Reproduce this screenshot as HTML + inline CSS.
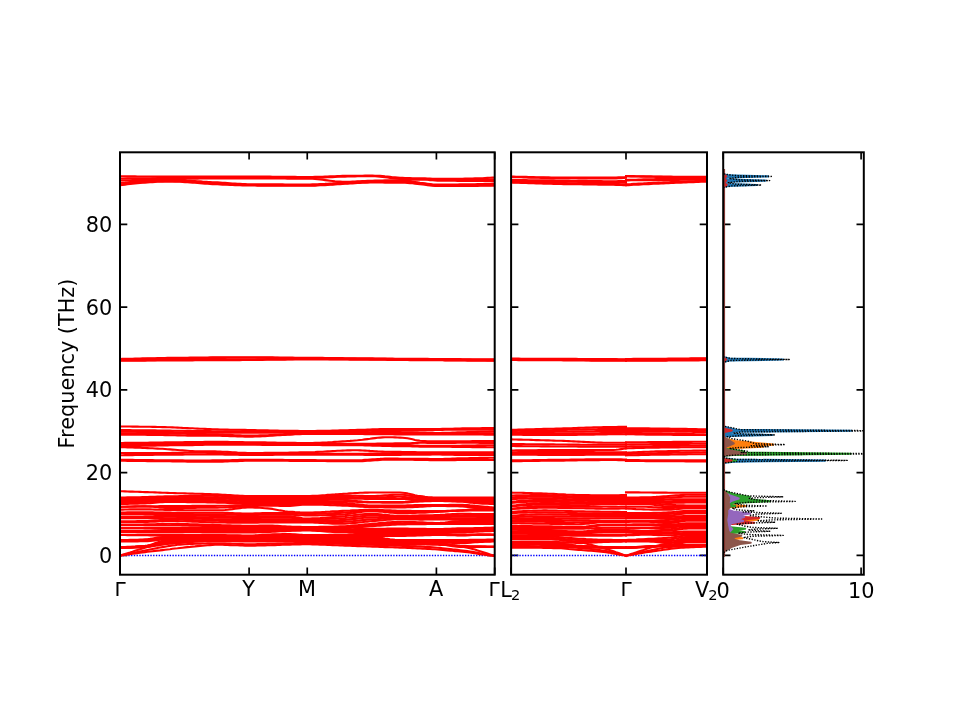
<!DOCTYPE html>
<html lang="en"><head><meta charset="utf-8"><title>Phonon band structure and DOS</title>
<style>html,body{margin:0;padding:0;background:#fff}svg{display:block}</style></head>
<body>
<svg width="960" height="720" viewBox="0 0 960 720">
<rect width="960" height="720" fill="#ffffff"/>
<defs>
<clipPath id="c1"><rect x="120.00" y="152.30" width="374.70" height="422.40"/></clipPath>
<clipPath id="c2"><rect x="511.10" y="152.30" width="195.90" height="422.40"/></clipPath>
<clipPath id="c3"><rect x="723.20" y="152.30" width="140.60" height="422.40"/></clipPath>
</defs>
<path d="M120.00 555.30L127.30 555.30M494.70 555.30L487.40 555.30M120.00 472.55L127.30 472.55M494.70 472.55L487.40 472.55M120.00 389.80L127.30 389.80M494.70 389.80L487.40 389.80M120.00 307.05L127.30 307.05M494.70 307.05L487.40 307.05M120.00 224.30L127.30 224.30M494.70 224.30L487.40 224.30M511.10 555.30L518.40 555.30M707.00 555.30L699.70 555.30M511.10 472.55L518.40 472.55M707.00 472.55L699.70 472.55M511.10 389.80L518.40 389.80M707.00 389.80L699.70 389.80M511.10 307.05L518.40 307.05M707.00 307.05L699.70 307.05M511.10 224.30L518.40 224.30M707.00 224.30L699.70 224.30M723.20 555.30L730.50 555.30M863.80 555.30L856.50 555.30M723.20 472.55L730.50 472.55M863.80 472.55L856.50 472.55M723.20 389.80L730.50 389.80M863.80 389.80L856.50 389.80M723.20 307.05L730.50 307.05M863.80 307.05L856.50 307.05M723.20 224.30L730.50 224.30M863.80 224.30L856.50 224.30M120.00 574.70L120.00 567.40M120.00 152.30L120.00 159.60M249.10 574.70L249.10 567.40M249.10 152.30L249.10 159.60M307.25 574.70L307.25 567.40M307.25 152.30L307.25 159.60M436.40 574.70L436.40 567.40M436.40 152.30L436.40 159.60M494.70 574.70L494.70 567.40M494.70 152.30L494.70 159.60M511.10 574.70L511.10 567.40M511.10 152.30L511.10 159.60M626.00 574.70L626.00 567.40M626.00 152.30L626.00 159.60M707.00 574.70L707.00 567.40M707.00 152.30L707.00 159.60M723.20 574.70L723.20 567.40M723.20 152.30L723.20 159.60M861.10 574.70L861.10 567.40M861.10 152.30L861.10 159.60" stroke="#000" stroke-width="1.67" fill="none"/>
<g clip-path="url(#c1)">
<line x1="120.0" y1="555.4" x2="494.7" y2="555.4" stroke="#0000ff" stroke-width="1.5" stroke-dasharray="1.38 1.38"/>
<polyline points="120.0,176.3 122.5,176.3 125.0,176.4 127.5,176.4 130.0,176.4 132.5,176.4 135.0,176.4 137.5,176.5 140.0,176.5 142.5,176.5 145.0,176.5 147.5,176.5 150.0,176.5 152.5,176.6 155.0,176.6 157.5,176.6 160.0,176.6 162.5,176.6 165.0,176.6 167.5,176.6 170.0,176.6 172.5,176.6 175.0,176.6 177.5,176.6 180.0,176.6 182.5,176.6 185.0,176.6 187.5,176.6 190.0,176.6 192.5,176.6 195.0,176.5 197.5,176.5 200.0,176.5 202.5,176.5 205.0,176.5 207.5,176.5 210.0,176.5 212.5,176.5 215.0,176.5 217.5,176.5 220.0,176.5 222.5,176.5 225.0,176.5 227.5,176.5 230.0,176.5 232.5,176.5 235.0,176.5 237.5,176.5 240.0,176.5 242.5,176.5 245.0,176.5 247.5,176.5 250.0,176.5 252.5,176.5 255.0,176.5 257.5,176.5 260.0,176.5 262.5,176.6 265.0,176.6 267.5,176.6 270.0,176.6 272.5,176.7 275.0,176.7 277.5,176.7 280.0,176.8 282.5,176.8 285.0,176.8 287.5,176.9 290.0,176.9 292.5,176.9 295.0,176.9 297.5,177.0 300.0,177.0 302.5,177.0 305.0,177.0 307.5,177.0 310.0,177.0 312.5,177.0 315.0,176.9 317.5,176.8 320.0,176.8 322.5,176.7 325.0,176.6 327.5,176.5 330.0,176.4 332.5,176.3 335.0,176.2 337.5,176.1 340.0,176.0 342.5,175.9 345.0,175.9 347.5,175.9 350.0,175.8 352.5,175.8 355.0,175.7 357.5,175.7 360.0,175.7 362.5,175.7 365.0,175.6 367.5,175.6 370.0,175.6 372.5,175.6 375.0,175.7 377.5,175.8 380.0,175.9 382.5,176.1 385.0,176.4 387.5,176.6 390.0,176.9 392.5,177.2 395.0,177.4 397.5,177.6 400.0,177.8 402.5,177.9 405.0,178.0 407.5,178.1 410.0,178.1 412.5,178.2 415.0,178.2 417.5,178.3 420.0,178.3 422.5,178.4 425.0,178.4 427.5,178.5 430.0,178.6 432.5,178.7 435.0,178.8 437.5,178.8 440.0,178.8 442.5,178.8 445.0,178.8 447.5,178.8 450.0,178.8 452.5,178.8 455.0,178.8 457.5,178.7 460.0,178.7 462.5,178.7 465.0,178.6 467.5,178.6 470.0,178.6 472.5,178.5 475.0,178.4 477.5,178.3 480.0,178.3 482.5,178.2 485.0,178.0 487.5,177.9 490.0,177.8 492.5,177.6 494.7,177.5" fill="none" stroke="#ff0000" stroke-width="2.08" stroke-linejoin="round" stroke-linecap="square"/>
<polyline points="120.0,178.5 122.5,178.5 125.0,178.5 127.5,178.4 130.0,178.4 132.5,178.4 135.0,178.4 137.5,178.3 140.0,178.3 142.5,178.3 145.0,178.3 147.5,178.2 150.0,178.2 152.5,178.2 155.0,178.2 157.5,178.1 160.0,178.1 162.5,178.1 165.0,178.1 167.5,178.0 170.0,178.0 172.5,178.0 175.0,177.9 177.5,177.9 180.0,177.9 182.5,177.8 185.0,177.8 187.5,177.8 190.0,177.7 192.5,177.7 195.0,177.7 197.5,177.6 200.0,177.6 202.5,177.6 205.0,177.5 207.5,177.5 210.0,177.5 212.5,177.5 215.0,177.5 217.5,177.5 220.0,177.5 222.5,177.5 225.0,177.5 227.5,177.5 230.0,177.5 232.5,177.5 235.0,177.5 237.5,177.6 240.0,177.6 242.5,177.6 245.0,177.6 247.5,177.6 250.0,177.6 252.5,177.6 255.0,177.6 257.5,177.6 260.0,177.7 262.5,177.7 265.0,177.7 267.5,177.7 270.0,177.8 272.5,177.8 275.0,177.8 277.5,177.8 280.0,177.8 282.5,177.9 285.0,177.9 287.5,177.9 290.0,177.9 292.5,177.9 295.0,178.0 297.5,178.0 300.0,178.0 302.5,178.0 305.0,178.0 307.5,178.0 310.0,178.0 312.5,177.9 315.0,177.9 317.5,177.8 320.0,177.7 322.5,177.6 325.0,177.5 327.5,177.3 330.0,177.2 332.5,177.1 335.0,177.0 337.5,176.8 340.0,176.7 342.5,176.7 345.0,176.6 347.5,176.5 350.0,176.5 352.5,176.4 355.0,176.4 357.5,176.3 360.0,176.3 362.5,176.3 365.0,176.2 367.5,176.2 370.0,176.2 372.5,176.2 375.0,176.3 377.5,176.4 380.0,176.6 382.5,176.9 385.0,177.2 387.5,177.5 390.0,177.9 392.5,178.2 395.0,178.5 397.5,178.7 400.0,178.9 402.5,179.0 405.0,179.0 407.5,179.0 410.0,179.0 412.5,179.0 415.0,179.0 417.5,179.0 420.0,179.0 422.5,179.0 425.0,179.0 427.5,179.1 430.0,179.3 432.5,179.5 435.0,179.7 437.5,179.7 440.0,179.7 442.5,179.7 445.0,179.7 447.5,179.7 450.0,179.7 452.5,179.7 455.0,179.7 457.5,179.7 460.0,179.7 462.5,179.7 465.0,179.7 467.5,179.7 470.0,179.7 472.5,179.7 475.0,179.6 477.5,179.6 480.0,179.6 482.5,179.6 485.0,179.6 487.5,179.6 490.0,179.5 492.5,179.5 494.7,179.5" fill="none" stroke="#ff0000" stroke-width="2.08" stroke-linejoin="round" stroke-linecap="square"/>
<polyline points="120.0,180.5 122.5,180.4 125.0,180.4 127.5,180.3 130.0,180.2 132.5,180.1 135.0,180.1 137.5,180.0 140.0,179.9 142.5,179.9 145.0,179.8 147.5,179.7 150.0,179.7 152.5,179.6 155.0,179.5 157.5,179.5 160.0,179.4 162.5,179.4 165.0,179.3 167.5,179.3 170.0,179.2 172.5,179.1 175.0,179.1 177.5,179.0 180.0,179.0 182.5,178.9 185.0,178.9 187.5,178.8 190.0,178.7 192.5,178.7 195.0,178.6 197.5,178.6 200.0,178.5 202.5,178.5 205.0,178.5 207.5,178.4 210.0,178.4 212.5,178.4 215.0,178.4 217.5,178.4 220.0,178.4 222.5,178.4 225.0,178.4 227.5,178.4 230.0,178.4 232.5,178.4 235.0,178.5 237.5,178.5 240.0,178.5 242.5,178.5 245.0,178.5 247.5,178.5 250.0,178.5 252.5,178.5 255.0,178.5 257.5,178.5 260.0,178.5 262.5,178.5 265.0,178.5 267.5,178.5 270.0,178.5 272.5,178.5 275.0,178.5 277.5,178.5 280.0,178.5 282.5,178.5 285.0,178.5 287.5,178.6 290.0,178.6 292.5,178.6 295.0,178.6 297.5,178.6 300.0,178.6 302.5,178.6 305.0,178.6 307.5,178.6 310.0,178.7 312.5,178.8 315.0,179.0 317.5,179.2 320.0,179.5 322.5,179.8 325.0,180.1 327.5,180.4 330.0,180.7 332.5,181.0 335.0,181.3 337.5,181.5 340.0,181.6 342.5,181.8 345.0,181.8 347.5,181.8 350.0,181.7 352.5,181.6 355.0,181.5 357.5,181.4 360.0,181.3 362.5,181.1 365.0,181.0 367.5,180.9 370.0,180.8 372.5,180.7 375.0,180.6 377.5,180.6 380.0,180.5 382.5,180.5 385.0,180.4 387.5,180.4 390.0,180.4 392.5,180.3 395.0,180.3 397.5,180.2 400.0,180.2 402.5,180.1 405.0,180.1 407.5,180.0 410.0,179.9 412.5,179.8 415.0,179.8 417.5,179.7 420.0,179.6 422.5,179.6 425.0,179.6 427.5,179.8 430.0,180.1 432.5,180.3 435.0,180.5 437.5,180.6 440.0,180.7 442.5,180.7 445.0,180.7 447.5,180.8 450.0,180.8 452.5,180.8 455.0,180.8 457.5,180.9 460.0,180.9 462.5,180.9 465.0,180.9 467.5,180.9 470.0,180.9 472.5,181.0 475.0,181.0 477.5,181.0 480.0,181.0 482.5,181.0 485.0,181.0 487.5,181.0 490.0,181.0 492.5,181.0 494.7,181.0" fill="none" stroke="#ff0000" stroke-width="2.08" stroke-linejoin="round" stroke-linecap="square"/>
<polyline points="120.0,183.0 122.5,182.7 125.0,182.5 127.5,182.2 130.0,182.0 132.5,181.8 135.0,181.6 137.5,181.4 140.0,181.2 142.5,181.1 145.0,180.9 147.5,180.8 150.0,180.7 152.5,180.6 155.0,180.5 157.5,180.4 160.0,180.3 162.5,180.3 165.0,180.2 167.5,180.2 170.0,180.2 172.5,180.2 175.0,180.2 177.5,180.3 180.0,180.4 182.5,180.5 185.0,180.6 187.5,180.7 190.0,180.8 192.5,181.0 195.0,181.1 197.5,181.3 200.0,181.4 202.5,181.6 205.0,181.7 207.5,181.9 210.0,182.0 212.5,182.2 215.0,182.3 217.5,182.4 220.0,182.6 222.5,182.8 225.0,182.9 227.5,183.1 230.0,183.3 232.5,183.5 235.0,183.6 237.5,183.8 240.0,183.9 242.5,184.0 245.0,184.1 247.5,184.2 250.0,184.2 252.5,184.2 255.0,184.3 257.5,184.3 260.0,184.3 262.5,184.3 265.0,184.3 267.5,184.4 270.0,184.4 272.5,184.4 275.0,184.4 277.5,184.4 280.0,184.4 282.5,184.4 285.0,184.5 287.5,184.5 290.0,184.5 292.5,184.5 295.0,184.5 297.5,184.5 300.0,184.5 302.5,184.5 305.0,184.5 307.5,184.5 310.0,184.5 312.5,184.4 315.0,184.4 317.5,184.3 320.0,184.1 322.5,184.0 325.0,183.9 327.5,183.7 330.0,183.5 332.5,183.4 335.0,183.2 337.5,183.0 340.0,182.9 342.5,182.7 345.0,182.6 347.5,182.5 350.0,182.3 352.5,182.2 355.0,182.0 357.5,181.9 360.0,181.8 362.5,181.6 365.0,181.5 367.5,181.4 370.0,181.3 372.5,181.3 375.0,181.3 377.5,181.2 380.0,181.2 382.5,181.1 385.0,181.1 387.5,181.1 390.0,181.1 392.5,181.0 395.0,181.0 397.5,181.0 400.0,181.0 402.5,181.0 405.0,181.0 407.5,181.1 410.0,181.4 412.5,181.7 415.0,182.0 417.5,182.4 420.0,182.8 422.5,183.1 425.0,183.4 427.5,183.7 430.0,184.0 432.5,184.3 435.0,184.5 437.5,184.5 440.0,184.5 442.5,184.5 445.0,184.5 447.5,184.5 450.0,184.5 452.5,184.5 455.0,184.5 457.5,184.5 460.0,184.4 462.5,184.4 465.0,184.4 467.5,184.3 470.0,184.3 472.5,184.3 475.0,184.2 477.5,184.1 480.0,184.1 482.5,184.0 485.0,183.9 487.5,183.8 490.0,183.7 492.5,183.6 494.7,183.5" fill="none" stroke="#ff0000" stroke-width="2.08" stroke-linejoin="round" stroke-linecap="square"/>
<polyline points="120.0,184.5 122.5,184.2 125.0,183.9 127.5,183.6 130.0,183.3 132.5,183.0 135.0,182.8 137.5,182.5 140.0,182.3 142.5,182.1 145.0,181.9 147.5,181.7 150.0,181.6 152.5,181.5 155.0,181.3 157.5,181.2 160.0,181.2 162.5,181.1 165.0,181.0 167.5,181.0 170.0,181.0 172.5,181.0 175.0,181.1 177.5,181.1 180.0,181.2 182.5,181.3 185.0,181.4 187.5,181.6 190.0,181.7 192.5,181.9 195.0,182.0 197.5,182.2 200.0,182.4 202.5,182.5 205.0,182.7 207.5,182.9 210.0,183.0 212.5,183.2 215.0,183.3 217.5,183.4 220.0,183.6 222.5,183.7 225.0,183.9 227.5,184.1 230.0,184.2 232.5,184.4 235.0,184.5 237.5,184.6 240.0,184.8 242.5,184.9 245.0,184.9 247.5,185.0 250.0,185.0 252.5,185.0 255.0,185.0 257.5,185.1 260.0,185.1 262.5,185.1 265.0,185.1 267.5,185.1 270.0,185.1 272.5,185.1 275.0,185.1 277.5,185.1 280.0,185.2 282.5,185.2 285.0,185.2 287.5,185.2 290.0,185.2 292.5,185.2 295.0,185.2 297.5,185.2 300.0,185.2 302.5,185.2 305.0,185.2 307.5,185.2 310.0,185.2 312.5,185.1 315.0,185.1 317.5,185.0 320.0,184.8 322.5,184.7 325.0,184.6 327.5,184.4 330.0,184.2 332.5,184.1 335.0,183.9 337.5,183.7 340.0,183.6 342.5,183.4 345.0,183.3 347.5,183.2 350.0,183.0 352.5,182.8 355.0,182.7 357.5,182.5 360.0,182.3 362.5,182.2 365.0,182.1 367.5,182.0 370.0,181.9 372.5,181.9 375.0,181.9 377.5,181.9 380.0,181.9 382.5,181.9 385.0,181.9 387.5,181.9 390.0,181.9 392.5,181.9 395.0,181.9 397.5,181.9 400.0,181.9 402.5,181.9 405.0,181.9 407.5,182.0 410.0,182.2 412.5,182.5 415.0,182.8 417.5,183.2 420.0,183.5 422.5,183.8 425.0,184.1 427.5,184.4 430.0,184.8 432.5,185.1 435.0,185.3 437.5,185.3 440.0,185.3 442.5,185.3 445.0,185.3 447.5,185.3 450.0,185.3 452.5,185.3 455.0,185.3 457.5,185.3 460.0,185.3 462.5,185.3 465.0,185.3 467.5,185.3 470.0,185.2 472.5,185.2 475.0,185.2 477.5,185.2 480.0,185.2 482.5,185.2 485.0,185.1 487.5,185.1 490.0,185.1 492.5,185.0 494.7,185.0" fill="none" stroke="#ff0000" stroke-width="2.08" stroke-linejoin="round" stroke-linecap="square"/>
<polyline points="120.0,185.3 122.5,184.9 125.0,184.6 127.5,184.3 130.0,184.0 132.5,183.7 135.0,183.4 137.5,183.2 140.0,183.0 142.5,182.8 145.0,182.6 147.5,182.4 150.0,182.2 152.5,182.1 155.0,181.9 157.5,181.8 160.0,181.8 162.5,181.7 165.0,181.6 167.5,181.6 170.0,181.6 172.5,181.6 175.0,181.7 177.5,181.7 180.0,181.8 182.5,182.0 185.0,182.1 187.5,182.3 190.0,182.5 192.5,182.6 195.0,182.8 197.5,183.0 200.0,183.2 202.5,183.4 205.0,183.6 207.5,183.8 210.0,183.9 212.5,184.1 215.0,184.2 217.5,184.3 220.0,184.4 222.5,184.6 225.0,184.7 227.5,184.8 230.0,184.9 232.5,185.0 235.0,185.1 237.5,185.2 240.0,185.3 242.5,185.4 245.0,185.4 247.5,185.5 250.0,185.5 252.5,185.5 255.0,185.5 257.5,185.6 260.0,185.6 262.5,185.6 265.0,185.6 267.5,185.6 270.0,185.6 272.5,185.6 275.0,185.6 277.5,185.6 280.0,185.7 282.5,185.7 285.0,185.7 287.5,185.7 290.0,185.7 292.5,185.7 295.0,185.7 297.5,185.7 300.0,185.7 302.5,185.7 305.0,185.7 307.5,185.7 310.0,185.7 312.5,185.6 315.0,185.6 317.5,185.5 320.0,185.3 322.5,185.2 325.0,185.1 327.5,184.9 330.0,184.7 332.5,184.6 335.0,184.4 337.5,184.2 340.0,184.1 342.5,183.9 345.0,183.8 347.5,183.7 350.0,183.5 352.5,183.4 355.0,183.2 357.5,183.0 360.0,182.9 362.5,182.8 365.0,182.7 367.5,182.6 370.0,182.5 372.5,182.5 375.0,182.5 377.5,182.5 380.0,182.5 382.5,182.5 385.0,182.6 387.5,182.6 390.0,182.6 392.5,182.6 395.0,182.7 397.5,182.7 400.0,182.7 402.5,182.8 405.0,182.8 407.5,182.9 410.0,183.1 412.5,183.3 415.0,183.6 417.5,183.9 420.0,184.2 422.5,184.4 425.0,184.7 427.5,185.1 430.0,185.4 432.5,185.8 435.0,186.0 437.5,186.0 440.0,186.0 442.5,186.0 445.0,186.0 447.5,186.0 450.0,186.0 452.5,186.0 455.0,186.0 457.5,186.0 460.0,186.0 462.5,186.0 465.0,186.0 467.5,185.9 470.0,185.9 472.5,185.9 475.0,185.9 477.5,185.9 480.0,185.8 482.5,185.8 485.0,185.8 487.5,185.7 490.0,185.7 492.5,185.6 494.7,185.6" fill="none" stroke="#ff0000" stroke-width="2.08" stroke-linejoin="round" stroke-linecap="square"/>
<polyline points="120.0,359.0 122.5,358.9 125.0,358.9 127.5,358.8 130.0,358.7 132.5,358.7 135.0,358.6 137.5,358.5 140.0,358.5 142.5,358.4 145.0,358.4 147.5,358.3 150.0,358.3 152.5,358.2 155.0,358.2 157.5,358.1 160.0,358.1 162.5,358.0 165.0,358.0 167.5,357.9 170.0,357.9 172.5,357.9 175.0,357.8 177.5,357.8 180.0,357.8 182.5,357.7 185.0,357.7 187.5,357.7 190.0,357.6 192.5,357.6 195.0,357.6 197.5,357.5 200.0,357.5 202.5,357.5 205.0,357.5 207.5,357.5 210.0,357.4 212.5,357.4 215.0,357.4 217.5,357.4 220.0,357.4 222.5,357.4 225.0,357.4 227.5,357.3 230.0,357.3 232.5,357.3 235.0,357.3 237.5,357.3 240.0,357.3 242.5,357.3 245.0,357.3 247.5,357.3 250.0,357.3 252.5,357.3 255.0,357.3 257.5,357.3 260.0,357.3 262.5,357.3 265.0,357.4 267.5,357.4 270.0,357.4 272.5,357.4 275.0,357.5 277.5,357.5 280.0,357.5 282.5,357.5 285.0,357.6 287.5,357.6 290.0,357.6 292.5,357.6 295.0,357.7 297.5,357.7 300.0,357.7 302.5,357.8 305.0,357.8 307.5,357.8 310.0,357.8 312.5,357.8 315.0,357.9 317.5,357.9 320.0,357.9 322.5,357.9 325.0,358.0 327.5,358.0 330.0,358.0 332.5,358.0 335.0,358.1 337.5,358.1 340.0,358.1 342.5,358.1 345.0,358.2 347.5,358.2 350.0,358.2 352.5,358.2 355.0,358.3 357.5,358.3 360.0,358.3 362.5,358.3 365.0,358.4 367.5,358.4 370.0,358.4 372.5,358.4 375.0,358.5 377.5,358.5 380.0,358.5 382.5,358.5 385.0,358.6 387.5,358.6 390.0,358.6 392.5,358.6 395.0,358.7 397.5,358.7 400.0,358.7 402.5,358.7 405.0,358.8 407.5,358.8 410.0,358.8 412.5,358.8 415.0,358.8 417.5,358.9 420.0,358.9 422.5,358.9 425.0,358.9 427.5,358.9 430.0,359.0 432.5,359.0 435.0,359.0 437.5,359.0 440.0,359.0 442.5,359.0 445.0,359.1 447.5,359.1 450.0,359.1 452.5,359.1 455.0,359.1 457.5,359.1 460.0,359.1 462.5,359.2 465.0,359.2 467.5,359.2 470.0,359.2 472.5,359.2 475.0,359.2 477.5,359.2 480.0,359.2 482.5,359.2 485.0,359.3 487.5,359.3 490.0,359.3 492.5,359.3 494.7,359.3" fill="none" stroke="#ff0000" stroke-width="2.08" stroke-linejoin="round" stroke-linecap="square"/>
<polyline points="120.0,359.6 122.5,359.5 125.0,359.5 127.5,359.4 130.0,359.3 132.5,359.3 135.0,359.2 137.5,359.1 140.0,359.1 142.5,359.0 145.0,359.0 147.5,358.9 150.0,358.9 152.5,358.8 155.0,358.7 157.5,358.7 160.0,358.6 162.5,358.6 165.0,358.6 167.5,358.5 170.0,358.5 172.5,358.4 175.0,358.4 177.5,358.3 180.0,358.3 182.5,358.3 185.0,358.2 187.5,358.2 190.0,358.2 192.5,358.1 195.0,358.1 197.5,358.1 200.0,358.1 202.5,358.0 205.0,358.0 207.5,358.0 210.0,358.0 212.5,357.9 215.0,357.9 217.5,357.9 220.0,357.9 222.5,357.9 225.0,357.9 227.5,357.8 230.0,357.8 232.5,357.8 235.0,357.8 237.5,357.8 240.0,357.8 242.5,357.8 245.0,357.8 247.5,357.8 250.0,357.8 252.5,357.8 255.0,357.8 257.5,357.8 260.0,357.8 262.5,357.8 265.0,357.8 267.5,357.9 270.0,357.9 272.5,357.9 275.0,357.9 277.5,357.9 280.0,358.0 282.5,358.0 285.0,358.0 287.5,358.0 290.0,358.0 292.5,358.1 295.0,358.1 297.5,358.1 300.0,358.1 302.5,358.2 305.0,358.2 307.5,358.2 310.0,358.2 312.5,358.2 315.0,358.3 317.5,358.3 320.0,358.3 322.5,358.3 325.0,358.3 327.5,358.4 330.0,358.4 332.5,358.4 335.0,358.4 337.5,358.5 340.0,358.5 342.5,358.5 345.0,358.5 347.5,358.6 350.0,358.6 352.5,358.6 355.0,358.6 357.5,358.7 360.0,358.7 362.5,358.7 365.0,358.7 367.5,358.8 370.0,358.8 372.5,358.8 375.0,358.8 377.5,358.9 380.0,358.9 382.5,358.9 385.0,358.9 387.5,359.0 390.0,359.0 392.5,359.0 395.0,359.0 397.5,359.1 400.0,359.1 402.5,359.1 405.0,359.1 407.5,359.2 410.0,359.2 412.5,359.2 415.0,359.2 417.5,359.2 420.0,359.3 422.5,359.3 425.0,359.3 427.5,359.3 430.0,359.3 432.5,359.4 435.0,359.4 437.5,359.4 440.0,359.4 442.5,359.4 445.0,359.5 447.5,359.5 450.0,359.5 452.5,359.5 455.0,359.5 457.5,359.6 460.0,359.6 462.5,359.6 465.0,359.6 467.5,359.6 470.0,359.6 472.5,359.7 475.0,359.7 477.5,359.7 480.0,359.7 482.5,359.7 485.0,359.7 487.5,359.8 490.0,359.8 492.5,359.8 494.7,359.8" fill="none" stroke="#ff0000" stroke-width="2.08" stroke-linejoin="round" stroke-linecap="square"/>
<polyline points="120.0,360.2 122.5,360.2 125.0,360.2 127.5,360.2 130.0,360.2 132.5,360.2 135.0,360.1 137.5,360.1 140.0,360.1 142.5,360.1 145.0,360.1 147.5,360.1 150.0,360.1 152.5,360.1 155.0,360.1 157.5,360.0 160.0,360.0 162.5,360.0 165.0,360.0 167.5,360.0 170.0,360.0 172.5,360.0 175.0,360.0 177.5,359.9 180.0,359.9 182.5,359.9 185.0,359.9 187.5,359.9 190.0,359.9 192.5,359.9 195.0,359.8 197.5,359.8 200.0,359.8 202.5,359.8 205.0,359.8 207.5,359.8 210.0,359.8 212.5,359.7 215.0,359.7 217.5,359.7 220.0,359.7 222.5,359.7 225.0,359.7 227.5,359.6 230.0,359.6 232.5,359.6 235.0,359.6 237.5,359.6 240.0,359.6 242.5,359.5 245.0,359.5 247.5,359.5 250.0,359.5 252.5,359.5 255.0,359.5 257.5,359.4 260.0,359.4 262.5,359.4 265.0,359.4 267.5,359.3 270.0,359.3 272.5,359.3 275.0,359.2 277.5,359.2 280.0,359.2 282.5,359.2 285.0,359.1 287.5,359.1 290.0,359.1 292.5,359.1 295.0,359.0 297.5,359.0 300.0,359.0 302.5,359.0 305.0,359.0 307.5,359.0 310.0,359.0 312.5,359.0 315.0,359.0 317.5,359.0 320.0,359.0 322.5,359.0 325.0,359.0 327.5,359.0 330.0,359.1 332.5,359.1 335.0,359.1 337.5,359.1 340.0,359.1 342.5,359.1 345.0,359.1 347.5,359.2 350.0,359.2 352.5,359.2 355.0,359.2 357.5,359.3 360.0,359.3 362.5,359.3 365.0,359.3 367.5,359.3 370.0,359.4 372.5,359.4 375.0,359.4 377.5,359.4 380.0,359.5 382.5,359.5 385.0,359.5 387.5,359.5 390.0,359.6 392.5,359.6 395.0,359.6 397.5,359.6 400.0,359.7 402.5,359.7 405.0,359.7 407.5,359.7 410.0,359.8 412.5,359.8 415.0,359.8 417.5,359.8 420.0,359.9 422.5,359.9 425.0,359.9 427.5,359.9 430.0,360.0 432.5,360.0 435.0,360.0 437.5,360.0 440.0,360.0 442.5,360.0 445.0,360.1 447.5,360.1 450.0,360.1 452.5,360.1 455.0,360.1 457.5,360.1 460.0,360.2 462.5,360.2 465.0,360.2 467.5,360.2 470.0,360.2 472.5,360.3 475.0,360.3 477.5,360.3 480.0,360.3 482.5,360.3 485.0,360.3 487.5,360.4 490.0,360.4 492.5,360.4 494.7,360.4" fill="none" stroke="#ff0000" stroke-width="2.08" stroke-linejoin="round" stroke-linecap="square"/>
<polyline points="120.0,360.6 122.5,360.6 125.0,360.6 127.5,360.6 130.0,360.6 132.5,360.6 135.0,360.6 137.5,360.6 140.0,360.6 142.5,360.6 145.0,360.6 147.5,360.5 150.0,360.5 152.5,360.5 155.0,360.5 157.5,360.5 160.0,360.5 162.5,360.5 165.0,360.5 167.5,360.5 170.0,360.5 172.5,360.5 175.0,360.4 177.5,360.4 180.0,360.4 182.5,360.4 185.0,360.4 187.5,360.4 190.0,360.4 192.5,360.4 195.0,360.3 197.5,360.3 200.0,360.3 202.5,360.3 205.0,360.3 207.5,360.3 210.0,360.3 212.5,360.2 215.0,360.2 217.5,360.2 220.0,360.2 222.5,360.2 225.0,360.2 227.5,360.1 230.0,360.1 232.5,360.1 235.0,360.1 237.5,360.1 240.0,360.1 242.5,360.0 245.0,360.0 247.5,360.0 250.0,360.0 252.5,360.0 255.0,360.0 257.5,359.9 260.0,359.9 262.5,359.9 265.0,359.8 267.5,359.8 270.0,359.8 272.5,359.7 275.0,359.7 277.5,359.7 280.0,359.6 282.5,359.6 285.0,359.6 287.5,359.5 290.0,359.5 292.5,359.5 295.0,359.5 297.5,359.4 300.0,359.4 302.5,359.4 305.0,359.4 307.5,359.4 310.0,359.4 312.5,359.4 315.0,359.4 317.5,359.4 320.0,359.4 322.5,359.4 325.0,359.4 327.5,359.4 330.0,359.4 332.5,359.5 335.0,359.5 337.5,359.5 340.0,359.5 342.5,359.5 345.0,359.5 347.5,359.5 350.0,359.6 352.5,359.6 355.0,359.6 357.5,359.6 360.0,359.6 362.5,359.6 365.0,359.7 367.5,359.7 370.0,359.7 372.5,359.7 375.0,359.8 377.5,359.8 380.0,359.8 382.5,359.8 385.0,359.8 387.5,359.9 390.0,359.9 392.5,359.9 395.0,359.9 397.5,360.0 400.0,360.0 402.5,360.0 405.0,360.0 407.5,360.0 410.0,360.1 412.5,360.1 415.0,360.1 417.5,360.1 420.0,360.2 422.5,360.2 425.0,360.2 427.5,360.2 430.0,360.2 432.5,360.3 435.0,360.3 437.5,360.3 440.0,360.3 442.5,360.3 445.0,360.4 447.5,360.4 450.0,360.4 452.5,360.4 455.0,360.5 457.5,360.5 460.0,360.5 462.5,360.5 465.0,360.5 467.5,360.6 470.0,360.6 472.5,360.6 475.0,360.6 477.5,360.6 480.0,360.7 482.5,360.7 485.0,360.7 487.5,360.7 490.0,360.8 492.5,360.8 494.7,360.8" fill="none" stroke="#ff0000" stroke-width="2.08" stroke-linejoin="round" stroke-linecap="square"/>
<polyline points="120.0,426.5 122.5,426.5 125.0,426.5 127.5,426.5 130.0,426.5 132.5,426.6 135.0,426.6 137.5,426.6 140.0,426.7 142.5,426.7 145.0,426.7 147.5,426.8 150.0,426.8 152.5,426.9 155.0,426.9 157.5,427.0 160.0,427.0 162.5,427.1 165.0,427.1 167.5,427.2 170.0,427.3 172.5,427.4 175.0,427.5 177.5,427.6 180.0,427.7 182.5,427.9 185.0,428.0 187.5,428.1 190.0,428.2 192.5,428.3 195.0,428.5 197.5,428.6 200.0,428.7 202.5,428.8 205.0,428.9 207.5,429.0 210.0,429.1 212.5,429.2 215.0,429.3 217.5,429.4 220.0,429.5 222.5,429.5 225.0,429.6 227.5,429.6 230.0,429.7 232.5,429.7 235.0,429.8 237.5,429.8 240.0,429.8 242.5,429.9 245.0,429.9 247.5,430.0 250.0,430.0 252.5,430.1 255.0,430.1 257.5,430.2 260.0,430.2 262.5,430.3 265.0,430.3 267.5,430.4 270.0,430.5 272.5,430.5 275.0,430.6 277.5,430.6 280.0,430.7 282.5,430.7 285.0,430.8 287.5,430.8 290.0,430.9 292.5,430.9 295.0,430.9 297.5,430.9 300.0,431.0 302.5,431.0 305.0,431.0 307.5,431.0 310.0,431.0 312.5,431.0 315.0,431.0 317.5,430.9 320.0,430.9 322.5,430.8 325.0,430.8 327.5,430.7 330.0,430.7 332.5,430.6 335.0,430.5 337.5,430.5 340.0,430.4 342.5,430.3 345.0,430.3 347.5,430.2 350.0,430.1 352.5,430.1 355.0,430.0 357.5,429.9 360.0,429.8 362.5,429.8 365.0,429.7 367.5,429.6 370.0,429.5 372.5,429.4 375.0,429.3 377.5,429.2 380.0,429.1 382.5,429.1 385.0,429.0 387.5,429.0 390.0,429.0 392.5,429.0 395.0,429.0 397.5,429.0 400.0,429.0 402.5,429.0 405.0,429.0 407.5,429.0 410.0,429.0 412.5,429.0 415.0,429.0 417.5,429.0 420.0,429.0 422.5,429.0 425.0,429.0 427.5,429.0 430.0,429.0 432.5,429.0 435.0,429.0 437.5,429.0 440.0,429.0 442.5,428.9 445.0,428.9 447.5,428.8 450.0,428.8 452.5,428.7 455.0,428.6 457.5,428.6 460.0,428.5 462.5,428.4 465.0,428.4 467.5,428.4 470.0,428.3 472.5,428.3 475.0,428.2 477.5,428.2 480.0,428.2 482.5,428.1 485.0,428.1 487.5,428.1 490.0,428.0 492.5,428.0 494.7,428.0" fill="none" stroke="#ff0000" stroke-width="2.08" stroke-linejoin="round" stroke-linecap="square"/>
<polyline points="120.0,430.0 122.5,430.0 125.0,430.1 127.5,430.1 130.0,430.1 132.5,430.2 135.0,430.2 137.5,430.2 140.0,430.2 142.5,430.3 145.0,430.3 147.5,430.3 150.0,430.4 152.5,430.4 155.0,430.4 157.5,430.5 160.0,430.5 162.5,430.5 165.0,430.6 167.5,430.6 170.0,430.6 172.5,430.7 175.0,430.7 177.5,430.8 180.0,430.8 182.5,430.8 185.0,430.9 187.5,430.9 190.0,430.9 192.5,431.0 195.0,431.0 197.5,431.0 200.0,431.0 202.5,431.1 205.0,431.1 207.5,431.1 210.0,431.1 212.5,431.2 215.0,431.2 217.5,431.2 220.0,431.2 222.5,431.2 225.0,431.3 227.5,431.3 230.0,431.3 232.5,431.3 235.0,431.4 237.5,431.4 240.0,431.4 242.5,431.4 245.0,431.5 247.5,431.5 250.0,431.5 252.5,431.5 255.0,431.6 257.5,431.6 260.0,431.6 262.5,431.6 265.0,431.7 267.5,431.7 270.0,431.7 272.5,431.8 275.0,431.8 277.5,431.8 280.0,431.8 282.5,431.9 285.0,431.9 287.5,431.9 290.0,431.9 292.5,431.9 295.0,432.0 297.5,432.0 300.0,432.0 302.5,432.0 305.0,432.0 307.5,432.0 310.0,432.0 312.5,432.0 315.0,432.0 317.5,431.9 320.0,431.9 322.5,431.9 325.0,431.8 327.5,431.8 330.0,431.7 332.5,431.7 335.0,431.6 337.5,431.6 340.0,431.5 342.5,431.5 345.0,431.4 347.5,431.4 350.0,431.3 352.5,431.2 355.0,431.2 357.5,431.1 360.0,431.1 362.5,431.0 365.0,431.0 367.5,430.9 370.0,430.8 372.5,430.8 375.0,430.7 377.5,430.7 380.0,430.6 382.5,430.6 385.0,430.5 387.5,430.5 390.0,430.5 392.5,430.5 395.0,430.5 397.5,430.4 400.0,430.4 402.5,430.4 405.0,430.4 407.5,430.4 410.0,430.4 412.5,430.4 415.0,430.3 417.5,430.3 420.0,430.3 422.5,430.3 425.0,430.3 427.5,430.2 430.0,430.1 432.5,430.1 435.0,430.0 437.5,430.0 440.0,429.9 442.5,429.9 445.0,429.8 447.5,429.8 450.0,429.8 452.5,429.7 455.0,429.7 457.5,429.6 460.0,429.6 462.5,429.6 465.0,429.6 467.5,429.6 470.0,429.6 472.5,429.6 475.0,429.6 477.5,429.6 480.0,429.6 482.5,429.6 485.0,429.6 487.5,429.6 490.0,429.7 492.5,429.7 494.7,429.7" fill="none" stroke="#ff0000" stroke-width="2.08" stroke-linejoin="round" stroke-linecap="square"/>
<polyline points="120.0,431.8 122.5,431.8 125.0,431.8 127.5,431.8 130.0,431.8 132.5,431.8 135.0,431.8 137.5,431.9 140.0,431.9 142.5,431.9 145.0,431.9 147.5,431.9 150.0,431.9 152.5,431.9 155.0,432.0 157.5,432.0 160.0,432.0 162.5,432.0 165.0,432.0 167.5,432.1 170.0,432.1 172.5,432.1 175.0,432.2 177.5,432.2 180.0,432.3 182.5,432.3 185.0,432.3 187.5,432.4 190.0,432.4 192.5,432.4 195.0,432.5 197.5,432.5 200.0,432.6 202.5,432.6 205.0,432.7 207.5,432.7 210.0,432.7 212.5,432.8 215.0,432.8 217.5,432.8 220.0,432.8 222.5,432.8 225.0,432.8 227.5,432.8 230.0,432.7 232.5,432.7 235.0,432.7 237.5,432.7 240.0,432.6 242.5,432.6 245.0,432.6 247.5,432.6 250.0,432.6 252.5,432.6 255.0,432.6 257.5,432.6 260.0,432.6 262.5,432.7 265.0,432.7 267.5,432.7 270.0,432.7 272.5,432.7 275.0,432.8 277.5,432.8 280.0,432.8 282.5,432.8 285.0,432.9 287.5,432.9 290.0,432.9 292.5,432.9 295.0,433.0 297.5,433.0 300.0,433.0 302.5,433.0 305.0,433.0 307.5,433.0 310.0,433.0 312.5,433.0 315.0,433.0 317.5,433.0 320.0,432.9 322.5,432.9 325.0,432.9 327.5,432.8 330.0,432.8 332.5,432.8 335.0,432.7 337.5,432.7 340.0,432.6 342.5,432.6 345.0,432.5 347.5,432.5 350.0,432.5 352.5,432.4 355.0,432.4 357.5,432.4 360.0,432.3 362.5,432.3 365.0,432.3 367.5,432.2 370.0,432.2 372.5,432.1 375.0,432.1 377.5,432.1 380.0,432.0 382.5,432.0 385.0,432.0 387.5,432.0 390.0,432.0 392.5,432.0 395.0,432.0 397.5,432.1 400.0,432.1 402.5,432.2 405.0,432.2 407.5,432.2 410.0,432.3 412.5,432.3 415.0,432.4 417.5,432.4 420.0,432.5 422.5,432.5 425.0,432.6 427.5,432.7 430.0,432.8 432.5,432.9 435.0,433.0 437.5,433.0 440.0,433.0 442.5,432.9 445.0,432.9 447.5,432.8 450.0,432.7 452.5,432.6 455.0,432.5 457.5,432.4 460.0,432.4 462.5,432.3 465.0,432.2 467.5,432.1 470.0,432.1 472.5,432.0 475.0,432.0 477.5,431.9 480.0,431.8 482.5,431.8 485.0,431.7 487.5,431.7 490.0,431.6 492.5,431.5 494.7,431.5" fill="none" stroke="#ff0000" stroke-width="2.08" stroke-linejoin="round" stroke-linecap="square"/>
<polyline points="120.0,433.3 122.5,433.3 125.0,433.3 127.5,433.3 130.0,433.3 132.5,433.3 135.0,433.3 137.5,433.4 140.0,433.4 142.5,433.4 145.0,433.4 147.5,433.4 150.0,433.4 152.5,433.4 155.0,433.5 157.5,433.5 160.0,433.5 162.5,433.5 165.0,433.5 167.5,433.6 170.0,433.6 172.5,433.6 175.0,433.7 177.5,433.7 180.0,433.7 182.5,433.8 185.0,433.8 187.5,433.9 190.0,433.9 192.5,433.9 195.0,434.0 197.5,434.0 200.0,434.1 202.5,434.1 205.0,434.1 207.5,434.2 210.0,434.2 212.5,434.3 215.0,434.3 217.5,434.4 220.0,434.5 222.5,434.5 225.0,434.7 227.5,434.8 230.0,434.9 232.5,435.0 235.0,435.2 237.5,435.3 240.0,435.4 242.5,435.5 245.0,435.6 247.5,435.6 250.0,435.6 252.5,435.6 255.0,435.6 257.5,435.5 260.0,435.4 262.5,435.4 265.0,435.3 267.5,435.2 270.0,435.1 272.5,435.0 275.0,434.9 277.5,434.8 280.0,434.6 282.5,434.5 285.0,434.4 287.5,434.3 290.0,434.2 292.5,434.1 295.0,434.0 297.5,433.9 300.0,433.8 302.5,433.8 305.0,433.7 307.5,433.7 310.0,433.7 312.5,433.6 315.0,433.6 317.5,433.6 320.0,433.6 322.5,433.6 325.0,433.6 327.5,433.5 330.0,433.5 332.5,433.5 335.0,433.5 337.5,433.5 340.0,433.5 342.5,433.5 345.0,433.4 347.5,433.4 350.0,433.4 352.5,433.4 355.0,433.4 357.5,433.4 360.0,433.4 362.5,433.4 365.0,433.4 367.5,433.3 370.0,433.3 372.5,433.3 375.0,433.3 377.5,433.3 380.0,433.3 382.5,433.3 385.0,433.3 387.5,433.3 390.0,433.3 392.5,433.3 395.0,433.3 397.5,433.3 400.0,433.4 402.5,433.4 405.0,433.4 407.5,433.4 410.0,433.4 412.5,433.5 415.0,433.5 417.5,433.5 420.0,433.6 422.5,433.6 425.0,433.6 427.5,433.7 430.0,433.7 432.5,433.8 435.0,433.8 437.5,433.8 440.0,433.8 442.5,433.8 445.0,433.7 447.5,433.7 450.0,433.6 452.5,433.6 455.0,433.6 457.5,433.5 460.0,433.5 462.5,433.4 465.0,433.4 467.5,433.4 470.0,433.4 472.5,433.3 475.0,433.3 477.5,433.3 480.0,433.3 482.5,433.3 485.0,433.2 487.5,433.2 490.0,433.2 492.5,433.2 494.7,433.2" fill="none" stroke="#ff0000" stroke-width="2.08" stroke-linejoin="round" stroke-linecap="square"/>
<polyline points="120.0,434.7 122.5,434.7 125.0,434.7 127.5,434.7 130.0,434.7 132.5,434.7 135.0,434.8 137.5,434.8 140.0,434.8 142.5,434.8 145.0,434.8 147.5,434.9 150.0,434.9 152.5,434.9 155.0,434.9 157.5,435.0 160.0,435.0 162.5,435.0 165.0,435.1 167.5,435.1 170.0,435.2 172.5,435.2 175.0,435.3 177.5,435.4 180.0,435.4 182.5,435.5 185.0,435.5 187.5,435.6 190.0,435.6 192.5,435.7 195.0,435.7 197.5,435.7 200.0,435.7 202.5,435.7 205.0,435.7 207.5,435.8 210.0,435.8 212.5,435.8 215.0,435.8 217.5,435.8 220.0,435.8 222.5,435.9 225.0,435.9 227.5,436.0 230.0,436.1 232.5,436.2 235.0,436.3 237.5,436.4 240.0,436.4 242.5,436.5 245.0,436.6 247.5,436.6 250.0,436.6 252.5,436.6 255.0,436.5 257.5,436.5 260.0,436.4 262.5,436.2 265.0,436.1 267.5,436.0 270.0,435.8 272.5,435.7 275.0,435.5 277.5,435.3 280.0,435.2 282.5,435.0 285.0,434.9 287.5,434.7 290.0,434.6 292.5,434.4 295.0,434.3 297.5,434.2 300.0,434.1 302.5,434.0 305.0,434.0 307.5,434.0 310.0,434.0 312.5,434.0 315.0,434.0 317.5,434.0 320.0,434.0 322.5,434.0 325.0,434.0 327.5,434.0 330.0,434.0 332.5,434.0 335.0,434.0 337.5,434.0 340.0,434.0 342.5,434.0 345.0,434.0 347.5,434.0 350.0,434.0 352.5,434.0 355.0,434.0 357.5,434.0 360.0,434.0 362.5,434.0 365.0,434.1 367.5,434.1 370.0,434.1 372.5,434.1 375.0,434.2 377.5,434.2 380.0,434.2 382.5,434.3 385.0,434.3 387.5,434.3 390.0,434.3 392.5,434.3 395.0,434.4 397.5,434.4 400.0,434.4 402.5,434.4 405.0,434.4 407.5,434.4 410.0,434.4 412.5,434.4 415.0,434.4 417.5,434.4 420.0,434.4 422.5,434.4 425.0,434.4 427.5,434.4 430.0,434.4 432.5,434.4 435.0,434.4 437.5,434.4 440.0,434.4 442.5,434.4 445.0,434.4 447.5,434.4 450.0,434.4 452.5,434.4 455.0,434.4 457.5,434.4 460.0,434.4 462.5,434.4 465.0,434.4 467.5,434.4 470.0,434.4 472.5,434.4 475.0,434.4 477.5,434.5 480.0,434.5 482.5,434.5 485.0,434.6 487.5,434.6 490.0,434.6 492.5,434.7 494.7,434.7" fill="none" stroke="#ff0000" stroke-width="2.08" stroke-linejoin="round" stroke-linecap="square"/>
<polyline points="120.0,443.0 122.5,443.0 125.0,442.9 127.5,442.9 130.0,442.9 132.5,442.8 135.0,442.8 137.5,442.8 140.0,442.8 142.5,442.7 145.0,442.7 147.5,442.7 150.0,442.6 152.5,442.6 155.0,442.6 157.5,442.5 160.0,442.5 162.5,442.5 165.0,442.4 167.5,442.4 170.0,442.4 172.5,442.3 175.0,442.3 177.5,442.2 180.0,442.2 182.5,442.2 185.0,442.1 187.5,442.1 190.0,442.1 192.5,442.0 195.0,442.0 197.5,442.0 200.0,442.0 202.5,442.0 205.0,441.9 207.5,441.9 210.0,441.9 212.5,441.9 215.0,441.9 217.5,441.9 220.0,441.9 222.5,441.9 225.0,441.9 227.5,441.9 230.0,442.0 232.5,442.0 235.0,442.0 237.5,442.1 240.0,442.1 242.5,442.1 245.0,442.2 247.5,442.2 250.0,442.2 252.5,442.2 255.0,442.3 257.5,442.3 260.0,442.4 262.5,442.4 265.0,442.4 267.5,442.5 270.0,442.5 272.5,442.6 275.0,442.6 277.5,442.7 280.0,442.7 282.5,442.8 285.0,442.8 287.5,442.8 290.0,442.9 292.5,442.9 295.0,442.9 297.5,443.0 300.0,443.0 302.5,443.0 305.0,443.0 307.5,443.0 310.0,443.0 312.5,443.0 315.0,442.9 317.5,442.8 320.0,442.7 322.5,442.6 325.0,442.5 327.5,442.4 330.0,442.2 332.5,442.1 335.0,441.9 337.5,441.8 340.0,441.6 342.5,441.4 345.0,441.2 347.5,441.0 350.0,440.9 352.5,440.7 355.0,440.5 357.5,440.3 360.0,440.0 362.5,439.8 365.0,439.4 367.5,439.1 370.0,438.8 372.5,438.4 375.0,438.1 377.5,437.8 380.0,437.6 382.5,437.4 385.0,437.3 387.5,437.2 390.0,437.2 392.5,437.3 395.0,437.4 397.5,437.5 400.0,437.6 402.5,437.8 405.0,438.0 407.5,438.3 410.0,438.8 412.5,439.3 415.0,439.9 417.5,440.4 420.0,440.8 422.5,441.0 425.0,441.1 427.5,441.2 430.0,441.3 432.5,441.4 435.0,441.4 437.5,441.4 440.0,441.4 442.5,441.4 445.0,441.4 447.5,441.4 450.0,441.3 452.5,441.3 455.0,441.3 457.5,441.3 460.0,441.2 462.5,441.2 465.0,441.2 467.5,441.2 470.0,441.2 472.5,441.1 475.0,441.1 477.5,441.1 480.0,441.1 482.5,441.1 485.0,441.1 487.5,441.0 490.0,441.0 492.5,441.0 494.7,441.0" fill="none" stroke="#ff0000" stroke-width="2.08" stroke-linejoin="round" stroke-linecap="square"/>
<polyline points="120.0,444.2 122.5,444.2 125.0,444.1 127.5,444.1 130.0,444.0 132.5,444.0 135.0,443.9 137.5,443.9 140.0,443.8 142.5,443.8 145.0,443.7 147.5,443.7 150.0,443.7 152.5,443.6 155.0,443.6 157.5,443.5 160.0,443.5 162.5,443.5 165.0,443.4 167.5,443.4 170.0,443.3 172.5,443.3 175.0,443.3 177.5,443.2 180.0,443.2 182.5,443.2 185.0,443.1 187.5,443.1 190.0,443.1 192.5,443.0 195.0,443.0 197.5,443.0 200.0,443.0 202.5,442.9 205.0,442.9 207.5,442.9 210.0,442.8 212.5,442.8 215.0,442.8 217.5,442.8 220.0,442.8 222.5,442.8 225.0,442.8 227.5,442.8 230.0,442.9 232.5,442.9 235.0,442.9 237.5,443.0 240.0,443.0 242.5,443.0 245.0,443.1 247.5,443.1 250.0,443.1 252.5,443.1 255.0,443.2 257.5,443.2 260.0,443.2 262.5,443.3 265.0,443.3 267.5,443.3 270.0,443.3 272.5,443.4 275.0,443.4 277.5,443.4 280.0,443.5 282.5,443.5 285.0,443.5 287.5,443.6 290.0,443.6 292.5,443.6 295.0,443.6 297.5,443.6 300.0,443.7 302.5,443.7 305.0,443.7 307.5,443.7 310.0,443.7 312.5,443.7 315.0,443.7 317.5,443.7 320.0,443.7 322.5,443.7 325.0,443.8 327.5,443.8 330.0,443.8 332.5,443.8 335.0,443.8 337.5,443.8 340.0,443.8 342.5,443.8 345.0,443.8 347.5,443.8 350.0,443.8 352.5,443.8 355.0,443.8 357.5,443.8 360.0,443.8 362.5,443.8 365.0,443.8 367.5,443.7 370.0,443.7 372.5,443.7 375.0,443.7 377.5,443.6 380.0,443.6 382.5,443.6 385.0,443.5 387.5,443.5 390.0,443.5 392.5,443.5 395.0,443.4 397.5,443.4 400.0,443.4 402.5,443.3 405.0,443.3 407.5,443.2 410.0,443.2 412.5,443.1 415.0,443.0 417.5,442.9 420.0,442.8 422.5,442.8 425.0,442.8 427.5,442.9 430.0,442.9 432.5,443.0 435.0,443.0 437.5,443.0 440.0,443.0 442.5,443.0 445.0,443.0 447.5,442.9 450.0,442.9 452.5,442.9 455.0,442.9 457.5,442.8 460.0,442.8 462.5,442.8 465.0,442.8 467.5,442.8 470.0,442.8 472.5,442.8 475.0,442.8 477.5,442.8 480.0,442.9 482.5,442.9 485.0,442.9 487.5,442.9 490.0,442.9 492.5,443.0 494.7,443.0" fill="none" stroke="#ff0000" stroke-width="2.08" stroke-linejoin="round" stroke-linecap="square"/>
<polyline points="120.0,445.4 122.5,445.3 125.0,445.3 127.5,445.2 130.0,445.1 132.5,445.1 135.0,445.0 137.5,445.0 140.0,444.9 142.5,444.8 145.0,444.8 147.5,444.7 150.0,444.7 152.5,444.6 155.0,444.6 157.5,444.5 160.0,444.5 162.5,444.5 165.0,444.4 167.5,444.4 170.0,444.3 172.5,444.3 175.0,444.3 177.5,444.2 180.0,444.2 182.5,444.2 185.0,444.1 187.5,444.1 190.0,444.1 192.5,444.0 195.0,444.0 197.5,444.0 200.0,443.9 202.5,443.9 205.0,443.8 207.5,443.8 210.0,443.8 212.5,443.7 215.0,443.7 217.5,443.7 220.0,443.7 222.5,443.7 225.0,443.7 227.5,443.8 230.0,443.8 232.5,443.8 235.0,443.8 237.5,443.9 240.0,443.9 242.5,443.9 245.0,444.0 247.5,444.0 250.0,444.0 252.5,444.0 255.0,444.0 257.5,444.1 260.0,444.1 262.5,444.1 265.0,444.1 267.5,444.2 270.0,444.2 272.5,444.2 275.0,444.2 277.5,444.2 280.0,444.2 282.5,444.3 285.0,444.3 287.5,444.3 290.0,444.3 292.5,444.3 295.0,444.3 297.5,444.4 300.0,444.4 302.5,444.4 305.0,444.4 307.5,444.4 310.0,444.4 312.5,444.4 315.0,444.4 317.5,444.4 320.0,444.4 322.5,444.4 325.0,444.4 327.5,444.4 330.0,444.4 332.5,444.4 335.0,444.5 337.5,444.5 340.0,444.5 342.5,444.5 345.0,444.5 347.5,444.5 350.0,444.5 352.5,444.5 355.0,444.5 357.5,444.5 360.0,444.5 362.5,444.5 365.0,444.6 367.5,444.6 370.0,444.6 372.5,444.6 375.0,444.7 377.5,444.7 380.0,444.7 382.5,444.8 385.0,444.8 387.5,444.8 390.0,444.8 392.5,444.8 395.0,444.8 397.5,444.8 400.0,444.9 402.5,444.9 405.0,444.9 407.5,445.0 410.0,445.1 412.5,445.3 415.0,445.5 417.5,445.6 420.0,445.7 422.5,445.8 425.0,445.8 427.5,445.9 430.0,445.9 432.5,445.9 435.0,445.9 437.5,445.9 440.0,445.9 442.5,445.9 445.0,445.9 447.5,445.8 450.0,445.8 452.5,445.8 455.0,445.7 457.5,445.7 460.0,445.7 462.5,445.6 465.0,445.6 467.5,445.6 470.0,445.5 472.5,445.5 475.0,445.5 477.5,445.4 480.0,445.4 482.5,445.4 485.0,445.3 487.5,445.3 490.0,445.3 492.5,445.2 494.7,445.2" fill="none" stroke="#ff0000" stroke-width="2.08" stroke-linejoin="round" stroke-linecap="square"/>
<polyline points="120.0,446.4 122.5,446.3 125.0,446.3 127.5,446.2 130.0,446.1 132.5,446.1 135.0,446.0 137.5,446.0 140.0,445.9 142.5,445.8 145.0,445.8 147.5,445.7 150.0,445.7 152.5,445.6 155.0,445.6 157.5,445.5 160.0,445.5 162.5,445.5 165.0,445.4 167.5,445.4 170.0,445.3 172.5,445.3 175.0,445.3 177.5,445.3 180.0,445.2 182.5,445.2 185.0,445.2 187.5,445.1 190.0,445.1 192.5,445.1 195.0,445.0 197.5,445.0 200.0,444.9 202.5,444.9 205.0,444.8 207.5,444.7 210.0,444.7 212.5,444.6 215.0,444.6 217.5,444.6 220.0,444.6 222.5,444.6 225.0,444.6 227.5,444.6 230.0,444.7 232.5,444.7 235.0,444.7 237.5,444.7 240.0,444.7 242.5,444.8 245.0,444.8 247.5,444.8 250.0,444.8 252.5,444.8 255.0,444.8 257.5,444.8 260.0,444.8 262.5,444.9 265.0,444.9 267.5,444.9 270.0,444.9 272.5,444.9 275.0,444.9 277.5,444.9 280.0,444.9 282.5,444.9 285.0,444.9 287.5,444.9 290.0,444.9 292.5,444.9 295.0,445.0 297.5,445.0 300.0,445.0 302.5,445.0 305.0,445.0 307.5,445.0 310.0,445.0 312.5,445.0 315.0,445.0 317.5,445.0 320.0,445.0 322.5,445.1 325.0,445.1 327.5,445.1 330.0,445.1 332.5,445.1 335.0,445.1 337.5,445.1 340.0,445.1 342.5,445.1 345.0,445.1 347.5,445.2 350.0,445.2 352.5,445.2 355.0,445.2 357.5,445.2 360.0,445.3 362.5,445.3 365.0,445.4 367.5,445.4 370.0,445.5 372.5,445.6 375.0,445.7 377.5,445.8 380.0,445.8 382.5,445.9 385.0,445.9 387.5,446.0 390.0,446.0 392.5,446.1 395.0,446.1 397.5,446.1 400.0,446.1 402.5,446.2 405.0,446.2 407.5,446.2 410.0,446.3 412.5,446.4 415.0,446.5 417.5,446.5 420.0,446.6 422.5,446.6 425.0,446.6 427.5,446.6 430.0,446.7 432.5,446.7 435.0,446.7 437.5,446.7 440.0,446.7 442.5,446.8 445.0,446.8 447.5,446.8 450.0,446.8 452.5,446.9 455.0,446.9 457.5,446.9 460.0,447.0 462.5,447.0 465.0,447.0 467.5,447.0 470.0,447.0 472.5,447.1 475.0,447.1 477.5,447.1 480.0,447.1 482.5,447.1 485.0,447.1 487.5,447.2 490.0,447.2 492.5,447.2 494.7,447.2" fill="none" stroke="#ff0000" stroke-width="2.08" stroke-linejoin="round" stroke-linecap="square"/>
<polyline points="120.0,447.2 122.5,447.3 125.0,447.3 127.5,447.4 130.0,447.5 132.5,447.5 135.0,447.6 137.5,447.7 140.0,447.8 142.5,447.9 145.0,448.0 147.5,448.1 150.0,448.2 152.5,448.3 155.0,448.5 157.5,448.6 160.0,448.7 162.5,448.8 165.0,449.0 167.5,449.2 170.0,449.4 172.5,449.6 175.0,449.8 177.5,450.0 180.0,450.2 182.5,450.4 185.0,450.6 187.5,450.8 190.0,451.0 192.5,451.1 195.0,451.2 197.5,451.2 200.0,451.3 202.5,451.3 205.0,451.3 207.5,451.4 210.0,451.4 212.5,451.4 215.0,451.4 217.5,451.5 220.0,451.6 222.5,451.7 225.0,451.8 227.5,451.9 230.0,452.1 232.5,452.3 235.0,452.4 237.5,452.6 240.0,452.7 242.5,452.8 245.0,452.9 247.5,453.0 250.0,453.0 252.5,453.0 255.0,453.0 257.5,453.0 260.0,453.0 262.5,453.0 265.0,452.9 267.5,452.9 270.0,452.9 272.5,452.9 275.0,452.8 277.5,452.8 280.0,452.8 282.5,452.7 285.0,452.7 287.5,452.7 290.0,452.6 292.5,452.6 295.0,452.5 297.5,452.5 300.0,452.4 302.5,452.4 305.0,452.3 307.5,452.3 310.0,452.2 312.5,452.2 315.0,452.1 317.5,451.9 320.0,451.8 322.5,451.7 325.0,451.5 327.5,451.4 330.0,451.3 332.5,451.1 335.0,451.0 337.5,450.8 340.0,450.7 342.5,450.6 345.0,450.5 347.5,450.4 350.0,450.4 352.5,450.3 355.0,450.3 357.5,450.3 360.0,450.4 362.5,450.5 365.0,450.6 367.5,450.7 370.0,450.9 372.5,451.0 375.0,451.2 377.5,451.4 380.0,451.5 382.5,451.6 385.0,451.7 387.5,451.8 390.0,451.8 392.5,451.9 395.0,451.9 397.5,451.9 400.0,451.9 402.5,452.0 405.0,452.0 407.5,452.0 410.0,452.1 412.5,452.1 415.0,452.1 417.5,452.2 420.0,452.2 422.5,452.2 425.0,452.2 427.5,452.3 430.0,452.3 432.5,452.3 435.0,452.3 437.5,452.3 440.0,452.3 442.5,452.3 445.0,452.3 447.5,452.3 450.0,452.3 452.5,452.3 455.0,452.3 457.5,452.3 460.0,452.3 462.5,452.3 465.0,452.3 467.5,452.3 470.0,452.3 472.5,452.3 475.0,452.3 477.5,452.3 480.0,452.3 482.5,452.3 485.0,452.4 487.5,452.4 490.0,452.4 492.5,452.4 494.7,452.4" fill="none" stroke="#ff0000" stroke-width="2.08" stroke-linejoin="round" stroke-linecap="square"/>
<polyline points="120.0,453.0 122.5,453.0 125.0,453.0 127.5,453.0 130.0,453.0 132.5,453.0 135.0,453.0 137.5,453.0 140.0,453.0 142.5,453.0 145.0,453.0 147.5,453.0 150.0,453.0 152.5,453.0 155.0,453.0 157.5,453.0 160.0,453.0 162.5,453.0 165.0,453.0 167.5,453.0 170.0,453.0 172.5,452.9 175.0,452.9 177.5,452.9 180.0,452.9 182.5,452.9 185.0,452.8 187.5,452.8 190.0,452.8 192.5,452.8 195.0,452.8 197.5,452.8 200.0,452.8 202.5,452.8 205.0,452.8 207.5,452.9 210.0,452.9 212.5,452.9 215.0,453.0 217.5,453.0 220.0,453.0 222.5,453.1 225.0,453.2 227.5,453.3 230.0,453.4 232.5,453.5 235.0,453.6 237.5,453.7 240.0,453.8 242.5,453.9 245.0,454.0 247.5,454.0 250.0,454.0 252.5,454.0 255.0,454.0 257.5,454.0 260.0,454.0 262.5,453.9 265.0,453.9 267.5,453.9 270.0,453.9 272.5,453.8 275.0,453.8 277.5,453.8 280.0,453.7 282.5,453.7 285.0,453.7 287.5,453.6 290.0,453.6 292.5,453.6 295.0,453.6 297.5,453.5 300.0,453.5 302.5,453.5 305.0,453.5 307.5,453.5 310.0,453.5 312.5,453.5 315.0,453.5 317.5,453.5 320.0,453.6 322.5,453.6 325.0,453.6 327.5,453.6 330.0,453.6 332.5,453.7 335.0,453.7 337.5,453.7 340.0,453.7 342.5,453.7 345.0,453.8 347.5,453.8 350.0,453.8 352.5,453.8 355.0,453.8 357.5,453.8 360.0,453.8 362.5,453.7 365.0,453.7 367.5,453.7 370.0,453.6 372.5,453.6 375.0,453.5 377.5,453.5 380.0,453.5 382.5,453.4 385.0,453.4 387.5,453.4 390.0,453.4 392.5,453.4 395.0,453.4 397.5,453.4 400.0,453.4 402.5,453.4 405.0,453.4 407.5,453.4 410.0,453.4 412.5,453.4 415.0,453.4 417.5,453.4 420.0,453.4 422.5,453.4 425.0,453.4 427.5,453.4 430.0,453.4 432.5,453.4 435.0,453.4 437.5,453.4 440.0,453.4 442.5,453.4 445.0,453.4 447.5,453.5 450.0,453.5 452.5,453.5 455.0,453.5 457.5,453.6 460.0,453.6 462.5,453.6 465.0,453.6 467.5,453.6 470.0,453.6 472.5,453.6 475.0,453.6 477.5,453.6 480.0,453.6 482.5,453.6 485.0,453.6 487.5,453.6 490.0,453.6 492.5,453.6 494.7,453.6" fill="none" stroke="#ff0000" stroke-width="2.08" stroke-linejoin="round" stroke-linecap="square"/>
<polyline points="120.0,455.2 122.5,455.2 125.0,455.1 127.5,455.1 130.0,455.1 132.5,455.1 135.0,455.0 137.5,455.0 140.0,455.0 142.5,455.0 145.0,454.9 147.5,454.9 150.0,454.9 152.5,454.9 155.0,454.8 157.5,454.8 160.0,454.8 162.5,454.8 165.0,454.8 167.5,454.7 170.0,454.7 172.5,454.7 175.0,454.6 177.5,454.6 180.0,454.6 182.5,454.6 185.0,454.5 187.5,454.5 190.0,454.5 192.5,454.5 195.0,454.5 197.5,454.5 200.0,454.5 202.5,454.5 205.0,454.5 207.5,454.5 210.0,454.5 212.5,454.5 215.0,454.5 217.5,454.5 220.0,454.5 222.5,454.5 225.0,454.6 227.5,454.6 230.0,454.7 232.5,454.7 235.0,454.8 237.5,454.8 240.0,454.9 242.5,454.9 245.0,455.0 247.5,455.0 250.0,455.0 252.5,455.0 255.0,455.0 257.5,455.0 260.0,455.0 262.5,454.9 265.0,454.9 267.5,454.9 270.0,454.9 272.5,454.9 275.0,454.8 277.5,454.8 280.0,454.8 282.5,454.8 285.0,454.7 287.5,454.7 290.0,454.7 292.5,454.7 295.0,454.6 297.5,454.6 300.0,454.6 302.5,454.6 305.0,454.6 307.5,454.6 310.0,454.6 312.5,454.6 315.0,454.6 317.5,454.6 320.0,454.6 322.5,454.6 325.0,454.6 327.5,454.7 330.0,454.7 332.5,454.7 335.0,454.7 337.5,454.7 340.0,454.7 342.5,454.7 345.0,454.7 347.5,454.8 350.0,454.8 352.5,454.8 355.0,454.8 357.5,454.8 360.0,454.8 362.5,454.8 365.0,454.9 367.5,454.9 370.0,454.9 372.5,454.9 375.0,454.9 377.5,455.0 380.0,455.0 382.5,455.0 385.0,455.0 387.5,455.0 390.0,455.0 392.5,455.0 395.0,454.9 397.5,454.9 400.0,454.9 402.5,454.8 405.0,454.8 407.5,454.8 410.0,454.8 412.5,454.8 415.0,454.7 417.5,454.7 420.0,454.7 422.5,454.7 425.0,454.7 427.5,454.6 430.0,454.6 432.5,454.5 435.0,454.5 437.5,454.5 440.0,454.5 442.5,454.6 445.0,454.6 447.5,454.7 450.0,454.7 452.5,454.8 455.0,454.9 457.5,454.9 460.0,455.0 462.5,455.0 465.0,455.0 467.5,455.0 470.0,455.0 472.5,455.0 475.0,455.0 477.5,455.0 480.0,455.0 482.5,455.0 485.0,455.0 487.5,455.0 490.0,454.9 492.5,454.9 494.7,454.9" fill="none" stroke="#ff0000" stroke-width="2.08" stroke-linejoin="round" stroke-linecap="square"/>
<polyline points="120.0,459.8 122.5,459.8 125.0,459.9 127.5,459.9 130.0,459.9 132.5,459.9 135.0,460.0 137.5,460.0 140.0,460.0 142.5,460.0 145.0,460.1 147.5,460.1 150.0,460.1 152.5,460.1 155.0,460.2 157.5,460.2 160.0,460.2 162.5,460.2 165.0,460.2 167.5,460.3 170.0,460.3 172.5,460.3 175.0,460.4 177.5,460.4 180.0,460.4 182.5,460.4 185.0,460.5 187.5,460.5 190.0,460.5 192.5,460.5 195.0,460.5 197.5,460.5 200.0,460.5 202.5,460.5 205.0,460.5 207.5,460.5 210.0,460.5 212.5,460.4 215.0,460.4 217.5,460.4 220.0,460.4 222.5,460.3 225.0,460.3 227.5,460.2 230.0,460.2 232.5,460.1 235.0,460.0 237.5,460.0 240.0,459.9 242.5,459.9 245.0,459.8 247.5,459.8 250.0,459.8 252.5,459.8 255.0,459.8 257.5,459.8 260.0,459.8 262.5,459.8 265.0,459.8 267.5,459.9 270.0,459.9 272.5,459.9 275.0,459.9 277.5,459.9 280.0,459.9 282.5,459.9 285.0,460.0 287.5,460.0 290.0,460.0 292.5,460.0 295.0,460.0 297.5,460.0 300.0,460.1 302.5,460.1 305.0,460.1 307.5,460.1 310.0,460.1 312.5,460.1 315.0,460.1 317.5,460.2 320.0,460.2 322.5,460.2 325.0,460.2 327.5,460.2 330.0,460.2 332.5,460.2 335.0,460.2 337.5,460.3 340.0,460.3 342.5,460.3 345.0,460.3 347.5,460.3 350.0,460.3 352.5,460.3 355.0,460.3 357.5,460.3 360.0,460.2 362.5,460.1 365.0,459.9 367.5,459.8 370.0,459.6 372.5,459.4 375.0,459.2 377.5,459.0 380.0,458.9 382.5,458.7 385.0,458.6 387.5,458.6 390.0,458.6 392.5,458.6 395.0,458.6 397.5,458.6 400.0,458.7 402.5,458.7 405.0,458.7 407.5,458.7 410.0,458.7 412.5,458.7 415.0,458.8 417.5,458.8 420.0,458.8 422.5,458.8 425.0,458.9 427.5,458.9 430.0,459.0 432.5,459.1 435.0,459.1 437.5,459.1 440.0,459.1 442.5,459.0 445.0,458.9 447.5,458.8 450.0,458.7 452.5,458.6 455.0,458.5 457.5,458.4 460.0,458.3 462.5,458.3 465.0,458.2 467.5,458.2 470.0,458.1 472.5,458.1 475.0,458.0 477.5,458.0 480.0,457.9 482.5,457.9 485.0,457.9 487.5,457.9 490.0,457.8 492.5,457.8 494.7,457.8" fill="none" stroke="#ff0000" stroke-width="2.08" stroke-linejoin="round" stroke-linecap="square"/>
<polyline points="120.0,460.8 122.5,460.8 125.0,460.8 127.5,460.9 130.0,460.9 132.5,460.9 135.0,460.9 137.5,461.0 140.0,461.0 142.5,461.0 145.0,461.0 147.5,461.1 150.0,461.1 152.5,461.1 155.0,461.1 157.5,461.2 160.0,461.2 162.5,461.2 165.0,461.3 167.5,461.3 170.0,461.3 172.5,461.4 175.0,461.4 177.5,461.4 180.0,461.5 182.5,461.5 185.0,461.5 187.5,461.6 190.0,461.6 192.5,461.6 195.0,461.6 197.5,461.6 200.0,461.6 202.5,461.6 205.0,461.6 207.5,461.6 210.0,461.6 212.5,461.6 215.0,461.6 217.5,461.6 220.0,461.6 222.5,461.6 225.0,461.5 227.5,461.4 230.0,461.3 232.5,461.2 235.0,461.1 237.5,461.1 240.0,461.0 242.5,460.9 245.0,460.8 247.5,460.8 250.0,460.8 252.5,460.8 255.0,460.8 257.5,460.8 260.0,460.8 262.5,460.8 265.0,460.8 267.5,460.8 270.0,460.8 272.5,460.8 275.0,460.8 277.5,460.8 280.0,460.8 282.5,460.8 285.0,460.8 287.5,460.8 290.0,460.9 292.5,460.9 295.0,460.9 297.5,460.9 300.0,460.9 302.5,460.9 305.0,460.9 307.5,460.9 310.0,460.9 312.5,460.9 315.0,460.9 317.5,461.0 320.0,461.0 322.5,461.0 325.0,461.0 327.5,461.1 330.0,461.1 332.5,461.1 335.0,461.2 337.5,461.2 340.0,461.2 342.5,461.2 345.0,461.3 347.5,461.3 350.0,461.3 352.5,461.3 355.0,461.3 357.5,461.3 360.0,461.2 362.5,461.1 365.0,460.9 367.5,460.8 370.0,460.6 372.5,460.4 375.0,460.2 377.5,460.1 380.0,459.9 382.5,459.8 385.0,459.7 387.5,459.7 390.0,459.7 392.5,459.7 395.0,459.7 397.5,459.7 400.0,459.8 402.5,459.8 405.0,459.8 407.5,459.8 410.0,459.8 412.5,459.8 415.0,459.9 417.5,459.9 420.0,459.9 422.5,459.9 425.0,460.0 427.5,460.0 430.0,460.1 432.5,460.2 435.0,460.2 437.5,460.2 440.0,460.2 442.5,460.2 445.0,460.2 447.5,460.1 450.0,460.1 452.5,460.1 455.0,460.1 457.5,460.0 460.0,460.0 462.5,460.0 465.0,460.0 467.5,460.0 470.0,460.0 472.5,460.0 475.0,460.0 477.5,460.0 480.0,460.0 482.5,460.0 485.0,460.0 487.5,460.0 490.0,460.0 492.5,460.0 494.7,460.0" fill="none" stroke="#ff0000" stroke-width="2.08" stroke-linejoin="round" stroke-linecap="square"/>
<polyline points="120.0,491.2 122.5,491.3 125.0,491.4 127.5,491.5 130.0,491.6 132.5,491.6 135.0,491.7 137.5,491.8 140.0,491.9 142.5,492.0 145.0,492.1 147.5,492.1 150.0,492.2 152.5,492.3 155.0,492.4 157.5,492.5 160.0,492.6 162.5,492.7 165.0,492.8 167.5,492.9 170.0,493.0 172.5,493.0 175.0,493.1 177.5,493.2 180.0,493.3 182.5,493.3 185.0,493.4 187.5,493.5 190.0,493.6 192.5,493.6 195.0,493.7 197.5,493.8 200.0,493.8 202.5,493.9 205.0,494.0 207.5,494.1 210.0,494.1 212.5,494.2 215.0,494.3 217.5,494.4 220.0,494.5 222.5,494.7 225.0,494.8 227.5,495.0 230.0,495.1 232.5,495.3 235.0,495.5 237.5,495.6 240.0,495.8 242.5,495.9 245.0,496.0 247.5,496.0 250.0,496.0 252.5,496.0 255.0,496.0 257.5,496.0 260.0,496.0 262.5,496.0 265.0,496.0 267.5,496.0 270.0,496.0 272.5,496.0 275.0,496.0 277.5,496.0 280.0,496.0 282.5,496.0 285.0,496.0 287.5,496.0 290.0,496.0 292.5,496.0 295.0,496.0 297.5,496.0 300.0,496.0 302.5,496.0 305.0,496.0 307.5,496.0 310.0,496.0 312.5,495.9 315.0,495.8 317.5,495.7 320.0,495.5 322.5,495.3 325.0,495.2 327.5,494.9 330.0,494.7 332.5,494.5 335.0,494.4 337.5,494.2 340.0,494.0 342.5,493.9 345.0,493.7 347.5,493.6 350.0,493.4 352.5,493.3 355.0,493.1 357.5,493.0 360.0,492.8 362.5,492.7 365.0,492.6 367.5,492.6 370.0,492.5 372.5,492.5 375.0,492.5 377.5,492.5 380.0,492.5 382.5,492.5 385.0,492.5 387.5,492.5 390.0,492.5 392.5,492.5 395.0,492.5 397.5,492.5 400.0,492.5 402.5,492.7 405.0,493.0 407.5,493.4 410.0,494.0 412.5,494.6 415.0,495.2 417.5,495.7 420.0,496.0 422.5,496.3 425.0,496.7 427.5,497.0 430.0,497.2 432.5,497.4 435.0,497.5 437.5,497.5 440.0,497.5 442.5,497.5 445.0,497.5 447.5,497.5 450.0,497.5 452.5,497.5 455.0,497.5 457.5,497.5 460.0,497.5 462.5,497.5 465.0,497.5 467.5,497.5 470.0,497.5 472.5,497.5 475.0,497.5 477.5,497.5 480.0,497.5 482.5,497.5 485.0,497.5 487.5,497.5 490.0,497.5 492.5,497.5 494.7,497.5" fill="none" stroke="#ff0000" stroke-width="2.08" stroke-linejoin="round" stroke-linecap="square"/>
<polyline points="120.0,497.5 122.5,497.5 125.0,497.5 127.5,497.4 130.0,497.4 132.5,497.3 135.0,497.3 137.5,497.2 140.0,497.2 142.5,497.1 145.0,497.0 147.5,497.0 150.0,496.9 152.5,496.8 155.0,496.7 157.5,496.6 160.0,496.5 162.5,496.5 165.0,496.4 167.5,496.3 170.0,496.3 172.5,496.3 175.0,496.2 177.5,496.2 180.0,496.1 182.5,496.1 185.0,496.1 187.5,496.0 190.0,496.0 192.5,496.0 195.0,495.9 197.5,495.9 200.0,495.9 202.5,495.9 205.0,495.8 207.5,495.8 210.0,495.8 212.5,495.8 215.0,495.8 217.5,495.8 220.0,495.8 222.5,495.9 225.0,496.0 227.5,496.1 230.0,496.3 232.5,496.5 235.0,496.7 237.5,496.8 240.0,497.0 242.5,497.1 245.0,497.2 247.5,497.3 250.0,497.3 252.5,497.3 255.0,497.3 257.5,497.3 260.0,497.3 262.5,497.3 265.0,497.2 267.5,497.2 270.0,497.2 272.5,497.2 275.0,497.3 277.5,497.3 280.0,497.3 282.5,497.3 285.0,497.3 287.5,497.3 290.0,497.3 292.5,497.3 295.0,497.3 297.5,497.2 300.0,497.2 302.5,497.2 305.0,497.1 307.5,497.1 310.0,497.0 312.5,496.9 315.0,496.8 317.5,496.7 320.0,496.5 322.5,496.3 325.0,496.1 327.5,496.0 330.0,495.8 332.5,495.7 335.0,495.6 337.5,495.5 340.0,495.5 342.5,495.5 345.0,495.5 347.5,495.5 350.0,495.6 352.5,495.7 355.0,495.7 357.5,495.8 360.0,495.9 362.5,495.9 365.0,496.0 367.5,496.0 370.0,496.0 372.5,496.0 375.0,496.0 377.5,495.9 380.0,495.8 382.5,495.6 385.0,495.4 387.5,495.3 390.0,495.1 392.5,494.9 395.0,494.8 397.5,494.7 400.0,494.7 402.5,494.8 405.0,495.0 407.5,495.3 410.0,495.7 412.5,496.1 415.0,496.5 417.5,496.9 420.0,497.1 422.5,497.3 425.0,497.6 427.5,497.8 430.0,498.0 432.5,498.1 435.0,498.2 437.5,498.2 440.0,498.3 442.5,498.3 445.0,498.3 447.5,498.3 450.0,498.3 452.5,498.3 455.0,498.3 457.5,498.4 460.0,498.4 462.5,498.4 465.0,498.4 467.5,498.5 470.0,498.5 472.5,498.6 475.0,498.6 477.5,498.7 480.0,498.7 482.5,498.7 485.0,498.8 487.5,498.8 490.0,498.8 492.5,498.8 494.7,498.8" fill="none" stroke="#ff0000" stroke-width="2.08" stroke-linejoin="round" stroke-linecap="square"/>
<polyline points="120.0,498.8 122.5,498.8 125.0,498.8 127.5,498.7 130.0,498.7 132.5,498.6 135.0,498.6 137.5,498.5 140.0,498.4 142.5,498.4 145.0,498.3 147.5,498.2 150.0,498.1 152.5,498.0 155.0,497.9 157.5,497.8 160.0,497.7 162.5,497.6 165.0,497.5 167.5,497.5 170.0,497.4 172.5,497.4 175.0,497.4 177.5,497.4 180.0,497.3 182.5,497.3 185.0,497.3 187.5,497.3 190.0,497.3 192.5,497.2 195.0,497.2 197.5,497.2 200.0,497.2 202.5,497.2 205.0,497.2 207.5,497.2 210.0,497.2 212.5,497.2 215.0,497.1 217.5,497.1 220.0,497.2 222.5,497.2 225.0,497.3 227.5,497.5 230.0,497.6 232.5,497.8 235.0,498.0 237.5,498.1 240.0,498.3 242.5,498.4 245.0,498.5 247.5,498.6 250.0,498.6 252.5,498.6 255.0,498.5 257.5,498.5 260.0,498.5 262.5,498.5 265.0,498.5 267.5,498.4 270.0,498.4 272.5,498.5 275.0,498.5 277.5,498.5 280.0,498.5 282.5,498.5 285.0,498.5 287.5,498.5 290.0,498.5 292.5,498.5 295.0,498.5 297.5,498.4 300.0,498.3 302.5,498.3 305.0,498.2 307.5,498.2 310.0,498.1 312.5,498.0 315.0,497.9 317.5,497.8 320.0,497.6 322.5,497.5 325.0,497.4 327.5,497.2 330.0,497.1 332.5,497.0 335.0,497.0 337.5,496.9 340.0,496.9 342.5,496.9 345.0,496.9 347.5,497.0 350.0,497.0 352.5,497.1 355.0,497.2 357.5,497.2 360.0,497.3 362.5,497.4 365.0,497.4 367.5,497.5 370.0,497.5 372.5,497.5 375.0,497.5 377.5,497.4 380.0,497.4 382.5,497.3 385.0,497.2 387.5,497.1 390.0,497.0 392.5,496.9 395.0,496.9 397.5,496.8 400.0,496.8 402.5,496.9 405.0,497.0 407.5,497.2 410.0,497.4 412.5,497.6 415.0,497.8 417.5,498.0 420.0,498.2 422.5,498.3 425.0,498.5 427.5,498.6 430.0,498.7 432.5,498.8 435.0,498.9 437.5,498.9 440.0,499.0 442.5,499.0 445.0,499.0 447.5,499.1 450.0,499.1 452.5,499.1 455.0,499.1 457.5,499.2 460.0,499.2 462.5,499.3 465.0,499.3 467.5,499.4 470.0,499.5 472.5,499.7 475.0,499.8 477.5,499.8 480.0,499.9 482.5,500.0 485.0,500.0 487.5,500.0 490.0,500.1 492.5,500.1 494.7,500.1" fill="none" stroke="#ff0000" stroke-width="2.08" stroke-linejoin="round" stroke-linecap="square"/>
<polyline points="120.0,500.1 122.5,500.1 125.0,500.0 127.5,500.0 130.0,499.9 132.5,499.9 135.0,499.8 137.5,499.8 140.0,499.7 142.5,499.6 145.0,499.6 147.5,499.5 150.0,499.4 152.5,499.2 155.0,499.1 157.5,499.0 160.0,498.8 162.5,498.7 165.0,498.6 167.5,498.6 170.0,498.6 172.5,498.6 175.0,498.6 177.5,498.6 180.0,498.5 182.5,498.5 185.0,498.5 187.5,498.5 190.0,498.5 192.5,498.5 195.0,498.5 197.5,498.5 200.0,498.5 202.5,498.5 205.0,498.5 207.5,498.5 210.0,498.5 212.5,498.5 215.0,498.5 217.5,498.5 220.0,498.5 222.5,498.6 225.0,498.7 227.5,498.8 230.0,498.9 232.5,499.1 235.0,499.3 237.5,499.4 240.0,499.6 242.5,499.7 245.0,499.8 247.5,499.8 250.0,499.8 252.5,499.8 255.0,499.8 257.5,499.8 260.0,499.7 262.5,499.7 265.0,499.7 267.5,499.6 270.0,499.7 272.5,499.7 275.0,499.7 277.5,499.7 280.0,499.7 282.5,499.7 285.0,499.8 287.5,499.8 290.0,499.7 292.5,499.7 295.0,499.6 297.5,499.6 300.0,499.5 302.5,499.4 305.0,499.3 307.5,499.2 310.0,499.2 312.5,499.1 315.0,499.0 317.5,498.9 320.0,498.8 322.5,498.7 325.0,498.6 327.5,498.5 330.0,498.5 332.5,498.4 335.0,498.4 337.5,498.3 340.0,498.3 342.5,498.3 345.0,498.4 347.5,498.4 350.0,498.5 352.5,498.5 355.0,498.6 357.5,498.7 360.0,498.8 362.5,498.8 365.0,498.9 367.5,498.9 370.0,499.0 372.5,499.0 375.0,499.0 377.5,499.0 380.0,499.0 382.5,499.0 385.0,499.0 387.5,499.0 390.0,499.0 392.5,499.0 395.0,499.0 397.5,499.0 400.0,499.0 402.5,499.0 405.0,499.0 407.5,499.0 410.0,499.1 412.5,499.1 415.0,499.2 417.5,499.2 420.0,499.3 422.5,499.3 425.0,499.4 427.5,499.4 430.0,499.5 432.5,499.5 435.0,499.6 437.5,499.6 440.0,499.7 442.5,499.7 445.0,499.7 447.5,499.8 450.0,499.8 452.5,499.9 455.0,499.9 457.5,500.0 460.0,500.0 462.5,500.1 465.0,500.2 467.5,500.4 470.0,500.5 472.5,500.7 475.0,500.9 477.5,501.0 480.0,501.1 482.5,501.2 485.0,501.2 487.5,501.3 490.0,501.3 492.5,501.4 494.7,501.4" fill="none" stroke="#ff0000" stroke-width="2.08" stroke-linejoin="round" stroke-linecap="square"/>
<polyline points="120.0,501.4 122.5,501.4 125.0,501.3 127.5,501.3 130.0,501.2 132.5,501.2 135.0,501.1 137.5,501.1 140.0,501.0 142.5,500.9 145.0,500.8 147.5,500.7 150.0,500.6 152.5,500.4 155.0,500.3 157.5,500.1 160.0,500.0 162.5,499.8 165.0,499.8 167.5,499.7 170.0,499.7 172.5,499.7 175.0,499.7 177.5,499.7 180.0,499.7 182.5,499.7 185.0,499.7 187.5,499.7 190.0,499.7 192.5,499.7 195.0,499.8 197.5,499.8 200.0,499.8 202.5,499.8 205.0,499.8 207.5,499.8 210.0,499.8 212.5,499.8 215.0,499.8 217.5,499.9 220.0,499.9 222.5,499.9 225.0,500.0 227.5,500.2 230.0,500.3 232.5,500.4 235.0,500.6 237.5,500.7 240.0,500.9 242.5,501.0 245.0,501.1 247.5,501.1 250.0,501.1 252.5,501.1 255.0,501.1 257.5,501.0 260.0,501.0 262.5,500.9 265.0,500.9 267.5,500.9 270.0,500.9 272.5,500.9 275.0,500.9 277.5,500.9 280.0,500.9 282.5,501.0 285.0,501.0 287.5,501.0 290.0,501.0 292.5,500.9 295.0,500.8 297.5,500.7 300.0,500.6 302.5,500.5 305.0,500.4 307.5,500.3 310.0,500.2 312.5,500.2 315.0,500.1 317.5,500.1 320.0,500.0 322.5,499.9 325.0,499.9 327.5,499.9 330.0,499.8 332.5,499.8 335.0,499.8 337.5,499.8 340.0,499.8 342.5,499.8 345.0,499.9 347.5,500.1 350.0,500.3 352.5,500.5 355.0,500.8 357.5,501.1 360.0,501.3 362.5,501.6 365.0,501.8 367.5,501.9 370.0,502.0 372.5,502.0 375.0,502.0 377.5,502.0 380.0,502.0 382.5,502.0 385.0,502.0 387.5,502.0 390.0,502.0 392.5,502.0 395.0,502.0 397.5,502.0 400.0,502.0 402.5,502.0 405.0,501.8 407.5,501.5 410.0,501.2 412.5,500.9 415.0,500.7 417.5,500.5 420.0,500.4 422.5,500.3 425.0,500.3 427.5,500.3 430.0,500.3 432.5,500.3 435.0,500.3 437.5,500.3 440.0,500.3 442.5,500.3 445.0,500.4 447.5,500.4 450.0,500.5 452.5,500.6 455.0,500.7 457.5,500.8 460.0,500.9 462.5,501.0 465.0,501.1 467.5,501.3 470.0,501.6 472.5,501.8 475.0,502.0 477.5,502.1 480.0,502.3 482.5,502.4 485.0,502.5 487.5,502.5 490.0,502.6 492.5,502.7 494.7,502.7" fill="none" stroke="#ff0000" stroke-width="2.08" stroke-linejoin="round" stroke-linecap="square"/>
<polyline points="120.0,502.7 122.5,502.7 125.0,502.6 127.5,502.6 130.0,502.5 132.5,502.5 135.0,502.4 137.5,502.3 140.0,502.3 142.5,502.2 145.0,502.1 147.5,502.0 150.0,501.8 152.5,501.7 155.0,501.5 157.5,501.3 160.0,501.1 162.5,501.0 165.0,500.9 167.5,500.8 170.0,500.8 172.5,500.8 175.0,500.8 177.5,500.9 180.0,500.9 182.5,500.9 185.0,500.9 187.5,500.9 190.0,500.9 192.5,500.9 195.0,501.0 197.5,501.0 200.0,501.0 202.5,501.0 205.0,501.1 207.5,501.1 210.0,501.1 212.5,501.1 215.0,501.2 217.5,501.2 220.0,501.2 222.5,501.3 225.0,501.4 227.5,501.5 230.0,501.7 232.5,501.8 235.0,501.9 237.5,502.1 240.0,502.2 242.5,502.3 245.0,502.3 247.5,502.4 250.0,502.4 252.5,502.4 255.0,502.3 257.5,502.2 260.0,502.2 262.5,502.1 265.0,502.1 267.5,502.1 270.0,502.1 272.5,502.1 275.0,502.1 277.5,502.1 280.0,502.2 282.5,502.2 285.0,502.2 287.5,502.2 290.0,502.2 292.5,502.1 295.0,502.0 297.5,501.8 300.0,501.7 302.5,501.5 305.0,501.4 307.5,501.4 310.0,501.3 312.5,501.3 315.0,501.3 317.5,501.3 320.0,501.3 322.5,501.2 325.0,501.2 327.5,501.2 330.0,501.2 332.5,501.2 335.0,501.2 337.5,501.2 340.0,501.2 342.5,501.2 345.0,501.3 347.5,501.3 350.0,501.4 352.5,501.6 355.0,501.7 357.5,501.9 360.0,502.0 362.5,502.1 365.0,502.3 367.5,502.4 370.0,502.4 372.5,502.5 375.0,502.5 377.5,502.5 380.0,502.5 382.5,502.6 385.0,502.6 387.5,502.6 390.0,502.6 392.5,502.6 395.0,502.7 397.5,502.7 400.0,502.7 402.5,502.6 405.0,502.5 407.5,502.4 410.0,502.2 412.5,502.0 415.0,501.8 417.5,501.6 420.0,501.5 422.5,501.4 425.0,501.3 427.5,501.2 430.0,501.1 432.5,501.0 435.0,501.0 437.5,501.0 440.0,501.0 442.5,501.0 445.0,501.1 447.5,501.2 450.0,501.3 452.5,501.4 455.0,501.5 457.5,501.6 460.0,501.7 462.5,501.8 465.0,502.0 467.5,502.3 470.0,502.6 472.5,502.8 475.0,503.1 477.5,503.3 480.0,503.5 482.5,503.6 485.0,503.7 487.5,503.8 490.0,503.9 492.5,503.9 494.7,504.0" fill="none" stroke="#ff0000" stroke-width="2.08" stroke-linejoin="round" stroke-linecap="square"/>
<polyline points="120.0,504.0 122.5,503.9 125.0,503.9 127.5,503.9 130.0,503.8 132.5,503.8 135.0,503.7 137.5,503.6 140.0,503.5 142.5,503.4 145.0,503.4 147.5,503.2 150.0,503.1 152.5,502.9 155.0,502.7 157.5,502.5 160.0,502.3 162.5,502.1 165.0,502.0 167.5,502.0 170.0,502.0 172.5,502.0 175.0,502.0 177.5,502.0 180.0,502.0 182.5,502.0 185.0,502.0 187.5,502.1 190.0,502.1 192.5,502.1 195.0,502.2 197.5,502.2 200.0,502.2 202.5,502.3 205.0,502.3 207.5,502.4 210.0,502.4 212.5,502.5 215.0,502.5 217.5,502.6 220.0,502.6 222.5,502.7 225.0,502.8 227.5,502.9 230.0,503.0 232.5,503.1 235.0,503.2 237.5,503.4 240.0,503.5 242.5,503.5 245.0,503.6 247.5,503.6 250.0,503.7 252.5,503.6 255.0,503.6 257.5,503.5 260.0,503.4 262.5,503.3 265.0,503.3 267.5,503.3 270.0,503.3 272.5,503.3 275.0,503.3 277.5,503.4 280.0,503.4 282.5,503.4 285.0,503.5 287.5,503.5 290.0,503.4 292.5,503.3 295.0,503.2 297.5,503.0 300.0,502.8 302.5,502.6 305.0,502.5 307.5,502.4 310.0,502.4 312.5,502.4 315.0,502.4 317.5,502.4 320.0,502.5 322.5,502.5 325.0,502.5 327.5,502.5 330.0,502.5 332.5,502.5 335.0,502.6 337.5,502.6 340.0,502.6 342.5,502.7 345.0,502.8 347.5,503.1 350.0,503.3 352.5,503.6 355.0,504.0 357.5,504.3 360.0,504.6 362.5,504.9 365.0,505.2 367.5,505.4 370.0,505.5 372.5,505.5 375.0,505.5 377.5,505.5 380.0,505.5 382.5,505.5 385.0,505.5 387.5,505.5 390.0,505.5 392.5,505.5 395.0,505.5 397.5,505.5 400.0,505.5 402.5,505.5 405.0,505.5 407.5,505.4 410.0,505.3 412.5,505.2 415.0,505.1 417.5,505.1 420.0,505.0 422.5,505.0 425.0,505.0 427.5,505.0 430.0,505.0 432.5,505.0 435.0,505.0 437.5,505.0 440.0,505.0 442.5,505.0 445.0,505.0 447.5,505.0 450.0,504.9 452.5,504.9 455.0,504.9 457.5,504.9 460.0,504.8 462.5,504.9 465.0,505.0 467.5,505.1 470.0,505.4 472.5,505.6 475.0,505.9 477.5,506.1 480.0,506.3 482.5,506.5 485.0,506.7 487.5,506.9 490.0,507.2 492.5,507.4 494.7,507.5" fill="none" stroke="#ff0000" stroke-width="2.08" stroke-linejoin="round" stroke-linecap="square"/>
<polyline points="120.0,506.9 122.5,506.8 125.0,506.8 127.5,506.7 130.0,506.7 132.5,506.6 135.0,506.6 137.5,506.5 140.0,506.5 142.5,506.4 145.0,506.4 147.5,506.4 150.0,506.3 152.5,506.3 155.0,506.2 157.5,506.2 160.0,506.1 162.5,506.1 165.0,506.1 167.5,506.0 170.0,506.0 172.5,506.0 175.0,506.0 177.5,506.0 180.0,506.0 182.5,506.0 185.0,506.0 187.5,506.0 190.0,506.0 192.5,505.9 195.0,505.9 197.5,505.9 200.0,505.9 202.5,505.9 205.0,505.9 207.5,505.9 210.0,505.9 212.5,505.9 215.0,505.9 217.5,505.8 220.0,505.8 222.5,505.8 225.0,505.7 227.5,505.7 230.0,505.6 232.5,505.5 235.0,505.4 237.5,505.3 240.0,505.2 242.5,505.1 245.0,505.0 247.5,505.0 250.0,504.9 252.5,504.8 255.0,504.7 257.5,504.7 260.0,504.6 262.5,504.5 265.0,504.5 267.5,504.5 270.0,504.5 272.5,504.5 275.0,504.5 277.5,504.6 280.0,504.6 282.5,504.7 285.0,504.7 287.5,504.7 290.0,504.7 292.5,504.6 295.0,504.4 297.5,504.1 300.0,503.9 302.5,503.7 305.0,503.5 307.5,503.5 310.0,503.5 312.5,503.5 315.0,503.5 317.5,503.6 320.0,503.6 322.5,503.6 325.0,503.7 327.5,503.7 330.0,503.8 332.5,503.8 335.0,503.9 337.5,504.0 340.0,504.0 342.5,504.1 345.0,504.3 347.5,504.5 350.0,504.7 352.5,504.9 355.0,505.2 357.5,505.4 360.0,505.6 362.5,505.9 365.0,506.1 367.5,506.2 370.0,506.3 372.5,506.4 375.0,506.4 377.5,506.4 380.0,506.4 382.5,506.4 385.0,506.5 387.5,506.5 390.0,506.5 392.5,506.5 395.0,506.5 397.5,506.5 400.0,506.5 402.5,506.5 405.0,506.4 407.5,506.4 410.0,506.3 412.5,506.2 415.0,506.1 417.5,506.0 420.0,505.9 422.5,505.8 425.0,505.7 427.5,505.7 430.0,505.6 432.5,505.5 435.0,505.5 437.5,505.5 440.0,505.5 442.5,505.5 445.0,505.5 447.5,505.5 450.0,505.5 452.5,505.6 455.0,505.6 457.5,505.6 460.0,505.6 462.5,505.7 465.0,505.8 467.5,506.0 470.0,506.2 472.5,506.5 475.0,506.7 477.5,507.0 480.0,507.2 482.5,507.3 485.0,507.5 487.5,507.7 490.0,507.8 492.5,508.0 494.7,508.1" fill="none" stroke="#ff0000" stroke-width="2.08" stroke-linejoin="round" stroke-linecap="square"/>
<polyline points="120.0,506.9 122.5,506.8 125.0,506.7 127.5,506.6 130.0,506.5 132.5,506.5 135.0,506.4 137.5,506.4 140.0,506.4 142.5,506.4 145.0,506.4 147.5,506.5 150.0,506.6 152.5,506.8 155.0,507.0 157.5,507.3 160.0,507.6 162.5,507.8 165.0,507.9 167.5,508.0 170.0,508.0 172.5,508.0 175.0,508.0 177.5,508.0 180.0,508.0 182.5,508.0 185.0,507.9 187.5,507.9 190.0,507.9 192.5,507.9 195.0,507.9 197.5,507.8 200.0,507.8 202.5,507.8 205.0,507.7 207.5,507.7 210.0,507.7 212.5,507.6 215.0,507.6 217.5,507.6 220.0,507.5 222.5,507.5 225.0,507.4 227.5,507.3 230.0,507.1 232.5,507.0 235.0,506.9 237.5,506.7 240.0,506.6 242.5,506.5 245.0,506.4 247.5,506.2 250.0,506.2 252.5,506.1 255.0,506.0 257.5,505.9 260.0,505.8 262.5,505.7 265.0,505.7 267.5,505.7 270.0,505.7 272.5,505.7 275.0,505.7 277.5,505.8 280.0,505.9 282.5,505.9 285.0,505.9 287.5,506.0 290.0,505.9 292.5,505.8 295.0,505.5 297.5,505.3 300.0,505.0 302.5,504.8 305.0,504.6 307.5,504.6 310.0,504.6 312.5,504.6 315.0,504.6 317.5,504.7 320.0,504.8 322.5,504.8 325.0,504.9 327.5,505.0 330.0,505.1 332.5,505.2 335.0,505.3 337.5,505.4 340.0,505.5 342.5,505.6 345.0,505.7 347.5,505.8 350.0,506.0 352.5,506.2 355.0,506.3 357.5,506.5 360.0,506.6 362.5,506.8 365.0,506.9 367.5,507.0 370.0,507.1 372.5,507.2 375.0,507.2 377.5,507.3 380.0,507.3 382.5,507.3 385.0,507.4 387.5,507.4 390.0,507.4 392.5,507.4 395.0,507.4 397.5,507.5 400.0,507.5 402.5,507.4 405.0,507.4 407.5,507.3 410.0,507.2 412.5,507.1 415.0,507.0 417.5,506.9 420.0,506.8 422.5,506.6 425.0,506.5 427.5,506.3 430.0,506.2 432.5,506.0 435.0,506.0 437.5,506.0 440.0,506.0 442.5,506.0 445.0,506.0 447.5,506.1 450.0,506.1 452.5,506.2 455.0,506.3 457.5,506.3 460.0,506.4 462.5,506.5 465.0,506.7 467.5,506.9 470.0,507.1 472.5,507.4 475.0,507.6 477.5,507.8 480.0,508.0 482.5,508.1 485.0,508.3 487.5,508.4 490.0,508.5 492.5,508.6 494.7,508.7" fill="none" stroke="#ff0000" stroke-width="2.08" stroke-linejoin="round" stroke-linecap="square"/>
<polyline points="120.0,509.6 122.5,509.6 125.0,509.5 127.5,509.5 130.0,509.4 132.5,509.4 135.0,509.4 137.5,509.4 140.0,509.4 142.5,509.4 145.0,509.4 147.5,509.4 150.0,509.4 152.5,509.5 155.0,509.6 157.5,509.7 160.0,509.7 162.5,509.8 165.0,509.9 167.5,510.0 170.0,510.0 172.5,510.0 175.0,510.0 177.5,510.1 180.0,510.1 182.5,510.1 185.0,510.2 187.5,510.2 190.0,510.2 192.5,510.2 195.0,510.3 197.5,510.3 200.0,510.3 202.5,510.3 205.0,510.3 207.5,510.3 210.0,510.3 212.5,510.3 215.0,510.3 217.5,510.3 220.0,510.3 222.5,510.2 225.0,510.0 227.5,509.7 230.0,509.4 232.5,509.1 235.0,508.7 237.5,508.4 240.0,508.1 242.5,507.8 245.0,507.6 247.5,507.5 250.0,507.5 252.5,507.5 255.0,507.6 257.5,507.7 260.0,507.8 262.5,508.0 265.0,508.2 267.5,508.4 270.0,508.6 272.5,508.9 275.0,509.4 277.5,509.9 280.0,510.4 282.5,510.8 285.0,511.2 287.5,511.5 290.0,511.7 292.5,511.9 295.0,512.1 297.5,512.2 300.0,512.4 302.5,512.5 305.0,512.5 307.5,512.5 310.0,512.5 312.5,512.5 315.0,512.4 317.5,512.3 320.0,512.2 322.5,512.0 325.0,511.9 327.5,511.7 330.0,511.6 332.5,511.4 335.0,511.3 337.5,511.2 340.0,511.0 342.5,510.9 345.0,510.8 347.5,510.7 350.0,510.6 352.5,510.4 355.0,510.3 357.5,510.2 360.0,510.1 362.5,510.0 365.0,509.9 367.5,509.9 370.0,509.8 372.5,509.8 375.0,509.9 377.5,509.9 380.0,510.0 382.5,510.1 385.0,510.2 387.5,510.3 390.0,510.4 392.5,510.5 395.0,510.6 397.5,510.7 400.0,510.7 402.5,510.8 405.0,510.8 407.5,510.9 410.0,510.9 412.5,511.0 415.0,511.0 417.5,511.0 420.0,511.0 422.5,511.0 425.0,511.0 427.5,511.0 430.0,511.0 432.5,511.0 435.0,511.0 437.5,511.0 440.0,511.0 442.5,511.0 445.0,511.0 447.5,510.9 450.0,510.8 452.5,510.8 455.0,510.7 457.5,510.6 460.0,510.5 462.5,510.4 465.0,510.2 467.5,509.9 470.0,509.6 472.5,509.3 475.0,509.1 477.5,508.9 480.0,508.8 482.5,508.8 485.0,508.8 487.5,508.9 490.0,509.0 492.5,509.1 494.7,509.3" fill="none" stroke="#ff0000" stroke-width="2.08" stroke-linejoin="round" stroke-linecap="square"/>
<polyline points="120.0,512.5 122.5,512.5 125.0,512.5 127.5,512.4 130.0,512.4 132.5,512.4 135.0,512.4 137.5,512.4 140.0,512.3 142.5,512.3 145.0,512.3 147.5,512.3 150.0,512.4 152.5,512.4 155.0,512.5 157.5,512.5 160.0,512.5 162.5,512.6 165.0,512.6 167.5,512.6 170.0,512.6 172.5,512.7 175.0,512.7 177.5,512.7 180.0,512.7 182.5,512.7 185.0,512.7 187.5,512.7 190.0,512.7 192.5,512.7 195.0,512.7 197.5,512.7 200.0,512.7 202.5,512.7 205.0,512.7 207.5,512.7 210.0,512.7 212.5,512.7 215.0,512.7 217.5,512.7 220.0,512.8 222.5,512.8 225.0,512.9 227.5,512.9 230.0,513.0 232.5,513.1 235.0,513.2 237.5,513.3 240.0,513.4 242.5,513.5 245.0,513.5 247.5,513.5 250.0,513.5 252.5,513.5 255.0,513.4 257.5,513.3 260.0,513.2 262.5,513.1 265.0,513.1 267.5,513.0 270.0,513.0 272.5,513.0 275.0,513.0 277.5,513.1 280.0,513.1 282.5,513.1 285.0,513.1 287.5,513.1 290.0,513.1 292.5,513.2 295.0,513.4 297.5,513.6 300.0,513.7 302.5,513.9 305.0,514.0 307.5,514.0 310.0,514.0 312.5,514.0 315.0,513.9 317.5,513.8 320.0,513.8 322.5,513.7 325.0,513.6 327.5,513.5 330.0,513.3 332.5,513.2 335.0,513.1 337.5,513.0 340.0,512.9 342.5,512.7 345.0,512.5 347.5,512.3 350.0,512.1 352.5,511.8 355.0,511.6 357.5,511.3 360.0,511.1 362.5,510.9 365.0,510.7 367.5,510.6 370.0,510.5 372.5,510.5 375.0,510.5 377.5,510.6 380.0,510.8 382.5,511.0 385.0,511.1 387.5,511.3 390.0,511.5 392.5,511.7 395.0,511.8 397.5,511.9 400.0,512.0 402.5,511.9 405.0,511.9 407.5,511.9 410.0,511.9 412.5,511.9 415.0,511.9 417.5,511.9 420.0,511.9 422.5,511.9 425.0,511.8 427.5,511.8 430.0,511.7 432.5,511.6 435.0,511.5 437.5,511.5 440.0,511.4 442.5,511.3 445.0,511.2 447.5,511.1 450.0,511.0 452.5,510.9 455.0,510.8 457.5,510.7 460.0,510.5 462.5,510.4 465.0,510.3 467.5,510.1 470.0,510.0 472.5,509.9 475.0,509.7 477.5,509.7 480.0,509.6 482.5,509.6 485.0,509.7 487.5,509.7 490.0,509.7 492.5,509.8 494.7,509.9" fill="none" stroke="#ff0000" stroke-width="2.08" stroke-linejoin="round" stroke-linecap="square"/>
<polyline points="120.0,514.0 122.5,514.0 125.0,514.0 127.5,514.0 130.0,514.0 132.5,514.0 135.0,514.0 137.5,514.0 140.0,514.0 142.5,514.0 145.0,514.0 147.5,514.0 150.0,514.0 152.5,514.0 155.0,514.0 157.5,514.0 160.0,514.0 162.5,514.0 165.0,514.0 167.5,514.0 170.0,514.0 172.5,514.0 175.0,514.1 177.5,514.1 180.0,514.1 182.5,514.1 185.0,514.1 187.5,514.1 190.0,514.1 192.5,514.1 195.0,514.2 197.5,514.2 200.0,514.2 202.5,514.2 205.0,514.2 207.5,514.3 210.0,514.3 212.5,514.3 215.0,514.3 217.5,514.4 220.0,514.4 222.5,514.4 225.0,514.5 227.5,514.6 230.0,514.6 232.5,514.7 235.0,514.8 237.5,514.9 240.0,514.9 242.5,515.0 245.0,515.0 247.5,515.1 250.0,515.1 252.5,515.0 255.0,515.0 257.5,514.9 260.0,514.8 262.5,514.7 265.0,514.6 267.5,514.6 270.0,514.6 272.5,514.6 275.0,514.6 277.5,514.6 280.0,514.6 282.5,514.6 285.0,514.6 287.5,514.7 290.0,514.7 292.5,514.8 295.0,514.9 297.5,515.1 300.0,515.2 302.5,515.3 305.0,515.4 307.5,515.5 310.0,515.5 312.5,515.4 315.0,515.4 317.5,515.4 320.0,515.3 322.5,515.3 325.0,515.2 327.5,515.1 330.0,515.0 332.5,515.0 335.0,514.9 337.5,514.8 340.0,514.7 342.5,514.5 345.0,514.3 347.5,514.0 350.0,513.7 352.5,513.3 355.0,512.9 357.5,512.5 360.0,512.2 362.5,511.8 365.0,511.5 367.5,511.3 370.0,511.2 372.5,511.2 375.0,511.2 377.5,511.4 380.0,511.6 382.5,511.8 385.0,512.1 387.5,512.3 390.0,512.6 392.5,512.8 395.0,513.0 397.5,513.1 400.0,513.2 402.5,513.2 405.0,513.1 407.5,513.1 410.0,513.0 412.5,513.0 415.0,512.9 417.5,512.8 420.0,512.8 422.5,512.7 425.0,512.6 427.5,512.4 430.0,512.3 432.5,512.2 435.0,512.0 437.5,511.9 440.0,511.7 442.5,511.6 445.0,511.4 447.5,511.2 450.0,511.0 452.5,510.8 455.0,510.7 457.5,510.6 460.0,510.5 462.5,510.5 465.0,510.5 467.5,510.5 470.0,510.5 472.5,510.5 475.0,510.5 477.5,510.5 480.0,510.5 482.5,510.5 485.0,510.5 487.5,510.5 490.0,510.5 492.5,510.5 494.7,510.5" fill="none" stroke="#ff0000" stroke-width="2.08" stroke-linejoin="round" stroke-linecap="square"/>
<polyline points="120.0,516.5 122.5,516.5 125.0,516.5 127.5,516.5 130.0,516.5 132.5,516.5 135.0,516.5 137.5,516.5 140.0,516.5 142.5,516.5 145.0,516.4 147.5,516.4 150.0,516.3 152.5,516.2 155.0,516.0 157.5,515.8 160.0,515.7 162.5,515.6 165.0,515.5 167.5,515.4 170.0,515.4 172.5,515.4 175.0,515.4 177.5,515.4 180.0,515.5 182.5,515.5 185.0,515.5 187.5,515.5 190.0,515.6 192.5,515.6 195.0,515.6 197.5,515.7 200.0,515.7 202.5,515.7 205.0,515.8 207.5,515.8 210.0,515.9 212.5,515.9 215.0,515.9 217.5,516.0 220.0,516.0 222.5,516.1 225.0,516.1 227.5,516.2 230.0,516.2 232.5,516.3 235.0,516.4 237.5,516.4 240.0,516.5 242.5,516.5 245.0,516.6 247.5,516.6 250.0,516.6 252.5,516.5 255.0,516.5 257.5,516.4 260.0,516.3 262.5,516.3 265.0,516.2 267.5,516.2 270.0,516.2 272.5,516.2 275.0,516.2 277.5,516.2 280.0,516.2 282.5,516.2 285.0,516.2 287.5,516.2 290.0,516.3 292.5,516.6 295.0,516.9 297.5,517.4 300.0,517.8 302.5,518.2 305.0,518.5 307.5,518.5 310.0,518.5 312.5,518.4 315.0,518.3 317.5,518.2 320.0,518.1 322.5,517.9 325.0,517.7 327.5,517.5 330.0,517.3 332.5,517.1 335.0,516.9 337.5,516.7 340.0,516.5 342.5,516.3 345.0,516.1 347.5,515.8 350.0,515.5 352.5,515.3 355.0,515.0 357.5,514.7 360.0,514.5 362.5,514.3 365.0,514.1 367.5,513.9 370.0,513.9 372.5,513.8 375.0,513.9 377.5,514.0 380.0,514.2 382.5,514.5 385.0,514.7 387.5,515.0 390.0,515.3 392.5,515.5 395.0,515.7 397.5,515.8 400.0,515.8 402.5,515.8 405.0,515.8 407.5,515.8 410.0,515.7 412.5,515.6 415.0,515.6 417.5,515.5 420.0,515.4 422.5,515.4 425.0,515.3 427.5,515.3 430.0,515.2 432.5,515.2 435.0,515.1 437.5,515.0 440.0,514.9 442.5,514.7 445.0,514.6 447.5,514.4 450.0,514.3 452.5,514.1 455.0,514.0 457.5,513.9 460.0,513.8 462.5,513.8 465.0,513.9 467.5,513.9 470.0,513.9 472.5,514.0 475.0,514.0 477.5,514.0 480.0,514.0 482.5,514.0 485.0,514.0 487.5,514.0 490.0,514.0 492.5,514.0 494.7,514.0" fill="none" stroke="#ff0000" stroke-width="2.08" stroke-linejoin="round" stroke-linecap="square"/>
<polyline points="120.0,517.4 122.5,517.4 125.0,517.4 127.5,517.4 130.0,517.4 132.5,517.4 135.0,517.4 137.5,517.4 140.0,517.3 142.5,517.3 145.0,517.3 147.5,517.3 150.0,517.3 152.5,517.2 155.0,517.1 157.5,517.0 160.0,517.0 162.5,516.9 165.0,516.8 167.5,516.8 170.0,516.8 172.5,516.8 175.0,516.8 177.5,516.9 180.0,516.9 182.5,516.9 185.0,517.0 187.5,517.0 190.0,517.0 192.5,517.1 195.0,517.1 197.5,517.2 200.0,517.2 202.5,517.3 205.0,517.4 207.5,517.4 210.0,517.5 212.5,517.5 215.0,517.5 217.5,517.6 220.0,517.6 222.5,517.7 225.0,517.7 227.5,517.8 230.0,517.8 232.5,517.9 235.0,517.9 237.5,518.0 240.0,518.0 242.5,518.1 245.0,518.1 247.5,518.1 250.0,518.1 252.5,518.1 255.0,518.0 257.5,518.0 260.0,517.9 262.5,517.8 265.0,517.8 267.5,517.8 270.0,517.8 272.5,517.8 275.0,517.8 277.5,517.8 280.0,517.8 282.5,517.8 285.0,517.8 287.5,517.8 290.0,517.8 292.5,518.0 295.0,518.3 297.5,518.6 300.0,519.0 302.5,519.3 305.0,519.5 307.5,519.5 310.0,519.5 312.5,519.5 315.0,519.4 317.5,519.4 320.0,519.3 322.5,519.2 325.0,519.1 327.5,518.9 330.0,518.8 332.5,518.7 335.0,518.6 337.5,518.4 340.0,518.3 342.5,518.2 345.0,518.0 347.5,517.7 350.0,517.5 352.5,517.2 355.0,516.9 357.5,516.6 360.0,516.4 362.5,516.1 365.0,515.9 367.5,515.8 370.0,515.7 372.5,515.7 375.0,515.7 377.5,515.8 380.0,515.9 382.5,516.0 385.0,516.1 387.5,516.3 390.0,516.4 392.5,516.5 395.0,516.6 397.5,516.6 400.0,516.7 402.5,516.7 405.0,516.7 407.5,516.6 410.0,516.6 412.5,516.6 415.0,516.5 417.5,516.5 420.0,516.5 422.5,516.4 425.0,516.4 427.5,516.3 430.0,516.3 432.5,516.2 435.0,516.2 437.5,516.1 440.0,516.0 442.5,515.9 445.0,515.8 447.5,515.7 450.0,515.6 452.5,515.5 455.0,515.4 457.5,515.3 460.0,515.3 462.5,515.3 465.0,515.3 467.5,515.3 470.0,515.4 472.5,515.4 475.0,515.4 477.5,515.4 480.0,515.5 482.5,515.5 485.0,515.5 487.5,515.5 490.0,515.5 492.5,515.5 494.7,515.5" fill="none" stroke="#ff0000" stroke-width="2.08" stroke-linejoin="round" stroke-linecap="square"/>
<polyline points="120.0,518.2 122.5,518.2 125.0,518.2 127.5,518.2 130.0,518.2 132.5,518.2 135.0,518.2 137.5,518.3 140.0,518.3 142.5,518.3 145.0,518.3 147.5,518.3 150.0,518.3 152.5,518.2 155.0,518.2 157.5,518.2 160.0,518.2 162.5,518.2 165.0,518.2 167.5,518.2 170.0,518.2 172.5,518.2 175.0,518.2 177.5,518.3 180.0,518.3 182.5,518.4 185.0,518.4 187.5,518.5 190.0,518.5 192.5,518.6 195.0,518.7 197.5,518.7 200.0,518.8 202.5,518.9 205.0,518.9 207.5,519.0 210.0,519.1 212.5,519.1 215.0,519.2 217.5,519.2 220.0,519.3 222.5,519.3 225.0,519.3 227.5,519.4 230.0,519.4 232.5,519.5 235.0,519.5 237.5,519.5 240.0,519.6 242.5,519.6 245.0,519.6 247.5,519.6 250.0,519.6 252.5,519.6 255.0,519.6 257.5,519.5 260.0,519.4 262.5,519.4 265.0,519.3 267.5,519.3 270.0,519.3 272.5,519.3 275.0,519.3 277.5,519.3 280.0,519.3 282.5,519.3 285.0,519.3 287.5,519.3 290.0,519.4 292.5,519.5 295.0,519.7 297.5,519.9 300.0,520.1 302.5,520.3 305.0,520.5 307.5,520.5 310.0,520.5 312.5,520.5 315.0,520.5 317.5,520.5 320.0,520.4 322.5,520.4 325.0,520.4 327.5,520.3 330.0,520.3 332.5,520.3 335.0,520.2 337.5,520.2 340.0,520.1 342.5,520.0 345.0,519.9 347.5,519.7 350.0,519.4 352.5,519.1 355.0,518.9 357.5,518.6 360.0,518.3 362.5,518.0 365.0,517.8 367.5,517.6 370.0,517.5 372.5,517.5 375.0,517.5 377.5,517.5 380.0,517.5 382.5,517.5 385.0,517.5 387.5,517.5 390.0,517.5 392.5,517.5 395.0,517.5 397.5,517.5 400.0,517.5 402.5,517.5 405.0,517.5 407.5,517.5 410.0,517.5 412.5,517.5 415.0,517.5 417.5,517.5 420.0,517.5 422.5,517.5 425.0,517.5 427.5,517.4 430.0,517.4 432.5,517.3 435.0,517.3 437.5,517.2 440.0,517.2 442.5,517.1 445.0,517.0 447.5,517.0 450.0,516.9 452.5,516.8 455.0,516.8 457.5,516.8 460.0,516.7 462.5,516.7 465.0,516.7 467.5,516.8 470.0,516.8 472.5,516.8 475.0,516.8 477.5,516.9 480.0,516.9 482.5,516.9 485.0,516.9 487.5,516.9 490.0,516.9 492.5,516.9 494.7,516.9" fill="none" stroke="#ff0000" stroke-width="2.08" stroke-linejoin="round" stroke-linecap="square"/>
<polyline points="120.0,521.2 122.5,521.2 125.0,521.2 127.5,521.2 130.0,521.2 132.5,521.2 135.0,521.2 137.5,521.1 140.0,521.1 142.5,521.1 145.0,521.0 147.5,521.0 150.0,520.8 152.5,520.6 155.0,520.4 157.5,520.2 160.0,520.0 162.5,519.8 165.0,519.6 167.5,519.6 170.0,519.6 172.5,519.6 175.0,519.6 177.5,519.7 180.0,519.7 182.5,519.8 185.0,519.9 187.5,519.9 190.0,520.0 192.5,520.1 195.0,520.2 197.5,520.3 200.0,520.4 202.5,520.5 205.0,520.5 207.5,520.6 210.0,520.7 212.5,520.7 215.0,520.8 217.5,520.8 220.0,520.9 222.5,520.9 225.0,520.9 227.5,521.0 230.0,521.0 232.5,521.0 235.0,521.1 237.5,521.1 240.0,521.1 242.5,521.1 245.0,521.1 247.5,521.1 250.0,521.1 252.5,521.1 255.0,521.1 257.5,521.0 260.0,521.0 262.5,520.9 265.0,520.9 267.5,520.9 270.0,520.9 272.5,520.9 275.0,520.9 277.5,520.9 280.0,520.9 282.5,520.9 285.0,520.9 287.5,520.9 290.0,520.9 292.5,521.0 295.0,521.0 297.5,521.1 300.0,521.2 302.5,521.3 305.0,521.4 307.5,521.5 310.0,521.5 312.5,521.6 315.0,521.6 317.5,521.7 320.0,521.7 322.5,521.8 325.0,521.8 327.5,521.9 330.0,521.9 332.5,521.9 335.0,521.9 337.5,521.9 340.0,521.9 342.5,521.9 345.0,521.8 347.5,521.6 350.0,521.4 352.5,521.2 355.0,520.9 357.5,520.7 360.0,520.4 362.5,520.1 365.0,519.9 367.5,519.6 370.0,519.4 372.5,519.3 375.0,519.2 377.5,519.1 380.0,518.9 382.5,518.8 385.0,518.7 387.5,518.6 390.0,518.5 392.5,518.4 395.0,518.4 397.5,518.3 400.0,518.3 402.5,518.3 405.0,518.4 407.5,518.4 410.0,518.4 412.5,518.5 415.0,518.5 417.5,518.5 420.0,518.5 422.5,518.5 425.0,518.5 427.5,518.5 430.0,518.4 432.5,518.4 435.0,518.4 437.5,518.3 440.0,518.3 442.5,518.3 445.0,518.3 447.5,518.2 450.0,518.2 452.5,518.2 455.0,518.2 457.5,518.2 460.0,518.2 462.5,518.2 465.0,518.2 467.5,518.2 470.0,518.2 472.5,518.3 475.0,518.3 477.5,518.3 480.0,518.3 482.5,518.3 485.0,518.3 487.5,518.3 490.0,518.3 492.5,518.3 494.7,518.3" fill="none" stroke="#ff0000" stroke-width="2.08" stroke-linejoin="round" stroke-linecap="square"/>
<polyline points="120.0,522.0 122.5,522.0 125.0,522.0 127.5,522.0 130.0,522.0 132.5,522.0 135.0,522.0 137.5,522.0 140.0,522.0 142.5,522.0 145.0,522.0 147.5,521.9 150.0,521.8 152.5,521.7 155.0,521.6 157.5,521.4 160.0,521.2 162.5,521.1 165.0,521.0 167.5,521.0 170.0,521.0 172.5,521.0 175.0,521.0 177.5,521.1 180.0,521.2 182.5,521.2 185.0,521.3 187.5,521.4 190.0,521.5 192.5,521.6 195.0,521.7 197.5,521.8 200.0,521.9 202.5,522.0 205.0,522.1 207.5,522.2 210.0,522.3 212.5,522.4 215.0,522.4 217.5,522.5 220.0,522.5 222.5,522.5 225.0,522.5 227.5,522.6 230.0,522.6 232.5,522.6 235.0,522.6 237.5,522.6 240.0,522.6 242.5,522.6 245.0,522.7 247.5,522.7 250.0,522.7 252.5,522.6 255.0,522.6 257.5,522.6 260.0,522.5 262.5,522.5 265.0,522.5 267.5,522.5 270.0,522.5 272.5,522.5 275.0,522.5 277.5,522.5 280.0,522.5 282.5,522.5 285.0,522.5 287.5,522.5 290.0,522.5 292.5,522.5 295.0,522.5 297.5,522.5 300.0,522.5 302.5,522.5 305.0,522.5 307.5,522.5 310.0,522.5 312.5,522.5 315.0,522.6 317.5,522.8 320.0,522.9 322.5,523.0 325.0,523.2 327.5,523.3 330.0,523.5 332.5,523.6 335.0,523.7 337.5,523.7 340.0,523.8 342.5,523.7 345.0,523.6 347.5,523.5 350.0,523.3 352.5,523.1 355.0,522.9 357.5,522.6 360.0,522.3 362.5,522.1 365.0,521.8 367.5,521.6 370.0,521.3 372.5,521.1 375.0,520.9 377.5,520.7 380.0,520.5 382.5,520.2 385.0,520.0 387.5,519.8 390.0,519.6 392.5,519.4 395.0,519.3 397.5,519.2 400.0,519.2 402.5,519.2 405.0,519.2 407.5,519.3 410.0,519.4 412.5,519.4 415.0,519.5 417.5,519.5 420.0,519.6 422.5,519.6 425.0,519.5 427.5,519.5 430.0,519.5 432.5,519.5 435.0,519.5 437.5,519.5 440.0,519.5 442.5,519.5 445.0,519.5 447.5,519.5 450.0,519.5 452.5,519.6 455.0,519.6 457.5,519.6 460.0,519.6 462.5,519.6 465.0,519.6 467.5,519.7 470.0,519.7 472.5,519.7 475.0,519.7 477.5,519.7 480.0,519.7 482.5,519.7 485.0,519.7 487.5,519.7 490.0,519.7 492.5,519.7 494.7,519.7" fill="none" stroke="#ff0000" stroke-width="2.08" stroke-linejoin="round" stroke-linecap="square"/>
<polyline points="120.0,524.5 122.5,524.5 125.0,524.5 127.5,524.5 130.0,524.5 132.5,524.5 135.0,524.5 137.5,524.5 140.0,524.5 142.5,524.5 145.0,524.4 147.5,524.4 150.0,524.3 152.5,524.3 155.0,524.2 157.5,524.1 160.0,524.0 162.5,523.9 165.0,523.9 167.5,523.8 170.0,523.8 172.5,523.9 175.0,523.9 177.5,523.9 180.0,524.0 182.5,524.0 185.0,524.1 187.5,524.1 190.0,524.2 192.5,524.3 195.0,524.4 197.5,524.4 200.0,524.5 202.5,524.6 205.0,524.7 207.5,524.8 210.0,524.8 212.5,524.9 215.0,525.0 217.5,525.0 220.0,525.1 222.5,525.2 225.0,525.2 227.5,525.3 230.0,525.4 232.5,525.5 235.0,525.5 237.5,525.6 240.0,525.6 242.5,525.7 245.0,525.7 247.5,525.7 250.0,525.7 252.5,525.7 255.0,525.7 257.5,525.7 260.0,525.6 262.5,525.6 265.0,525.6 267.5,525.5 270.0,525.6 272.5,525.6 275.0,525.8 277.5,525.9 280.0,526.1 282.5,526.3 285.0,526.4 287.5,526.5 290.0,526.6 292.5,526.7 295.0,526.8 297.5,526.9 300.0,526.9 302.5,527.0 305.0,527.0 307.5,527.0 310.0,527.0 312.5,527.0 315.0,527.0 317.5,527.0 320.0,526.9 322.5,526.9 325.0,526.8 327.5,526.8 330.0,526.7 332.5,526.7 335.0,526.6 337.5,526.5 340.0,526.4 342.5,526.3 345.0,526.2 347.5,526.0 350.0,525.9 352.5,525.6 355.0,525.4 357.5,525.2 360.0,524.9 362.5,524.7 365.0,524.4 367.5,524.2 370.0,524.0 372.5,523.8 375.0,523.6 377.5,523.4 380.0,523.1 382.5,522.9 385.0,522.7 387.5,522.4 390.0,522.2 392.5,522.1 395.0,522.0 397.5,521.9 400.0,521.8 402.5,521.8 405.0,521.9 407.5,521.9 410.0,522.0 412.5,522.0 415.0,522.1 417.5,522.2 420.0,522.2 422.5,522.3 425.0,522.5 427.5,522.7 430.0,522.8 432.5,522.9 435.0,523.0 437.5,523.0 440.0,522.9 442.5,522.7 445.0,522.5 447.5,522.2 450.0,521.9 452.5,521.6 455.0,521.4 457.5,521.2 460.0,521.1 462.5,521.1 465.0,521.1 467.5,521.1 470.0,521.1 472.5,521.1 475.0,521.1 477.5,521.1 480.0,521.1 482.5,521.1 485.0,521.1 487.5,521.1 490.0,521.1 492.5,521.1 494.7,521.1" fill="none" stroke="#ff0000" stroke-width="2.08" stroke-linejoin="round" stroke-linecap="square"/>
<polyline points="120.0,525.0 122.5,525.0 125.0,525.0 127.5,525.0 130.0,525.0 132.5,525.0 135.0,525.0 137.5,525.0 140.0,525.0 142.5,525.0 145.0,525.1 147.5,525.1 150.0,525.1 152.5,525.1 155.0,525.1 157.5,525.1 160.0,525.1 162.5,525.1 165.0,525.1 167.5,525.2 170.0,525.2 172.5,525.2 175.0,525.2 177.5,525.3 180.0,525.3 182.5,525.4 185.0,525.4 187.5,525.5 190.0,525.6 192.5,525.6 195.0,525.7 197.5,525.8 200.0,525.8 202.5,525.9 205.0,526.0 207.5,526.0 210.0,526.1 212.5,526.2 215.0,526.2 217.5,526.3 220.0,526.3 222.5,526.4 225.0,526.4 227.5,526.5 230.0,526.6 232.5,526.6 235.0,526.7 237.5,526.7 240.0,526.8 242.5,526.8 245.0,526.8 247.5,526.9 250.0,526.9 252.5,526.8 255.0,526.8 257.5,526.8 260.0,526.7 262.5,526.7 265.0,526.6 267.5,526.6 270.0,526.6 272.5,526.7 275.0,526.8 277.5,526.9 280.0,527.0 282.5,527.1 285.0,527.2 287.5,527.3 290.0,527.3 292.5,527.4 295.0,527.4 297.5,527.5 300.0,527.5 302.5,527.6 305.0,527.6 307.5,527.6 310.0,527.6 312.5,527.6 315.0,527.6 317.5,527.6 320.0,527.6 322.5,527.6 325.0,527.5 327.5,527.5 330.0,527.5 332.5,527.5 335.0,527.5 337.5,527.4 340.0,527.4 342.5,527.3 345.0,527.2 347.5,527.1 350.0,526.9 352.5,526.7 355.0,526.5 357.5,526.3 360.0,526.1 362.5,525.8 365.0,525.6 367.5,525.4 370.0,525.1 372.5,525.0 375.0,524.8 377.5,524.6 380.0,524.3 382.5,524.1 385.0,523.9 387.5,523.7 390.0,523.5 392.5,523.4 395.0,523.3 397.5,523.2 400.0,523.1 402.5,523.2 405.0,523.2 407.5,523.2 410.0,523.2 412.5,523.2 415.0,523.2 417.5,523.2 420.0,523.2 422.5,523.2 425.0,523.3 427.5,523.3 430.0,523.4 432.5,523.5 435.0,523.5 437.5,523.5 440.0,523.4 442.5,523.3 445.0,523.2 447.5,523.1 450.0,522.9 452.5,522.8 455.0,522.7 457.5,522.6 460.0,522.5 462.5,522.5 465.0,522.5 467.5,522.5 470.0,522.5 472.5,522.5 475.0,522.5 477.5,522.5 480.0,522.5 482.5,522.5 485.0,522.5 487.5,522.5 490.0,522.5 492.5,522.5 494.7,522.5" fill="none" stroke="#ff0000" stroke-width="2.08" stroke-linejoin="round" stroke-linecap="square"/>
<polyline points="120.0,527.8 122.5,527.8 125.0,527.8 127.5,527.8 130.0,527.8 132.5,527.8 135.0,527.7 137.5,527.7 140.0,527.7 142.5,527.7 145.0,527.7 147.5,527.7 150.0,527.8 152.5,527.8 155.0,527.8 157.5,527.9 160.0,527.9 162.5,527.9 165.0,527.9 167.5,527.9 170.0,527.9 172.5,527.9 175.0,527.9 177.5,527.9 180.0,527.9 182.5,527.9 185.0,527.8 187.5,527.8 190.0,527.8 192.5,527.7 195.0,527.7 197.5,527.7 200.0,527.6 202.5,527.6 205.0,527.6 207.5,527.6 210.0,527.5 212.5,527.5 215.0,527.5 217.5,527.5 220.0,527.5 222.5,527.5 225.0,527.6 227.5,527.6 230.0,527.7 232.5,527.7 235.0,527.8 237.5,527.8 240.0,527.9 242.5,527.9 245.0,528.0 247.5,528.0 250.0,528.0 252.5,528.0 255.0,527.9 257.5,527.9 260.0,527.8 262.5,527.7 265.0,527.7 267.5,527.7 270.0,527.7 272.5,527.7 275.0,527.8 277.5,527.8 280.0,527.9 282.5,527.9 285.0,528.0 287.5,528.0 290.0,528.0 292.5,528.1 295.0,528.1 297.5,528.1 300.0,528.1 302.5,528.1 305.0,528.2 307.5,528.2 310.0,528.2 312.5,528.2 315.0,528.2 317.5,528.3 320.0,528.3 322.5,528.3 325.0,528.3 327.5,528.3 330.0,528.3 332.5,528.3 335.0,528.3 337.5,528.3 340.0,528.3 342.5,528.3 345.0,528.2 347.5,528.1 350.0,528.0 352.5,527.8 355.0,527.6 357.5,527.4 360.0,527.2 362.5,526.9 365.0,526.7 367.5,526.5 370.0,526.3 372.5,526.1 375.0,526.0 377.5,525.8 380.0,525.6 382.5,525.4 385.0,525.2 387.5,525.1 390.0,524.9 392.5,524.8 395.0,524.6 397.5,524.5 400.0,524.5 402.5,524.4 405.0,524.4 407.5,524.3 410.0,524.3 412.5,524.3 415.0,524.2 417.5,524.2 420.0,524.2 422.5,524.1 425.0,524.1 427.5,524.0 430.0,524.0 432.5,524.0 435.0,524.0 437.5,524.0 440.0,524.0 442.5,524.0 445.0,524.0 447.5,524.0 450.0,524.0 452.5,524.0 455.0,524.0 457.5,524.0 460.0,524.0 462.5,524.0 465.0,524.0 467.5,524.0 470.0,524.0 472.5,524.0 475.0,524.0 477.5,524.0 480.0,524.0 482.5,524.0 485.0,524.0 487.5,524.0 490.0,524.0 492.5,524.0 494.7,524.0" fill="none" stroke="#ff0000" stroke-width="2.08" stroke-linejoin="round" stroke-linecap="square"/>
<polyline points="120.0,528.3 122.5,528.3 125.0,528.3 127.5,528.3 130.0,528.3 132.5,528.3 135.0,528.3 137.5,528.3 140.0,528.3 142.5,528.3 145.0,528.4 147.5,528.4 150.0,528.5 152.5,528.5 155.0,528.6 157.5,528.7 160.0,528.8 162.5,528.9 165.0,528.9 167.5,529.0 170.0,529.0 172.5,529.0 175.0,529.0 177.5,528.9 180.0,528.9 182.5,528.9 185.0,528.9 187.5,528.9 190.0,528.9 192.5,528.9 195.0,528.8 197.5,528.8 200.0,528.8 202.5,528.8 205.0,528.8 207.5,528.8 210.0,528.8 212.5,528.8 215.0,528.8 217.5,528.8 220.0,528.8 222.5,528.8 225.0,528.8 227.5,528.8 230.0,528.9 232.5,528.9 235.0,528.9 237.5,529.0 240.0,529.0 242.5,529.1 245.0,529.1 247.5,529.1 250.0,529.1 252.5,529.1 255.0,529.0 257.5,529.0 260.0,528.9 262.5,528.8 265.0,528.8 267.5,528.8 270.0,528.8 272.5,528.8 275.0,528.8 277.5,528.8 280.0,528.8 282.5,528.8 285.0,528.8 287.5,528.8 290.0,528.8 292.5,528.8 295.0,528.8 297.5,528.8 300.0,528.8 302.5,528.8 305.0,528.8 307.5,528.8 310.0,528.8 312.5,528.8 315.0,528.8 317.5,528.9 320.0,528.9 322.5,529.0 325.0,529.1 327.5,529.1 330.0,529.2 332.5,529.2 335.0,529.3 337.5,529.3 340.0,529.3 342.5,529.3 345.0,529.3 347.5,529.3 350.0,529.2 352.5,529.2 355.0,529.1 357.5,529.1 360.0,529.0 362.5,529.0 365.0,528.9 367.5,528.9 370.0,528.9 372.5,528.8 375.0,528.8 377.5,528.8 380.0,528.7 382.5,528.7 385.0,528.7 387.5,528.6 390.0,528.6 392.5,528.6 395.0,528.6 397.5,528.5 400.0,528.5 402.5,528.5 405.0,528.6 407.5,528.6 410.0,528.7 412.5,528.7 415.0,528.8 417.5,528.8 420.0,528.8 422.5,528.9 425.0,528.9 427.5,529.0 430.0,529.0 432.5,529.0 435.0,529.0 437.5,529.0 440.0,529.0 442.5,529.0 445.0,528.9 447.5,528.8 450.0,528.7 452.5,528.6 455.0,528.5 457.5,528.4 460.0,528.4 462.5,528.3 465.0,528.3 467.5,528.2 470.0,528.2 472.5,528.2 475.0,528.1 477.5,528.1 480.0,528.0 482.5,528.0 485.0,527.9 487.5,527.8 490.0,527.7 492.5,527.6 494.7,527.5" fill="none" stroke="#ff0000" stroke-width="2.08" stroke-linejoin="round" stroke-linecap="square"/>
<polyline points="120.0,530.8 122.5,530.8 125.0,530.8 127.5,530.8 130.0,530.8 132.5,530.8 135.0,530.8 137.5,530.8 140.0,530.8 142.5,530.8 145.0,530.8 147.5,530.8 150.0,530.7 152.5,530.6 155.0,530.5 157.5,530.4 160.0,530.2 162.5,530.1 165.0,530.0 167.5,530.0 170.0,530.0 172.5,530.0 175.0,530.0 177.5,530.0 180.0,530.0 182.5,530.0 185.0,530.0 187.5,530.0 190.0,530.0 192.5,530.0 195.0,530.0 197.5,530.0 200.0,530.0 202.5,530.0 205.0,530.0 207.5,530.0 210.0,530.0 212.5,530.0 215.0,530.0 217.5,530.0 220.0,530.0 222.5,530.0 225.0,530.0 227.5,530.0 230.0,530.1 232.5,530.1 235.0,530.1 237.5,530.1 240.0,530.2 242.5,530.2 245.0,530.2 247.5,530.2 250.0,530.2 252.5,530.2 255.0,530.2 257.5,530.1 260.0,530.0 262.5,530.0 265.0,529.9 267.5,529.8 270.0,529.8 272.5,529.7 275.0,529.7 277.5,529.6 280.0,529.6 282.5,529.6 285.0,529.5 287.5,529.5 290.0,529.5 292.5,529.4 295.0,529.4 297.5,529.4 300.0,529.4 302.5,529.3 305.0,529.3 307.5,529.3 310.0,529.3 312.5,529.4 315.0,529.5 317.5,529.5 320.0,529.6 322.5,529.7 325.0,529.8 327.5,529.9 330.0,530.0 332.5,530.1 335.0,530.2 337.5,530.2 340.0,530.3 342.5,530.2 345.0,530.2 347.5,530.2 350.0,530.2 352.5,530.2 355.0,530.1 357.5,530.1 360.0,530.0 362.5,530.0 365.0,530.0 367.5,529.9 370.0,529.9 372.5,529.9 375.0,529.8 377.5,529.8 380.0,529.8 382.5,529.7 385.0,529.7 387.5,529.7 390.0,529.7 392.5,529.6 395.0,529.6 397.5,529.6 400.0,529.6 402.5,529.6 405.0,529.6 407.5,529.6 410.0,529.7 412.5,529.7 415.0,529.7 417.5,529.8 420.0,529.8 422.5,529.8 425.0,529.8 427.5,529.8 430.0,529.9 432.5,529.9 435.0,529.9 437.5,529.9 440.0,529.9 442.5,529.8 445.0,529.8 447.5,529.8 450.0,529.7 452.5,529.6 455.0,529.6 457.5,529.5 460.0,529.5 462.5,529.4 465.0,529.3 467.5,529.3 470.0,529.2 472.5,529.1 475.0,529.1 477.5,529.0 480.0,528.9 482.5,528.8 485.0,528.7 487.5,528.6 490.0,528.6 492.5,528.5 494.7,528.4" fill="none" stroke="#ff0000" stroke-width="2.08" stroke-linejoin="round" stroke-linecap="square"/>
<polyline points="120.0,531.5 122.5,531.5 125.0,531.5 127.5,531.5 130.0,531.5 132.5,531.5 135.0,531.5 137.5,531.5 140.0,531.5 142.5,531.5 145.0,531.5 147.5,531.5 150.0,531.5 152.5,531.4 155.0,531.3 157.5,531.3 160.0,531.2 162.5,531.1 165.0,531.1 167.5,531.0 170.0,531.0 172.5,531.0 175.0,531.0 177.5,531.0 180.0,531.0 182.5,531.1 185.0,531.1 187.5,531.1 190.0,531.1 192.5,531.1 195.0,531.1 197.5,531.1 200.0,531.1 202.5,531.2 205.0,531.2 207.5,531.2 210.0,531.2 212.5,531.2 215.0,531.2 217.5,531.2 220.0,531.2 222.5,531.2 225.0,531.3 227.5,531.3 230.0,531.3 232.5,531.3 235.0,531.3 237.5,531.3 240.0,531.3 242.5,531.3 245.0,531.3 247.5,531.3 250.0,531.3 252.5,531.3 255.0,531.3 257.5,531.2 260.0,531.1 262.5,531.1 265.0,531.0 267.5,530.9 270.0,530.8 272.5,530.7 275.0,530.7 277.5,530.6 280.0,530.5 282.5,530.4 285.0,530.3 287.5,530.2 290.0,530.2 292.5,530.1 295.0,530.1 297.5,530.0 300.0,530.0 302.5,529.9 305.0,529.9 307.5,529.9 310.0,529.9 312.5,530.0 315.0,530.1 317.5,530.2 320.0,530.3 322.5,530.5 325.0,530.6 327.5,530.8 330.0,530.9 332.5,531.0 335.0,531.1 337.5,531.2 340.0,531.2 342.5,531.2 345.0,531.2 347.5,531.2 350.0,531.2 352.5,531.1 355.0,531.1 357.5,531.1 360.0,531.1 362.5,531.0 365.0,531.0 367.5,531.0 370.0,530.9 372.5,530.9 375.0,530.9 377.5,530.9 380.0,530.8 382.5,530.8 385.0,530.8 387.5,530.7 390.0,530.7 392.5,530.7 395.0,530.7 397.5,530.7 400.0,530.7 402.5,530.7 405.0,530.7 407.5,530.7 410.0,530.7 412.5,530.7 415.0,530.7 417.5,530.7 420.0,530.7 422.5,530.7 425.0,530.7 427.5,530.7 430.0,530.7 432.5,530.7 435.0,530.7 437.5,530.7 440.0,530.7 442.5,530.7 445.0,530.7 447.5,530.7 450.0,530.7 452.5,530.6 455.0,530.6 457.5,530.6 460.0,530.6 462.5,530.5 465.0,530.5 467.5,530.4 470.0,530.2 472.5,530.1 475.0,530.0 477.5,529.9 480.0,529.8 482.5,529.7 485.0,529.6 487.5,529.5 490.0,529.4 492.5,529.3 494.7,529.2" fill="none" stroke="#ff0000" stroke-width="2.08" stroke-linejoin="round" stroke-linecap="square"/>
<polyline points="120.0,532.2 122.5,532.2 125.0,532.2 127.5,532.2 130.0,532.2 132.5,532.2 135.0,532.3 137.5,532.3 140.0,532.3 142.5,532.3 145.0,532.3 147.5,532.3 150.0,532.2 152.5,532.2 155.0,532.2 157.5,532.1 160.0,532.1 162.5,532.1 165.0,532.1 167.5,532.1 170.0,532.1 172.5,532.1 175.0,532.1 177.5,532.1 180.0,532.1 182.5,532.1 185.0,532.2 187.5,532.2 190.0,532.2 192.5,532.3 195.0,532.3 197.5,532.3 200.0,532.3 202.5,532.4 205.0,532.4 207.5,532.4 210.0,532.4 212.5,532.4 215.0,532.5 217.5,532.5 220.0,532.5 222.5,532.5 225.0,532.5 227.5,532.5 230.0,532.5 232.5,532.5 235.0,532.5 237.5,532.5 240.0,532.5 242.5,532.5 245.0,532.5 247.5,532.5 250.0,532.5 252.5,532.4 255.0,532.4 257.5,532.3 260.0,532.2 262.5,532.2 265.0,532.1 267.5,532.0 270.0,531.9 272.5,531.8 275.0,531.6 277.5,531.5 280.0,531.3 282.5,531.2 285.0,531.1 287.5,531.0 290.0,530.9 292.5,530.8 295.0,530.7 297.5,530.6 300.0,530.6 302.5,530.5 305.0,530.5 307.5,530.5 310.0,530.5 312.5,530.6 315.0,530.7 317.5,530.9 320.0,531.0 322.5,531.2 325.0,531.4 327.5,531.6 330.0,531.8 332.5,531.9 335.0,532.1 337.5,532.1 340.0,532.2 342.5,532.2 345.0,532.2 347.5,532.1 350.0,532.1 352.5,532.1 355.0,532.1 357.5,532.1 360.0,532.1 362.5,532.0 365.0,532.0 367.5,532.0 370.0,532.0 372.5,532.0 375.0,531.9 377.5,531.9 380.0,531.9 382.5,531.9 385.0,531.8 387.5,531.8 390.0,531.8 392.5,531.8 395.0,531.7 397.5,531.7 400.0,531.7 402.5,531.7 405.0,531.7 407.5,531.7 410.0,531.7 412.5,531.7 415.0,531.7 417.5,531.7 420.0,531.7 422.5,531.7 425.0,531.6 427.5,531.6 430.0,531.6 432.5,531.6 435.0,531.6 437.5,531.6 440.0,531.6 442.5,531.6 445.0,531.6 447.5,531.6 450.0,531.6 452.5,531.6 455.0,531.6 457.5,531.7 460.0,531.7 462.5,531.6 465.0,531.6 467.5,531.4 470.0,531.3 472.5,531.1 475.0,530.9 477.5,530.7 480.0,530.6 482.5,530.5 485.0,530.4 487.5,530.3 490.0,530.2 492.5,530.2 494.7,530.1" fill="none" stroke="#ff0000" stroke-width="2.08" stroke-linejoin="round" stroke-linecap="square"/>
<polyline points="120.0,535.0 122.5,535.0 125.0,535.0 127.5,535.0 130.0,535.0 132.5,535.0 135.0,535.0 137.5,534.9 140.0,534.9 142.5,534.9 145.0,534.9 147.5,534.9 150.0,534.9 152.5,534.9 155.0,534.9 157.5,534.9 160.0,534.9 162.5,534.9 165.0,534.9 167.5,534.9 170.0,534.9 172.5,534.9 175.0,534.9 177.5,534.9 180.0,534.9 182.5,534.9 185.0,535.0 187.5,535.0 190.0,535.0 192.5,535.0 195.0,535.0 197.5,535.0 200.0,535.0 202.5,535.0 205.0,535.0 207.5,535.0 210.0,535.0 212.5,535.0 215.0,535.0 217.5,535.0 220.0,535.1 222.5,535.1 225.0,535.1 227.5,535.2 230.0,535.2 232.5,535.3 235.0,535.3 237.5,535.4 240.0,535.4 242.5,535.5 245.0,535.5 247.5,535.5 250.0,535.5 252.5,535.5 255.0,535.4 257.5,535.2 260.0,535.0 262.5,534.8 265.0,534.7 267.5,534.6 270.0,534.5 272.5,534.4 275.0,534.3 277.5,534.2 280.0,534.2 282.5,534.1 285.0,534.1 287.5,534.0 290.0,534.1 292.5,534.2 295.0,534.3 297.5,534.5 300.0,534.7 302.5,534.9 305.0,535.0 307.5,535.0 310.0,535.0 312.5,535.0 315.0,535.0 317.5,535.0 320.0,535.0 322.5,535.0 325.0,535.0 327.5,535.0 330.0,534.9 332.5,534.9 335.0,534.9 337.5,534.9 340.0,534.8 342.5,534.8 345.0,534.7 347.5,534.6 350.0,534.4 352.5,534.2 355.0,534.0 357.5,533.8 360.0,533.6 362.5,533.4 365.0,533.3 367.5,533.1 370.0,533.0 372.5,533.0 375.0,533.0 377.5,532.9 380.0,532.9 382.5,532.9 385.0,532.9 387.5,532.9 390.0,532.8 392.5,532.8 395.0,532.8 397.5,532.8 400.0,532.8 402.5,532.8 405.0,532.7 407.5,532.7 410.0,532.7 412.5,532.7 415.0,532.7 417.5,532.6 420.0,532.6 422.5,532.6 425.0,532.6 427.5,532.5 430.0,532.5 432.5,532.4 435.0,532.4 437.5,532.4 440.0,532.4 442.5,532.5 445.0,532.5 447.5,532.6 450.0,532.6 452.5,532.7 455.0,532.7 457.5,532.7 460.0,532.8 462.5,532.7 465.0,532.6 467.5,532.5 470.0,532.3 472.5,532.0 475.0,531.8 477.5,531.6 480.0,531.5 482.5,531.4 485.0,531.2 487.5,531.2 490.0,531.1 492.5,531.0 494.7,531.0" fill="none" stroke="#ff0000" stroke-width="2.08" stroke-linejoin="round" stroke-linecap="square"/>
<polyline points="120.0,535.0 122.5,535.0 125.0,535.0 127.5,535.1 130.0,535.1 132.5,535.1 135.0,535.1 137.5,535.2 140.0,535.2 142.5,535.2 145.0,535.3 147.5,535.3 150.0,535.4 152.5,535.4 155.0,535.5 157.5,535.6 160.0,535.6 162.5,535.7 165.0,535.7 167.5,535.8 170.0,535.8 172.5,535.8 175.0,535.8 177.5,535.7 180.0,535.7 182.5,535.7 185.0,535.7 187.5,535.7 190.0,535.7 192.5,535.7 195.0,535.7 197.5,535.6 200.0,535.6 202.5,535.6 205.0,535.6 207.5,535.6 210.0,535.6 212.5,535.6 215.0,535.6 217.5,535.6 220.0,535.6 222.5,535.6 225.0,535.6 227.5,535.7 230.0,535.7 232.5,535.8 235.0,535.9 237.5,535.9 240.0,536.0 242.5,536.0 245.0,536.1 247.5,536.1 250.0,536.1 252.5,536.0 255.0,535.9 257.5,535.8 260.0,535.6 262.5,535.4 265.0,535.3 267.5,535.2 270.0,535.1 272.5,535.0 275.0,534.9 277.5,534.9 280.0,534.8 282.5,534.8 285.0,534.7 287.5,534.7 290.0,534.7 292.5,534.8 295.0,535.0 297.5,535.2 300.0,535.3 302.5,535.5 305.0,535.6 307.5,535.6 310.0,535.6 312.5,535.6 315.0,535.6 317.5,535.6 320.0,535.6 322.5,535.6 325.0,535.6 327.5,535.6 330.0,535.6 332.5,535.6 335.0,535.6 337.5,535.6 340.0,535.6 342.5,535.5 345.0,535.5 347.5,535.4 350.0,535.2 352.5,535.1 355.0,534.9 357.5,534.7 360.0,534.6 362.5,534.4 365.0,534.3 367.5,534.2 370.0,534.1 372.5,534.0 375.0,534.0 377.5,534.0 380.0,534.0 382.5,534.0 385.0,533.9 387.5,533.9 390.0,533.9 392.5,533.9 395.0,533.9 397.5,533.9 400.0,533.8 402.5,533.8 405.0,533.8 407.5,533.8 410.0,533.7 412.5,533.7 415.0,533.6 417.5,533.6 420.0,533.6 422.5,533.5 425.0,533.5 427.5,533.4 430.0,533.3 432.5,533.3 435.0,533.3 437.5,533.3 440.0,533.4 442.5,533.6 445.0,533.8 447.5,534.1 450.0,534.4 452.5,534.7 455.0,534.9 457.5,535.1 460.0,535.2 462.5,535.2 465.0,535.1 467.5,535.0 470.0,534.8 472.5,534.6 475.0,534.5 477.5,534.4 480.0,534.3 482.5,534.3 485.0,534.3 487.5,534.4 490.0,534.4 492.5,534.5 494.7,534.5" fill="none" stroke="#ff0000" stroke-width="2.08" stroke-linejoin="round" stroke-linecap="square"/>
<polyline points="120.0,540.0 122.5,540.0 125.0,540.0 127.5,540.0 130.0,539.9 132.5,539.8 135.0,539.8 137.5,539.7 140.0,539.6 142.5,539.5 145.0,539.3 147.5,539.2 150.0,538.9 152.5,538.5 155.0,538.1 157.5,537.7 160.0,537.3 162.5,537.0 165.0,536.7 167.5,536.6 170.0,536.5 172.5,536.5 175.0,536.5 177.5,536.4 180.0,536.4 182.5,536.3 185.0,536.3 187.5,536.3 190.0,536.3 192.5,536.2 195.0,536.2 197.5,536.2 200.0,536.2 202.5,536.2 205.0,536.1 207.5,536.1 210.0,536.1 212.5,536.1 215.0,536.1 217.5,536.1 220.0,536.1 222.5,536.1 225.0,536.2 227.5,536.2 230.0,536.3 232.5,536.3 235.0,536.4 237.5,536.5 240.0,536.5 242.5,536.6 245.0,536.6 247.5,536.6 250.0,536.6 252.5,536.6 255.0,536.5 257.5,536.3 260.0,536.2 262.5,536.0 265.0,535.9 267.5,535.8 270.0,535.7 272.5,535.7 275.0,535.6 277.5,535.5 280.0,535.5 282.5,535.4 285.0,535.4 287.5,535.4 290.0,535.4 292.5,535.5 295.0,535.6 297.5,535.8 300.0,535.9 302.5,536.1 305.0,536.2 307.5,536.2 310.0,536.2 312.5,536.2 315.0,536.3 317.5,536.3 320.0,536.3 322.5,536.3 325.0,536.3 327.5,536.3 330.0,536.3 332.5,536.3 335.0,536.3 337.5,536.3 340.0,536.3 342.5,536.3 345.0,536.2 347.5,536.2 350.0,536.1 352.5,535.9 355.0,535.8 357.5,535.7 360.0,535.5 362.5,535.4 365.0,535.3 367.5,535.2 370.0,535.1 372.5,535.1 375.0,535.1 377.5,535.0 380.0,535.0 382.5,535.0 385.0,535.0 387.5,535.0 390.0,535.0 392.5,535.0 395.0,534.9 397.5,534.9 400.0,534.9 402.5,534.9 405.0,534.8 407.5,534.8 410.0,534.7 412.5,534.7 415.0,534.6 417.5,534.6 420.0,534.5 422.5,534.5 425.0,534.4 427.5,534.3 430.0,534.2 432.5,534.2 435.0,534.1 437.5,534.1 440.0,534.2 442.5,534.3 445.0,534.4 447.5,534.6 450.0,534.7 452.5,534.9 455.0,535.0 457.5,535.1 460.0,535.2 462.5,535.2 465.0,535.1 467.5,535.1 470.0,534.9 472.5,534.8 475.0,534.7 477.5,534.7 480.0,534.6 482.5,534.7 485.0,534.7 487.5,534.7 490.0,534.7 492.5,534.7 494.7,534.8" fill="none" stroke="#ff0000" stroke-width="2.08" stroke-linejoin="round" stroke-linecap="square"/>
<polyline points="120.0,540.5 122.5,540.5 125.0,540.5 127.5,540.5 130.0,540.4 132.5,540.4 135.0,540.3 137.5,540.2 140.0,540.2 142.5,540.1 145.0,540.0 147.5,539.8 150.0,539.6 152.5,539.3 155.0,538.9 157.5,538.5 160.0,538.2 162.5,537.8 165.0,537.6 167.5,537.4 170.0,537.3 172.5,537.3 175.0,537.2 177.5,537.1 180.0,537.1 182.5,537.0 185.0,537.0 187.5,536.9 190.0,536.9 192.5,536.9 195.0,536.8 197.5,536.8 200.0,536.8 202.5,536.7 205.0,536.7 207.5,536.7 210.0,536.7 212.5,536.7 215.0,536.7 217.5,536.7 220.0,536.7 222.5,536.7 225.0,536.7 227.5,536.8 230.0,536.8 232.5,536.9 235.0,536.9 237.5,537.0 240.0,537.1 242.5,537.1 245.0,537.1 247.5,537.2 250.0,537.2 252.5,537.1 255.0,537.0 257.5,536.9 260.0,536.8 262.5,536.6 265.0,536.5 267.5,536.4 270.0,536.4 272.5,536.3 275.0,536.3 277.5,536.2 280.0,536.1 282.5,536.1 285.0,536.1 287.5,536.1 290.0,536.1 292.5,536.2 295.0,536.3 297.5,536.4 300.0,536.5 302.5,536.6 305.0,536.7 307.5,536.8 310.0,536.8 312.5,536.9 315.0,536.9 317.5,536.9 320.0,536.9 322.5,537.0 325.0,537.0 327.5,537.0 330.0,537.0 332.5,537.0 335.0,537.0 337.5,537.1 340.0,537.1 342.5,537.0 345.0,537.0 347.5,536.9 350.0,536.9 352.5,536.8 355.0,536.7 357.5,536.6 360.0,536.5 362.5,536.4 365.0,536.3 367.5,536.2 370.0,536.2 372.5,536.1 375.0,536.1 377.5,536.1 380.0,536.1 382.5,536.1 385.0,536.0 387.5,536.0 390.0,536.0 392.5,536.0 395.0,536.0 397.5,536.0 400.0,536.0 402.5,535.9 405.0,535.9 407.5,535.8 410.0,535.8 412.5,535.7 415.0,535.6 417.5,535.5 420.0,535.5 422.5,535.4 425.0,535.3 427.5,535.2 430.0,535.1 432.5,535.0 435.0,535.0 437.5,535.0 440.0,535.0 442.5,535.0 445.0,535.0 447.5,535.1 450.0,535.1 452.5,535.1 455.0,535.2 457.5,535.2 460.0,535.2 462.5,535.2 465.0,535.2 467.5,535.1 470.0,535.1 472.5,535.0 475.0,535.0 477.5,535.0 480.0,535.0 482.5,535.0 485.0,535.0 487.5,535.0 490.0,535.0 492.5,535.0 494.7,535.0" fill="none" stroke="#ff0000" stroke-width="2.08" stroke-linejoin="round" stroke-linecap="square"/>
<polyline points="120.0,541.0 122.5,541.0 125.0,541.0 127.5,540.9 130.0,540.9 132.5,540.9 135.0,540.8 137.5,540.8 140.0,540.7 142.5,540.7 145.0,540.6 147.5,540.5 150.0,540.3 152.5,540.0 155.0,539.7 157.5,539.3 160.0,539.0 162.5,538.7 165.0,538.4 167.5,538.2 170.0,538.1 172.5,538.1 175.0,538.0 177.5,537.9 180.0,537.8 182.5,537.7 185.0,537.7 187.5,537.6 190.0,537.5 192.5,537.5 195.0,537.4 197.5,537.4 200.0,537.3 202.5,537.3 205.0,537.3 207.5,537.2 210.0,537.2 212.5,537.2 215.0,537.2 217.5,537.2 220.0,537.2 222.5,537.2 225.0,537.3 227.5,537.3 230.0,537.4 232.5,537.4 235.0,537.5 237.5,537.5 240.0,537.6 242.5,537.6 245.0,537.7 247.5,537.7 250.0,537.7 252.5,537.6 255.0,537.6 257.5,537.5 260.0,537.4 262.5,537.2 265.0,537.1 267.5,537.1 270.0,537.0 272.5,537.0 275.0,536.9 277.5,536.9 280.0,536.8 282.5,536.8 285.0,536.7 287.5,536.7 290.0,536.8 292.5,536.8 295.0,536.9 297.5,537.0 300.0,537.1 302.5,537.2 305.0,537.3 307.5,537.4 310.0,537.4 312.5,537.5 315.0,537.5 317.5,537.6 320.0,537.6 322.5,537.6 325.0,537.7 327.5,537.7 330.0,537.7 332.5,537.8 335.0,537.8 337.5,537.8 340.0,537.8 342.5,537.8 345.0,537.8 347.5,537.7 350.0,537.6 352.5,537.6 355.0,537.5 357.5,537.4 360.0,537.4 362.5,537.3 365.0,537.2 367.5,537.2 370.0,537.2 372.5,537.2 375.0,537.3 377.5,537.5 380.0,537.7 382.5,538.1 385.0,538.5 387.5,538.8 390.0,539.2 392.5,539.5 395.0,539.8 397.5,540.0 400.0,540.0 402.5,540.0 405.0,540.0 407.5,540.0 410.0,540.0 412.5,540.0 415.0,540.0 417.5,540.0 420.0,540.0 422.5,540.0 425.0,540.0 427.5,540.0 430.0,540.0 432.5,540.0 435.0,540.0 437.5,540.0 440.0,540.0 442.5,540.0 445.0,540.0 447.5,540.0 450.0,540.0 452.5,540.0 455.0,540.0 457.5,540.0 460.0,540.0 462.5,540.0 465.0,540.0 467.5,540.0 470.0,539.9 472.5,539.9 475.0,539.8 477.5,539.8 480.0,539.7 482.5,539.7 485.0,539.7 487.5,539.6 490.0,539.6 492.5,539.6 494.7,539.5" fill="none" stroke="#ff0000" stroke-width="2.08" stroke-linejoin="round" stroke-linecap="square"/>
<polyline points="120.0,541.5 122.5,541.5 125.0,541.5 127.5,541.4 130.0,541.4 132.5,541.4 135.0,541.4 137.5,541.4 140.0,541.3 142.5,541.3 145.0,541.3 147.5,541.2 150.0,541.0 152.5,540.7 155.0,540.4 157.5,540.1 160.0,539.8 162.5,539.5 165.0,539.2 167.5,539.1 170.0,539.0 172.5,538.8 175.0,538.7 177.5,538.6 180.0,538.5 182.5,538.4 185.0,538.4 187.5,538.3 190.0,538.2 192.5,538.1 195.0,538.1 197.5,538.0 200.0,537.9 202.5,537.9 205.0,537.8 207.5,537.8 210.0,537.8 212.5,537.8 215.0,537.7 217.5,537.7 220.0,537.7 222.5,537.8 225.0,537.8 227.5,537.8 230.0,537.9 232.5,538.0 235.0,538.0 237.5,538.1 240.0,538.1 242.5,538.2 245.0,538.2 247.5,538.2 250.0,538.2 252.5,538.2 255.0,538.1 257.5,538.0 260.0,537.9 262.5,537.8 265.0,537.8 267.5,537.7 270.0,537.6 272.5,537.6 275.0,537.6 277.5,537.5 280.0,537.5 282.5,537.4 285.0,537.4 287.5,537.4 290.0,537.4 292.5,537.5 295.0,537.5 297.5,537.6 300.0,537.7 302.5,537.8 305.0,537.9 307.5,538.0 310.0,538.0 312.5,538.1 315.0,538.1 317.5,538.2 320.0,538.3 322.5,538.3 325.0,538.4 327.5,538.4 330.0,538.5 332.5,538.5 335.0,538.5 337.5,538.5 340.0,538.5 342.5,538.5 345.0,538.5 347.5,538.5 350.0,538.5 352.5,538.4 355.0,538.4 357.5,538.3 360.0,538.3 362.5,538.3 365.0,538.3 367.5,538.2 370.0,538.2 372.5,538.2 375.0,538.3 377.5,538.5 380.0,538.7 382.5,539.0 385.0,539.3 387.5,539.7 390.0,540.0 392.5,540.3 395.0,540.5 397.5,540.7 400.0,540.7 402.5,540.7 405.0,540.7 407.5,540.7 410.0,540.7 412.5,540.7 415.0,540.7 417.5,540.7 420.0,540.7 422.5,540.7 425.0,540.6 427.5,540.6 430.0,540.6 432.5,540.6 435.0,540.6 437.5,540.6 440.0,540.6 442.5,540.6 445.0,540.7 447.5,540.7 450.0,540.7 452.5,540.8 455.0,540.8 457.5,540.8 460.0,540.8 462.5,540.8 465.0,540.8 467.5,540.7 470.0,540.6 472.5,540.5 475.0,540.5 477.5,540.4 480.0,540.3 482.5,540.2 485.0,540.2 487.5,540.1 490.0,540.1 492.5,540.1 494.7,540.0" fill="none" stroke="#ff0000" stroke-width="2.08" stroke-linejoin="round" stroke-linecap="square"/>
<polyline points="120.0,547.0 122.5,547.0 125.0,547.0 127.5,546.9 130.0,546.8 132.5,546.7 135.0,546.6 137.5,546.4 140.0,546.2 142.5,546.0 145.0,545.8 147.5,545.5 150.0,544.9 152.5,544.2 155.0,543.3 157.5,542.4 160.0,541.6 162.5,540.8 165.0,540.3 167.5,539.9 170.0,539.7 172.5,539.6 175.0,539.5 177.5,539.3 180.0,539.2 182.5,539.1 185.0,539.0 187.5,538.9 190.0,538.8 192.5,538.7 195.0,538.6 197.5,538.5 200.0,538.5 202.5,538.4 205.0,538.4 207.5,538.3 210.0,538.3 212.5,538.3 215.0,538.3 217.5,538.3 220.0,538.3 222.5,538.3 225.0,538.3 227.5,538.4 230.0,538.4 232.5,538.5 235.0,538.6 237.5,538.6 240.0,538.7 242.5,538.7 245.0,538.7 247.5,538.8 250.0,538.8 252.5,538.7 255.0,538.7 257.5,538.6 260.0,538.5 262.5,538.5 265.0,538.4 267.5,538.3 270.0,538.3 272.5,538.2 275.0,538.2 277.5,538.2 280.0,538.1 282.5,538.1 285.0,538.1 287.5,538.1 290.0,538.1 292.5,538.1 295.0,538.2 297.5,538.3 300.0,538.3 302.5,538.4 305.0,538.5 307.5,538.5 310.0,538.6 312.5,538.7 315.0,538.7 317.5,538.8 320.0,538.9 322.5,539.0 325.0,539.0 327.5,539.1 330.0,539.2 332.5,539.2 335.0,539.2 337.5,539.3 340.0,539.3 342.5,539.3 345.0,539.3 347.5,539.3 350.0,539.3 352.5,539.3 355.0,539.3 357.5,539.3 360.0,539.3 362.5,539.3 365.0,539.3 367.5,539.3 370.0,539.3 372.5,539.3 375.0,539.3 377.5,539.5 380.0,539.7 382.5,539.9 385.0,540.2 387.5,540.5 390.0,540.8 392.5,541.1 395.0,541.3 397.5,541.4 400.0,541.4 402.5,541.4 405.0,541.4 407.5,541.4 410.0,541.4 412.5,541.4 415.0,541.3 417.5,541.3 420.0,541.3 422.5,541.3 425.0,541.3 427.5,541.2 430.0,541.2 432.5,541.2 435.0,541.2 437.5,541.2 440.0,541.2 442.5,541.2 445.0,541.3 447.5,541.4 450.0,541.4 452.5,541.5 455.0,541.6 457.5,541.6 460.0,541.6 462.5,541.6 465.0,541.6 467.5,541.5 470.0,541.3 472.5,541.2 475.0,541.1 477.5,540.9 480.0,540.9 482.5,540.8 485.0,540.7 487.5,540.6 490.0,540.6 492.5,540.5 494.7,540.5" fill="none" stroke="#ff0000" stroke-width="2.08" stroke-linejoin="round" stroke-linecap="square"/>
<polyline points="120.0,547.2 122.5,547.2 125.0,547.2 127.5,547.1 130.0,547.0 132.5,546.9 135.0,546.8 137.5,546.6 140.0,546.4 142.5,546.3 145.0,546.1 147.5,545.7 150.0,545.2 152.5,544.6 155.0,543.8 157.5,543.0 160.0,542.3 162.5,541.6 165.0,541.1 167.5,540.7 170.0,540.5 172.5,540.4 175.0,540.2 177.5,540.1 180.0,539.9 182.5,539.8 185.0,539.7 187.5,539.5 190.0,539.4 192.5,539.3 195.0,539.2 197.5,539.1 200.0,539.1 202.5,539.0 205.0,538.9 207.5,538.9 210.0,538.9 212.5,538.8 215.0,538.8 217.5,538.8 220.0,538.8 222.5,538.8 225.0,538.9 227.5,538.9 230.0,539.0 232.5,539.0 235.0,539.1 237.5,539.2 240.0,539.2 242.5,539.2 245.0,539.3 247.5,539.3 250.0,539.3 252.5,539.3 255.0,539.2 257.5,539.2 260.0,539.1 262.5,539.1 265.0,539.0 267.5,539.0 270.0,538.9 272.5,538.9 275.0,538.9 277.5,538.8 280.0,538.8 282.5,538.8 285.0,538.8 287.5,538.8 290.0,538.8 292.5,538.8 295.0,538.8 297.5,538.9 300.0,538.9 302.5,539.0 305.0,539.1 307.5,539.1 310.0,539.2 312.5,539.3 315.0,539.3 317.5,539.4 320.0,539.5 322.5,539.6 325.0,539.6 327.5,539.7 330.0,539.8 332.5,539.9 335.0,539.9 337.5,540.0 340.0,540.0 342.5,540.0 345.0,540.1 347.5,540.1 350.0,540.1 352.5,540.1 355.0,540.1 357.5,540.1 360.0,540.2 362.5,540.2 365.0,540.2 367.5,540.2 370.0,540.3 372.5,540.3 375.0,540.4 377.5,540.5 380.0,540.7 382.5,540.9 385.0,541.2 387.5,541.4 390.0,541.6 392.5,541.8 395.0,542.0 397.5,542.1 400.0,542.1 402.5,542.1 405.0,542.1 407.5,542.1 410.0,542.1 412.5,542.0 415.0,542.0 417.5,542.0 420.0,541.9 422.5,541.9 425.0,541.9 427.5,541.8 430.0,541.8 432.5,541.7 435.0,541.7 437.5,541.7 440.0,541.8 442.5,541.8 445.0,541.9 447.5,542.0 450.0,542.1 452.5,542.3 455.0,542.3 457.5,542.4 460.0,542.5 462.5,542.4 465.0,542.4 467.5,542.2 470.0,542.1 472.5,541.9 475.0,541.7 477.5,541.5 480.0,541.4 482.5,541.3 485.0,541.2 487.5,541.2 490.0,541.1 492.5,541.0 494.7,541.0" fill="none" stroke="#ff0000" stroke-width="2.08" stroke-linejoin="round" stroke-linecap="square"/>
<polyline points="120.0,547.4 122.5,547.4 125.0,547.4 127.5,547.3 130.0,547.2 132.5,547.1 135.0,547.0 137.5,546.8 140.0,546.6 142.5,546.5 145.0,546.3 147.5,546.0 150.0,545.5 152.5,545.0 155.0,544.3 157.5,543.6 160.0,543.0 162.5,542.4 165.0,541.9 167.5,541.5 170.0,541.3 172.5,541.2 175.0,541.0 177.5,540.8 180.0,540.6 182.5,540.5 185.0,540.3 187.5,540.2 190.0,540.1 192.5,540.0 195.0,539.8 197.5,539.7 200.0,539.7 202.5,539.6 205.0,539.5 207.5,539.5 210.0,539.4 212.5,539.4 215.0,539.4 217.5,539.3 220.0,539.4 222.5,539.4 225.0,539.4 227.5,539.5 230.0,539.5 232.5,539.6 235.0,539.6 237.5,539.7 240.0,539.7 242.5,539.8 245.0,539.8 247.5,539.8 250.0,539.8 252.5,539.8 255.0,539.8 257.5,539.8 260.0,539.7 262.5,539.7 265.0,539.6 267.5,539.6 270.0,539.6 272.5,539.5 275.0,539.5 277.5,539.5 280.0,539.5 282.5,539.5 285.0,539.4 287.5,539.4 290.0,539.4 292.5,539.5 295.0,539.5 297.5,539.5 300.0,539.6 302.5,539.6 305.0,539.7 307.5,539.7 310.0,539.8 312.5,539.8 315.0,539.9 317.5,540.0 320.0,540.1 322.5,540.2 325.0,540.3 327.5,540.4 330.0,540.4 332.5,540.5 335.0,540.6 337.5,540.7 340.0,540.7 342.5,540.8 345.0,540.8 347.5,540.9 350.0,540.9 352.5,541.0 355.0,541.0 357.5,541.0 360.0,541.1 362.5,541.1 365.0,541.2 367.5,541.2 370.0,541.3 372.5,541.4 375.0,541.5 377.5,541.6 380.0,541.8 382.5,541.9 385.0,542.1 387.5,542.3 390.0,542.5 392.5,542.6 395.0,542.7 397.5,542.8 400.0,542.9 402.5,542.8 405.0,542.8 407.5,542.8 410.0,542.7 412.5,542.7 415.0,542.7 417.5,542.6 420.0,542.6 422.5,542.5 425.0,542.5 427.5,542.4 430.0,542.4 432.5,542.3 435.0,542.3 437.5,542.3 440.0,542.3 442.5,542.4 445.0,542.6 447.5,542.7 450.0,542.8 452.5,543.0 455.0,543.1 457.5,543.2 460.0,543.3 462.5,543.2 465.0,543.1 467.5,543.0 470.0,542.8 472.5,542.5 475.0,542.3 477.5,542.1 480.0,542.0 482.5,541.9 485.0,541.7 487.5,541.7 490.0,541.6 492.5,541.5 494.7,541.5" fill="none" stroke="#ff0000" stroke-width="2.08" stroke-linejoin="round" stroke-linecap="square"/>
<polyline points="120.0,547.6 122.5,547.6 125.0,547.5 127.5,547.5 130.0,547.4 132.5,547.3 135.0,547.1 137.5,547.0 140.0,546.8 142.5,546.7 145.0,546.5 147.5,546.3 150.0,545.9 152.5,545.4 155.0,544.8 157.5,544.2 160.0,543.6 162.5,543.1 165.0,542.7 167.5,542.4 170.0,542.2 172.5,542.0 175.0,541.8 177.5,541.6 180.0,541.4 182.5,541.2 185.0,541.1 187.5,540.9 190.0,540.7 192.5,540.6 195.0,540.5 197.5,540.4 200.0,540.3 202.5,540.2 205.0,540.1 207.5,540.0 210.0,540.0 212.5,539.9 215.0,539.9 217.5,539.9 220.0,539.9 222.5,539.9 225.0,539.9 227.5,540.0 230.0,540.0 232.5,540.1 235.0,540.2 237.5,540.2 240.0,540.3 242.5,540.3 245.0,540.4 247.5,540.4 250.0,540.4 252.5,540.4 255.0,540.3 257.5,540.3 260.0,540.3 262.5,540.3 265.0,540.2 267.5,540.2 270.0,540.2 272.5,540.2 275.0,540.2 277.5,540.1 280.0,540.1 282.5,540.1 285.0,540.1 287.5,540.1 290.0,540.1 292.5,540.1 295.0,540.1 297.5,540.2 300.0,540.2 302.5,540.2 305.0,540.3 307.5,540.3 310.0,540.3 312.5,540.4 315.0,540.5 317.5,540.6 320.0,540.7 322.5,540.8 325.0,540.9 327.5,541.0 330.0,541.1 332.5,541.2 335.0,541.3 337.5,541.4 340.0,541.5 342.5,541.6 345.0,541.6 347.5,541.7 350.0,541.8 352.5,541.8 355.0,541.9 357.5,542.0 360.0,542.0 362.5,542.1 365.0,542.2 367.5,542.2 370.0,542.3 372.5,542.4 375.0,542.5 377.5,542.6 380.0,542.7 382.5,542.9 385.0,543.0 387.5,543.2 390.0,543.3 392.5,543.4 395.0,543.5 397.5,543.5 400.0,543.6 402.5,543.5 405.0,543.5 407.5,543.5 410.0,543.4 412.5,543.4 415.0,543.3 417.5,543.3 420.0,543.2 422.5,543.1 425.0,543.1 427.5,543.0 430.0,542.9 432.5,542.9 435.0,542.8 437.5,542.9 440.0,543.0 442.5,543.3 445.0,543.6 447.5,544.1 450.0,544.5 452.5,545.0 455.0,545.4 457.5,545.7 460.0,545.9 462.5,546.0 465.0,546.1 467.5,546.1 470.0,546.2 472.5,546.2 475.0,546.3 477.5,546.3 480.0,546.3 482.5,546.4 485.0,546.4 487.5,546.5 490.0,546.5 492.5,546.5 494.7,546.5" fill="none" stroke="#ff0000" stroke-width="2.08" stroke-linejoin="round" stroke-linecap="square"/>
<polyline points="120.0,547.8 122.5,547.8 125.0,547.7 127.5,547.7 130.0,547.6 132.5,547.5 135.0,547.3 137.5,547.2 140.0,547.1 142.5,546.9 145.0,546.7 147.5,546.5 150.0,546.2 152.5,545.8 155.0,545.3 157.5,544.8 160.0,544.3 162.5,543.9 165.0,543.5 167.5,543.2 170.0,543.0 172.5,542.8 175.0,542.6 177.5,542.3 180.0,542.2 182.5,542.0 185.0,541.8 187.5,541.6 190.0,541.4 192.5,541.3 195.0,541.1 197.5,541.0 200.0,540.9 202.5,540.8 205.0,540.7 207.5,540.6 210.0,540.5 212.5,540.5 215.0,540.4 217.5,540.4 220.0,540.4 222.5,540.5 225.0,540.5 227.5,540.5 230.0,540.6 232.5,540.6 235.0,540.7 237.5,540.8 240.0,540.8 242.5,540.9 245.0,540.9 247.5,540.9 250.0,540.9 252.5,540.9 255.0,540.9 257.5,540.9 260.0,540.9 262.5,540.9 265.0,540.8 267.5,540.8 270.0,540.8 272.5,540.8 275.0,540.8 277.5,540.8 280.0,540.8 282.5,540.8 285.0,540.8 287.5,540.8 290.0,540.8 292.5,540.8 295.0,540.8 297.5,540.8 300.0,540.8 302.5,540.8 305.0,540.9 307.5,540.9 310.0,540.9 312.5,541.0 315.0,541.0 317.5,541.1 320.0,541.2 322.5,541.4 325.0,541.5 327.5,541.6 330.0,541.7 332.5,541.9 335.0,542.0 337.5,542.1 340.0,542.2 342.5,542.3 345.0,542.4 347.5,542.5 350.0,542.6 352.5,542.7 355.0,542.8 357.5,542.9 360.0,543.0 362.5,543.1 365.0,543.2 367.5,543.3 370.0,543.4 372.5,543.4 375.0,543.5 377.5,543.6 380.0,543.7 382.5,543.8 385.0,543.9 387.5,544.0 390.0,544.1 392.5,544.2 395.0,544.2 397.5,544.2 400.0,544.3 402.5,544.2 405.0,544.2 407.5,544.2 410.0,544.1 412.5,544.0 415.0,544.0 417.5,543.9 420.0,543.8 422.5,543.8 425.0,543.7 427.5,543.6 430.0,543.5 432.5,543.4 435.0,543.4 437.5,543.4 440.0,543.6 442.5,543.8 445.0,544.2 447.5,544.7 450.0,545.1 452.5,545.5 455.0,545.9 457.5,546.2 460.0,546.4 462.5,546.5 465.0,546.5 467.5,546.5 470.0,546.6 472.5,546.6 475.0,546.6 477.5,546.6 480.0,546.6 482.5,546.7 485.0,546.7 487.5,546.7 490.0,546.7 492.5,546.7 494.7,546.8" fill="none" stroke="#ff0000" stroke-width="2.08" stroke-linejoin="round" stroke-linecap="square"/>
<polyline points="120.0,548.0 122.5,547.9 125.0,547.9 127.5,547.8 130.0,547.8 132.5,547.7 135.0,547.5 137.5,547.4 140.0,547.3 142.5,547.1 145.0,547.0 147.5,546.8 150.0,546.5 152.5,546.1 155.0,545.8 157.5,545.4 160.0,545.0 162.5,544.6 165.0,544.3 167.5,544.0 170.0,543.8 172.5,543.6 175.0,543.4 177.5,543.1 180.0,542.9 182.5,542.7 185.0,542.5 187.5,542.3 190.0,542.1 192.5,542.0 195.0,541.8 197.5,541.6 200.0,541.5 202.5,541.4 205.0,541.2 207.5,541.2 210.0,541.1 212.5,541.0 215.0,541.0 217.5,541.0 220.0,541.0 222.5,541.0 225.0,541.0 227.5,541.1 230.0,541.1 232.5,541.2 235.0,541.2 237.5,541.3 240.0,541.4 242.5,541.4 245.0,541.4 247.5,541.5 250.0,541.5 252.5,541.5 255.0,541.5 257.5,541.5 260.0,541.5 262.5,541.5 265.0,541.5 267.5,541.5 270.0,541.5 272.5,541.5 275.0,541.5 277.5,541.5 280.0,541.5 282.5,541.5 285.0,541.5 287.5,541.5 290.0,541.5 292.5,541.5 295.0,541.5 297.5,541.5 300.0,541.5 302.5,541.5 305.0,541.5 307.5,541.5 310.0,541.5 312.5,541.5 315.0,541.6 317.5,541.7 320.0,541.8 322.5,542.0 325.0,542.1 327.5,542.2 330.0,542.4 332.5,542.6 335.0,542.7 337.5,542.8 340.0,543.0 342.5,543.1 345.0,543.2 347.5,543.3 350.0,543.5 352.5,543.6 355.0,543.7 357.5,543.9 360.0,544.0 362.5,544.1 365.0,544.2 367.5,544.3 370.0,544.4 372.5,544.5 375.0,544.5 377.5,544.6 380.0,544.7 382.5,544.7 385.0,544.8 387.5,544.8 390.0,544.9 392.5,544.9 395.0,544.9 397.5,545.0 400.0,545.0 402.5,544.9 405.0,544.9 407.5,544.9 410.0,544.8 412.5,544.7 415.0,544.6 417.5,544.5 420.0,544.5 422.5,544.4 425.0,544.3 427.5,544.2 430.0,544.1 432.5,544.0 435.0,544.0 437.5,544.0 440.0,544.1 442.5,544.4 445.0,544.8 447.5,545.2 450.0,545.7 452.5,546.1 455.0,546.5 457.5,546.8 460.0,546.9 462.5,547.0 465.0,547.0 467.5,547.0 470.0,547.0 472.5,547.0 475.0,547.0 477.5,547.0 480.0,547.0 482.5,547.0 485.0,547.0 487.5,547.0 490.0,547.0 492.5,547.0 494.7,547.0" fill="none" stroke="#ff0000" stroke-width="2.08" stroke-linejoin="round" stroke-linecap="square"/>
<polyline points="120.0,555.6 122.5,555.2 125.0,554.9 127.5,554.5 130.0,554.2 132.5,553.8 135.0,553.5 137.5,553.1 140.0,552.8 142.5,552.5 145.0,552.1 147.5,551.8 150.0,551.5 152.5,551.2 155.0,550.9 157.5,550.6 160.0,550.4 162.5,550.1 165.0,549.8 167.5,549.5 170.0,549.2 172.5,548.8 175.0,548.5 177.5,548.3 180.0,548.0 182.5,547.7 185.0,547.4 187.5,547.1 190.0,546.9 192.5,546.6 195.0,546.4 197.5,546.1 200.0,545.9 202.5,545.7 205.0,545.5 207.5,545.3 210.0,545.1 212.5,545.0 215.0,544.8 217.5,544.8 220.0,544.8 222.5,544.8 225.0,544.9 227.5,545.0 230.0,545.1 232.5,545.2 235.0,545.3 237.5,545.3 240.0,545.4 242.5,545.5 245.0,545.6 247.5,545.6 250.0,545.6 252.5,545.6 255.0,545.6 257.5,545.5 260.0,545.5 262.5,545.4 265.0,545.4 267.5,545.3 270.0,545.2 272.5,545.1 275.0,545.1 277.5,545.0 280.0,544.9 282.5,544.8 285.0,544.7 287.5,544.6 290.0,544.6 292.5,544.5 295.0,544.4 297.5,544.4 300.0,544.4 302.5,544.3 305.0,544.3 307.5,544.3 310.0,544.3 312.5,544.4 315.0,544.4 317.5,544.5 320.0,544.6 322.5,544.7 325.0,544.8 327.5,544.9 330.0,545.0 332.5,545.1 335.0,545.2 337.5,545.3 340.0,545.4 342.5,545.5 345.0,545.6 347.5,545.7 350.0,545.8 352.5,545.9 355.0,546.0 357.5,546.1 360.0,546.1 362.5,546.2 365.0,546.3 367.5,546.4 370.0,546.5 372.5,546.6 375.0,546.7 377.5,546.8 380.0,546.9 382.5,547.0 385.0,547.1 387.5,547.1 390.0,547.2 392.5,547.3 395.0,547.4 397.5,547.5 400.0,547.6 402.5,547.7 405.0,547.8 407.5,547.9 410.0,548.0 412.5,548.1 415.0,548.3 417.5,548.4 420.0,548.5 422.5,548.6 425.0,548.7 427.5,548.9 430.0,549.0 432.5,549.2 435.0,549.3 437.5,549.5 440.0,549.7 442.5,549.9 445.0,550.1 447.5,550.4 450.0,550.6 452.5,550.8 455.0,551.1 457.5,551.3 460.0,551.5 462.5,551.7 465.0,552.0 467.5,552.2 470.0,552.5 472.5,552.9 475.0,553.3 477.5,553.7 480.0,554.1 482.5,554.4 485.0,554.8 487.5,555.1 490.0,555.4 492.5,555.7 494.7,556.0" fill="none" stroke="#ff0000" stroke-width="2.08" stroke-linejoin="round" stroke-linecap="square"/>
<polyline points="120.0,555.6 122.5,555.1 125.0,554.6 127.5,554.1 130.0,553.6 132.5,553.1 135.0,552.6 137.5,552.0 140.0,551.4 142.5,550.9 145.0,550.4 147.5,549.9 150.0,549.4 152.5,548.9 155.0,548.4 157.5,547.9 160.0,547.5 162.5,547.1 165.0,546.7 167.5,546.3 170.0,545.9 172.5,545.5 175.0,545.2 177.5,544.8 180.0,544.6 182.5,544.4 185.0,544.2 187.5,544.1 190.0,544.0 192.5,543.9 195.0,543.8 197.5,543.7 200.0,543.6 202.5,543.5 205.0,543.5 207.5,543.4 210.0,543.4 212.5,543.3 215.0,543.3 217.5,543.3 220.0,543.3 222.5,543.4 225.0,543.4 227.5,543.5 230.0,543.6 232.5,543.7 235.0,543.8 237.5,543.9 240.0,544.0 242.5,544.1 245.0,544.2 247.5,544.2 250.0,544.2 252.5,544.2 255.0,544.2 257.5,544.1 260.0,544.1 262.5,544.0 265.0,544.0 267.5,543.9 270.0,543.8 272.5,543.8 275.0,543.7 277.5,543.6 280.0,543.5 282.5,543.5 285.0,543.4 287.5,543.3 290.0,543.3 292.5,543.2 295.0,543.1 297.5,543.1 300.0,543.1 302.5,543.0 305.0,543.0 307.5,543.0 310.0,543.0 312.5,543.0 315.0,543.1 317.5,543.1 320.0,543.2 322.5,543.3 325.0,543.3 327.5,543.4 330.0,543.5 332.5,543.6 335.0,543.7 337.5,543.7 340.0,543.8 342.5,543.9 345.0,543.9 347.5,544.0 350.0,544.1 352.5,544.2 355.0,544.2 357.5,544.3 360.0,544.4 362.5,544.5 365.0,544.6 367.5,544.7 370.0,544.7 372.5,544.8 375.0,544.9 377.5,545.0 380.0,545.1 382.5,545.2 385.0,545.3 387.5,545.3 390.0,545.4 392.5,545.5 395.0,545.6 397.5,545.7 400.0,545.8 402.5,545.9 405.0,546.0 407.5,546.1 410.0,546.2 412.5,546.3 415.0,546.4 417.5,546.5 420.0,546.6 422.5,546.7 425.0,546.9 427.5,547.0 430.0,547.1 432.5,547.3 435.0,547.5 437.5,547.7 440.0,547.9 442.5,548.2 445.0,548.5 447.5,548.8 450.0,549.1 452.5,549.4 455.0,549.6 457.5,549.9 460.0,550.2 462.5,550.5 465.0,550.8 467.5,551.1 470.0,551.5 472.5,551.9 475.0,552.3 477.5,552.8 480.0,553.3 482.5,553.7 485.0,554.2 487.5,554.7 490.0,555.1 492.5,555.6 494.7,556.0" fill="none" stroke="#ff0000" stroke-width="2.08" stroke-linejoin="round" stroke-linecap="square"/>
<polyline points="120.0,555.6 122.5,554.8 125.0,554.0 127.5,553.2 130.0,552.5 132.5,551.7 135.0,550.8 137.5,550.0 140.0,549.2 142.5,548.4 145.0,547.7 147.5,547.1 150.0,546.4 152.5,545.8 155.0,545.2 157.5,544.6 160.0,544.1 162.5,543.6 165.0,543.2 167.5,542.7 170.0,542.3 172.5,542.0 175.0,541.6 177.5,541.3 180.0,541.0 182.5,540.7 185.0,540.5 187.5,540.3 190.0,540.1 192.5,539.9 195.0,539.6 197.5,539.4 200.0,539.3 202.5,539.1 205.0,538.9 207.5,538.8 210.0,538.7 212.5,538.6 215.0,538.5 217.5,538.5 220.0,538.5 222.5,538.6 225.0,538.6 227.5,538.7 230.0,538.8 232.5,538.9 235.0,539.1 237.5,539.2 240.0,539.3 242.5,539.4 245.0,539.5 247.5,539.5 250.0,539.5 252.5,539.5 255.0,539.5 257.5,539.5 260.0,539.5 262.5,539.4 265.0,539.4 267.5,539.4 270.0,539.4 272.5,539.3 275.0,539.3 277.5,539.3 280.0,539.2 282.5,539.2 285.0,539.2 287.5,539.1 290.0,539.1 292.5,539.1 295.0,539.1 297.5,539.0 300.0,539.0 302.5,539.0 305.0,539.0 307.5,539.0 310.0,539.0 312.5,539.0 315.0,539.0 317.5,539.1 320.0,539.1 322.5,539.2 325.0,539.2 327.5,539.3 330.0,539.4 332.5,539.4 335.0,539.5 337.5,539.6 340.0,539.7 342.5,539.8 345.0,539.9 347.5,540.0 350.0,540.1 352.5,540.2 355.0,540.3 357.5,540.4 360.0,540.5 362.5,540.6 365.0,540.7 367.5,540.8 370.0,540.9 372.5,541.0 375.0,541.1 377.5,541.2 380.0,541.4 382.5,541.5 385.0,541.6 387.5,541.8 390.0,541.9 392.5,542.1 395.0,542.2 397.5,542.4 400.0,542.5 402.5,542.7 405.0,542.8 407.5,543.0 410.0,543.2 412.5,543.3 415.0,543.5 417.5,543.7 420.0,543.9 422.5,544.0 425.0,544.2 427.5,544.4 430.0,544.5 432.5,544.6 435.0,544.7 437.5,544.8 440.0,544.9 442.5,545.0 445.0,545.0 447.5,545.1 450.0,545.2 452.5,545.3 455.0,545.5 457.5,545.9 460.0,546.3 462.5,546.7 465.0,547.2 467.5,547.7 470.0,548.3 472.5,548.9 475.0,549.6 477.5,550.4 480.0,551.2 482.5,552.0 485.0,552.8 487.5,553.6 490.0,554.4 492.5,555.3 494.7,556.0" fill="none" stroke="#ff0000" stroke-width="2.08" stroke-linejoin="round" stroke-linecap="square"/>
</g>
<g clip-path="url(#c2)">
<line x1="511.1" y1="555.4" x2="707.0" y2="555.4" stroke="#0000ff" stroke-width="1.5" stroke-dasharray="1.38 1.38"/>
<polyline points="511.1,176.5 513.6,176.6 516.1,176.7 518.6,176.7 521.1,176.8 523.6,176.9 526.1,176.9 528.6,177.0 531.1,177.1 533.6,177.1 536.1,177.2 538.6,177.3 541.1,177.3 543.6,177.3 546.1,177.4 548.6,177.4 551.1,177.5 553.6,177.5 556.1,177.5 558.6,177.5 561.1,177.5 563.6,177.5 566.1,177.5 568.6,177.5 571.1,177.5 573.6,177.5 576.1,177.5 578.6,177.5 581.1,177.5 583.6,177.5 586.1,177.5 588.6,177.5 591.1,177.5 593.6,177.5 596.1,177.5 598.6,177.5 601.1,177.5 603.6,177.5 606.1,177.5 608.6,177.5 611.1,177.5 613.6,177.5 616.1,177.5 618.6,177.4 621.1,177.4 623.6,177.3 626.0,177.3" fill="none" stroke="#ff0000" stroke-width="2.08" stroke-linejoin="round" stroke-linecap="square"/>
<polyline points="511.1,177.0 513.6,177.1 516.1,177.2 518.6,177.2 521.1,177.3 523.6,177.4 526.1,177.5 528.6,177.6 531.1,177.6 533.6,177.7 536.1,177.8 538.6,177.8 541.1,177.9 543.6,177.9 546.1,178.0 548.6,178.0 551.1,178.1 553.6,178.1 556.1,178.2 558.6,178.2 561.1,178.2 563.6,178.2 566.1,178.3 568.6,178.3 571.1,178.3 573.6,178.3 576.1,178.3 578.6,178.4 581.1,178.4 583.6,178.4 586.1,178.4 588.6,178.4 591.1,178.4 593.6,178.5 596.1,178.5 598.6,178.5 601.1,178.5 603.6,178.5 606.1,178.5 608.6,178.5 611.1,178.5 613.6,178.5 616.1,178.4 618.6,178.3 621.1,178.1 623.6,178.0 626.0,177.8" fill="none" stroke="#ff0000" stroke-width="2.08" stroke-linejoin="round" stroke-linecap="square"/>
<polyline points="511.1,180.0 513.6,180.0 516.1,180.0 518.6,180.1 521.1,180.1 523.6,180.1 526.1,180.1 528.6,180.2 531.1,180.2 533.6,180.2 536.1,180.2 538.6,180.3 541.1,180.3 543.6,180.3 546.1,180.3 548.6,180.4 551.1,180.4 553.6,180.4 556.1,180.5 558.6,180.5 561.1,180.5 563.6,180.5 566.1,180.6 568.6,180.6 571.1,180.7 573.6,180.7 576.1,180.7 578.6,180.8 581.1,180.8 583.6,180.9 586.1,180.9 588.6,181.0 591.1,181.0 593.6,181.0 596.1,181.1 598.6,181.1 601.1,181.1 603.6,181.2 606.1,181.2 608.6,181.2 611.1,181.2 613.6,181.2 616.1,181.2 618.6,181.1 621.1,181.1 623.6,181.0 626.0,181.0" fill="none" stroke="#ff0000" stroke-width="2.08" stroke-linejoin="round" stroke-linecap="square"/>
<polyline points="511.1,181.0 513.6,181.0 516.1,181.0 518.6,181.1 521.1,181.1 523.6,181.1 526.1,181.1 528.6,181.1 531.1,181.2 533.6,181.2 536.1,181.2 538.6,181.2 541.1,181.3 543.6,181.3 546.1,181.3 548.6,181.4 551.1,181.4 553.6,181.4 556.1,181.4 558.6,181.5 561.1,181.5 563.6,181.6 566.1,181.6 568.6,181.7 571.1,181.7 573.6,181.8 576.1,181.8 578.6,181.9 581.1,182.0 583.6,182.0 586.1,182.1 588.6,182.2 591.1,182.2 593.6,182.3 596.1,182.3 598.6,182.4 601.1,182.4 603.6,182.4 606.1,182.5 608.6,182.5 611.1,182.5 613.6,182.5 616.1,182.5 618.6,182.5 621.1,182.5 623.6,182.5 626.0,182.5" fill="none" stroke="#ff0000" stroke-width="2.08" stroke-linejoin="round" stroke-linecap="square"/>
<polyline points="511.1,182.0 513.6,182.1 516.1,182.1 518.6,182.2 521.1,182.2 523.6,182.3 526.1,182.3 528.6,182.4 531.1,182.4 533.6,182.5 536.1,182.5 538.6,182.6 541.1,182.6 543.6,182.7 546.1,182.7 548.6,182.8 551.1,182.8 553.6,182.9 556.1,182.9 558.6,183.0 561.1,183.0 563.6,183.1 566.1,183.1 568.6,183.2 571.1,183.2 573.6,183.3 576.1,183.3 578.6,183.4 581.1,183.4 583.6,183.5 586.1,183.5 588.6,183.5 591.1,183.6 593.6,183.6 596.1,183.7 598.6,183.7 601.1,183.8 603.6,183.8 606.1,183.9 608.6,183.9 611.1,184.0 613.6,184.0 616.1,184.1 618.6,184.1 621.1,184.2 623.6,184.2 626.0,184.3" fill="none" stroke="#ff0000" stroke-width="2.08" stroke-linejoin="round" stroke-linecap="square"/>
<polyline points="511.1,182.5 513.6,182.6 516.1,182.7 518.6,182.8 521.1,182.9 523.6,183.0 526.1,183.0 528.6,183.1 531.1,183.2 533.6,183.3 536.1,183.4 538.6,183.5 541.1,183.5 543.6,183.6 546.1,183.7 548.6,183.7 551.1,183.8 553.6,183.9 556.1,183.9 558.6,184.0 561.1,184.0 563.6,184.1 566.1,184.1 568.6,184.2 571.1,184.2 573.6,184.2 576.1,184.3 578.6,184.3 581.1,184.3 583.6,184.4 586.1,184.4 588.6,184.4 591.1,184.5 593.6,184.5 596.1,184.5 598.6,184.6 601.1,184.6 603.6,184.6 606.1,184.7 608.6,184.7 611.1,184.8 613.6,184.8 616.1,184.9 618.6,185.0 621.1,185.0 623.6,185.1 626.0,185.2" fill="none" stroke="#ff0000" stroke-width="2.08" stroke-linejoin="round" stroke-linecap="square"/>
<polyline points="626.0,176.0 628.5,176.1 631.0,176.1 633.5,176.1 636.0,176.2 638.5,176.2 641.0,176.3 643.5,176.3 646.0,176.4 648.5,176.4 651.0,176.4 653.5,176.5 656.0,176.5 658.5,176.5 661.0,176.6 663.5,176.6 666.0,176.6 668.5,176.6 671.0,176.6 673.5,176.7 676.0,176.7 678.5,176.7 681.0,176.7 683.5,176.7 686.0,176.7 688.5,176.8 691.0,176.8 693.5,176.8 696.0,176.8 698.5,176.8 701.0,176.8 703.5,176.8 706.0,176.8 707.0,176.8" fill="none" stroke="#ff0000" stroke-width="2.08" stroke-linejoin="round" stroke-linecap="square"/>
<polyline points="626.0,176.3 628.5,176.3 631.0,176.4 633.5,176.4 636.0,176.5 638.5,176.5 641.0,176.6 643.5,176.6 646.0,176.7 648.5,176.7 651.0,176.8 653.5,176.8 656.0,176.9 658.5,176.9 661.0,176.9 663.5,177.0 666.0,177.0 668.5,177.1 671.0,177.1 673.5,177.1 676.0,177.2 678.5,177.2 681.0,177.2 683.5,177.3 686.0,177.3 688.5,177.4 691.0,177.4 693.5,177.4 696.0,177.5 698.5,177.5 701.0,177.5 703.5,177.6 706.0,177.6 707.0,177.6" fill="none" stroke="#ff0000" stroke-width="2.08" stroke-linejoin="round" stroke-linecap="square"/>
<polyline points="626.0,180.0 628.5,179.9 631.0,179.8 633.5,179.7 636.0,179.7 638.5,179.6 641.0,179.5 643.5,179.4 646.0,179.4 648.5,179.3 651.0,179.2 653.5,179.2 656.0,179.1 658.5,179.1 661.0,179.0 663.5,179.0 666.0,179.0 668.5,179.0 671.0,179.0 673.5,178.9 676.0,178.9 678.5,178.9 681.0,178.9 683.5,178.9 686.0,178.9 688.5,178.8 691.0,178.8 693.5,178.8 696.0,178.8 698.5,178.8 701.0,178.8 703.5,178.8 706.0,178.8 707.0,178.8" fill="none" stroke="#ff0000" stroke-width="2.08" stroke-linejoin="round" stroke-linecap="square"/>
<polyline points="626.0,180.4 628.5,180.4 631.0,180.3 633.5,180.3 636.0,180.3 638.5,180.3 641.0,180.2 643.5,180.2 646.0,180.2 648.5,180.2 651.0,180.1 653.5,180.1 656.0,180.1 658.5,180.1 661.0,180.0 663.5,180.0 666.0,180.0 668.5,180.0 671.0,179.9 673.5,179.9 676.0,179.9 678.5,179.9 681.0,179.8 683.5,179.8 686.0,179.8 688.5,179.8 691.0,179.7 693.5,179.7 696.0,179.7 698.5,179.7 701.0,179.7 703.5,179.6 706.0,179.6 707.0,179.6" fill="none" stroke="#ff0000" stroke-width="2.08" stroke-linejoin="round" stroke-linecap="square"/>
<polyline points="626.0,184.4 628.5,184.2 631.0,184.1 633.5,183.9 636.0,183.8 638.5,183.6 641.0,183.5 643.5,183.4 646.0,183.2 648.5,183.1 651.0,183.0 653.5,182.8 656.0,182.7 658.5,182.6 661.0,182.5 663.5,182.4 666.0,182.3 668.5,182.2 671.0,182.0 673.5,181.9 676.0,181.8 678.5,181.7 681.0,181.6 683.5,181.6 686.0,181.5 688.5,181.4 691.0,181.3 693.5,181.2 696.0,181.1 698.5,181.0 701.0,181.0 703.5,180.9 706.0,180.8 707.0,180.8" fill="none" stroke="#ff0000" stroke-width="2.08" stroke-linejoin="round" stroke-linecap="square"/>
<polyline points="626.0,185.2 628.5,185.1 631.0,184.9 633.5,184.8 636.0,184.7 638.5,184.6 641.0,184.4 643.5,184.3 646.0,184.2 648.5,184.1 651.0,183.9 653.5,183.8 656.0,183.7 658.5,183.6 661.0,183.5 663.5,183.4 666.0,183.3 668.5,183.1 671.0,183.0 673.5,182.9 676.0,182.8 678.5,182.7 681.0,182.6 683.5,182.5 686.0,182.4 688.5,182.3 691.0,182.2 693.5,182.1 696.0,182.0 698.5,181.9 701.0,181.8 703.5,181.7 706.0,181.6 707.0,181.6" fill="none" stroke="#ff0000" stroke-width="2.08" stroke-linejoin="round" stroke-linecap="square"/>
<polyline points="511.1,358.6 513.6,358.6 516.1,358.6 518.6,358.6 521.1,358.7 523.6,358.7 526.1,358.7 528.6,358.7 531.1,358.7 533.6,358.7 536.1,358.7 538.6,358.7 541.1,358.8 543.6,358.8 546.1,358.8 548.6,358.8 551.1,358.8 553.6,358.8 556.1,358.8 558.6,358.8 561.1,358.9 563.6,358.9 566.1,358.9 568.6,358.9 571.1,358.9 573.6,358.9 576.1,358.9 578.6,359.0 581.1,359.0 583.6,359.0 586.1,359.0 588.6,359.0 591.1,359.0 593.6,359.0 596.1,359.0 598.6,359.1 601.1,359.1 603.6,359.1 606.1,359.1 608.6,359.1 611.1,359.1 613.6,359.1 616.1,359.1 618.6,359.2 621.1,359.2 623.6,359.2 626.0,359.2" fill="none" stroke="#ff0000" stroke-width="2.08" stroke-linejoin="round" stroke-linecap="square"/>
<polyline points="511.1,359.0 513.6,359.0 516.1,359.0 518.6,359.0 521.1,359.1 523.6,359.1 526.1,359.1 528.6,359.1 531.1,359.1 533.6,359.1 536.1,359.2 538.6,359.2 541.1,359.2 543.6,359.2 546.1,359.2 548.6,359.2 551.1,359.2 553.6,359.3 556.1,359.3 558.6,359.3 561.1,359.3 563.6,359.3 566.1,359.3 568.6,359.4 571.1,359.4 573.6,359.4 576.1,359.4 578.6,359.4 581.1,359.4 583.6,359.4 586.1,359.5 588.6,359.5 591.1,359.5 593.6,359.5 596.1,359.5 598.6,359.5 601.1,359.5 603.6,359.6 606.1,359.6 608.6,359.6 611.1,359.6 613.6,359.6 616.1,359.6 618.6,359.7 621.1,359.7 623.6,359.7 626.0,359.7" fill="none" stroke="#ff0000" stroke-width="2.08" stroke-linejoin="round" stroke-linecap="square"/>
<polyline points="511.1,359.6 513.6,359.6 516.1,359.6 518.6,359.6 521.1,359.7 523.6,359.7 526.1,359.7 528.6,359.7 531.1,359.7 533.6,359.7 536.1,359.8 538.6,359.8 541.1,359.8 543.6,359.8 546.1,359.8 548.6,359.8 551.1,359.8 553.6,359.9 556.1,359.9 558.6,359.9 561.1,359.9 563.6,359.9 566.1,359.9 568.6,360.0 571.1,360.0 573.6,360.0 576.1,360.0 578.6,360.0 581.1,360.0 583.6,360.0 586.1,360.1 588.6,360.1 591.1,360.1 593.6,360.1 596.1,360.1 598.6,360.1 601.1,360.1 603.6,360.2 606.1,360.2 608.6,360.2 611.1,360.2 613.6,360.2 616.1,360.2 618.6,360.3 621.1,360.3 623.6,360.3 626.0,360.3" fill="none" stroke="#ff0000" stroke-width="2.08" stroke-linejoin="round" stroke-linecap="square"/>
<polyline points="511.1,360.0 513.6,360.0 516.1,360.0 518.6,360.1 521.1,360.1 523.6,360.1 526.1,360.1 528.6,360.1 531.1,360.1 533.6,360.2 536.1,360.2 538.6,360.2 541.1,360.2 543.6,360.2 546.1,360.2 548.6,360.3 551.1,360.3 553.6,360.3 556.1,360.3 558.6,360.3 561.1,360.3 563.6,360.4 566.1,360.4 568.6,360.4 571.1,360.4 573.6,360.4 576.1,360.5 578.6,360.5 581.1,360.5 583.6,360.5 586.1,360.5 588.6,360.5 591.1,360.6 593.6,360.6 596.1,360.6 598.6,360.6 601.1,360.6 603.6,360.6 606.1,360.7 608.6,360.7 611.1,360.7 613.6,360.7 616.1,360.7 618.6,360.7 621.1,360.8 623.6,360.8 626.0,360.8" fill="none" stroke="#ff0000" stroke-width="2.08" stroke-linejoin="round" stroke-linecap="square"/>
<polyline points="626.0,359.0 628.5,359.0 631.0,359.0 633.5,358.9 636.0,358.9 638.5,358.9 641.0,358.9 643.5,358.8 646.0,358.8 648.5,358.8 651.0,358.8 653.5,358.8 656.0,358.7 658.5,358.7 661.0,358.7 663.5,358.7 666.0,358.7 668.5,358.6 671.0,358.6 673.5,358.6 676.0,358.6 678.5,358.5 681.0,358.5 683.5,358.5 686.0,358.5 688.5,358.5 691.0,358.4 693.5,358.4 696.0,358.4 698.5,358.4 701.0,358.4 703.5,358.3 706.0,358.3 707.0,358.3" fill="none" stroke="#ff0000" stroke-width="2.08" stroke-linejoin="round" stroke-linecap="square"/>
<polyline points="626.0,359.5 628.5,359.5 631.0,359.5 633.5,359.4 636.0,359.4 638.5,359.4 641.0,359.4 643.5,359.3 646.0,359.3 648.5,359.3 651.0,359.3 653.5,359.3 656.0,359.2 658.5,359.2 661.0,359.2 663.5,359.2 666.0,359.2 668.5,359.1 671.0,359.1 673.5,359.1 676.0,359.1 678.5,359.0 681.0,359.0 683.5,359.0 686.0,359.0 688.5,359.0 691.0,358.9 693.5,358.9 696.0,358.9 698.5,358.9 701.0,358.9 703.5,358.8 706.0,358.8 707.0,358.8" fill="none" stroke="#ff0000" stroke-width="2.08" stroke-linejoin="round" stroke-linecap="square"/>
<polyline points="626.0,360.3 628.5,360.3 631.0,360.3 633.5,360.3 636.0,360.2 638.5,360.2 641.0,360.2 643.5,360.2 646.0,360.2 648.5,360.2 651.0,360.1 653.5,360.1 656.0,360.1 658.5,360.1 661.0,360.1 663.5,360.1 666.0,360.1 668.5,360.0 671.0,360.0 673.5,360.0 676.0,360.0 678.5,360.0 681.0,360.0 683.5,359.9 686.0,359.9 688.5,359.9 691.0,359.9 693.5,359.9 696.0,359.9 698.5,359.9 701.0,359.8 703.5,359.8 706.0,359.8 707.0,359.8" fill="none" stroke="#ff0000" stroke-width="2.08" stroke-linejoin="round" stroke-linecap="square"/>
<polyline points="626.0,360.8 628.5,360.8 631.0,360.8 633.5,360.8 636.0,360.7 638.5,360.7 641.0,360.7 643.5,360.7 646.0,360.7 648.5,360.7 651.0,360.6 653.5,360.6 656.0,360.6 658.5,360.6 661.0,360.6 663.5,360.6 666.0,360.6 668.5,360.5 671.0,360.5 673.5,360.5 676.0,360.5 678.5,360.5 681.0,360.5 683.5,360.4 686.0,360.4 688.5,360.4 691.0,360.4 693.5,360.4 696.0,360.4 698.5,360.4 701.0,360.3 703.5,360.3 706.0,360.3 707.0,360.3" fill="none" stroke="#ff0000" stroke-width="2.08" stroke-linejoin="round" stroke-linecap="square"/>
<polyline points="511.1,429.8 513.6,429.7 516.1,429.7 518.6,429.6 521.1,429.5 523.6,429.5 526.1,429.4 528.6,429.3 531.1,429.3 533.6,429.2 536.1,429.1 538.6,429.1 541.1,429.0 543.6,428.9 546.1,428.9 548.6,428.8 551.1,428.7 553.6,428.7 556.1,428.6 558.6,428.5 561.1,428.5 563.6,428.4 566.1,428.3 568.6,428.2 571.1,428.2 573.6,428.1 576.1,428.0 578.6,427.9 581.1,427.8 583.6,427.7 586.1,427.6 588.6,427.6 591.1,427.5 593.6,427.4 596.1,427.3 598.6,427.3 601.1,427.2 603.6,427.1 606.1,427.1 608.6,427.0 611.1,427.0 613.6,427.0 616.1,427.0 618.6,426.9 621.1,426.9 623.6,426.9 626.0,426.9" fill="none" stroke="#ff0000" stroke-width="2.08" stroke-linejoin="round" stroke-linecap="square"/>
<polyline points="511.1,431.0 513.6,430.9 516.1,430.9 518.6,430.8 521.1,430.8 523.6,430.7 526.1,430.7 528.6,430.6 531.1,430.6 533.6,430.5 536.1,430.5 538.6,430.4 541.1,430.4 543.6,430.3 546.1,430.3 548.6,430.2 551.1,430.2 553.6,430.1 556.1,430.1 558.6,430.0 561.1,430.0 563.6,429.9 566.1,429.9 568.6,429.8 571.1,429.7 573.6,429.7 576.1,429.6 578.6,429.6 581.1,429.5 583.6,429.4 586.1,429.4 588.6,429.3 591.1,429.3 593.6,429.2 596.1,429.2 598.6,429.1 601.1,429.1 603.6,429.0 606.1,429.0 608.6,429.0 611.1,429.0 613.6,429.0 616.1,429.0 618.6,429.0 621.1,429.0 623.6,429.0 626.0,429.0" fill="none" stroke="#ff0000" stroke-width="2.08" stroke-linejoin="round" stroke-linecap="square"/>
<polyline points="511.1,432.2 513.6,432.2 516.1,432.2 518.6,432.2 521.1,432.1 523.6,432.1 526.1,432.1 528.6,432.1 531.1,432.1 533.6,432.1 536.1,432.0 538.6,432.0 541.1,432.0 543.6,432.0 546.1,431.9 548.6,431.9 551.1,431.9 553.6,431.9 556.1,431.8 558.6,431.8 561.1,431.8 563.6,431.8 566.1,431.7 568.6,431.7 571.1,431.6 573.6,431.6 576.1,431.5 578.6,431.5 581.1,431.4 583.6,431.4 586.1,431.3 588.6,431.3 591.1,431.2 593.6,431.2 596.1,431.1 598.6,431.1 601.1,431.1 603.6,431.0 606.1,431.0 608.6,431.0 611.1,431.0 613.6,431.0 616.1,431.0 618.6,431.0 621.1,431.0 623.6,431.0 626.0,431.0" fill="none" stroke="#ff0000" stroke-width="2.08" stroke-linejoin="round" stroke-linecap="square"/>
<polyline points="511.1,433.5 513.6,433.5 516.1,433.5 518.6,433.5 521.1,433.5 523.6,433.5 526.1,433.5 528.6,433.5 531.1,433.5 533.6,433.5 536.1,433.5 538.6,433.5 541.1,433.5 543.6,433.5 546.1,433.5 548.6,433.5 551.1,433.5 553.6,433.5 556.1,433.5 558.6,433.5 561.1,433.5 563.6,433.5 566.1,433.5 568.6,433.5 571.1,433.5 573.6,433.4 576.1,433.4 578.6,433.4 581.1,433.4 583.6,433.4 586.1,433.3 588.6,433.3 591.1,433.3 593.6,433.2 596.1,433.2 598.6,433.2 601.1,433.1 603.6,433.1 606.1,433.1 608.6,433.0 611.1,433.0 613.6,433.0 616.1,432.9 618.6,432.9 621.1,432.9 623.6,432.8 626.0,432.8" fill="none" stroke="#ff0000" stroke-width="2.08" stroke-linejoin="round" stroke-linecap="square"/>
<polyline points="511.1,434.7 513.6,434.7 516.1,434.8 518.6,434.8 521.1,434.8 523.6,434.9 526.1,434.9 528.6,434.9 531.1,434.9 533.6,434.9 536.1,434.9 538.6,435.0 541.1,435.0 543.6,435.0 546.1,435.0 548.6,435.0 551.1,435.0 553.6,435.0 556.1,435.0 558.6,435.0 561.1,435.0 563.6,435.0 566.1,435.0 568.6,435.0 571.1,434.9 573.6,434.9 576.1,434.9 578.6,434.8 581.1,434.8 583.6,434.7 586.1,434.7 588.6,434.7 591.1,434.6 593.6,434.6 596.1,434.5 598.6,434.5 601.1,434.4 603.6,434.4 606.1,434.4 608.6,434.3 611.1,434.3 613.6,434.3 616.1,434.3 618.6,434.2 621.1,434.2 623.6,434.2 626.0,434.2" fill="none" stroke="#ff0000" stroke-width="2.08" stroke-linejoin="round" stroke-linecap="square"/>
<polyline points="511.1,439.4 513.6,439.5 516.1,439.5 518.6,439.6 521.1,439.6 523.6,439.7 526.1,439.8 528.6,439.8 531.1,439.9 533.6,440.0 536.1,440.1 538.6,440.1 541.1,440.2 543.6,440.3 546.1,440.4 548.6,440.4 551.1,440.5 553.6,440.6 556.1,440.7 558.6,440.8 561.1,440.8 563.6,440.9 566.1,441.0 568.6,441.1 571.1,441.3 573.6,441.4 576.1,441.5 578.6,441.6 581.1,441.8 583.6,441.9 586.1,442.0 588.6,442.1 591.1,442.3 593.6,442.4 596.1,442.5 598.6,442.6 601.1,442.6 603.6,442.7 606.1,442.7 608.6,442.8 611.1,442.8 613.6,442.8 616.1,442.8 618.6,442.8 621.1,442.8 623.6,442.8 626.0,442.8" fill="none" stroke="#ff0000" stroke-width="2.08" stroke-linejoin="round" stroke-linecap="square"/>
<polyline points="511.1,444.0 513.6,444.0 516.1,444.1 518.6,444.1 521.1,444.1 523.6,444.1 526.1,444.2 528.6,444.2 531.1,444.2 533.6,444.3 536.1,444.3 538.6,444.3 541.1,444.3 543.6,444.4 546.1,444.4 548.6,444.4 551.1,444.4 553.6,444.4 556.1,444.5 558.6,444.5 561.1,444.5 563.6,444.5 566.1,444.5 568.6,444.6 571.1,444.6 573.6,444.6 576.1,444.6 578.6,444.6 581.1,444.7 583.6,444.7 586.1,444.7 588.6,444.7 591.1,444.7 593.6,444.7 596.1,444.8 598.6,444.8 601.1,444.8 603.6,444.8 606.1,444.8 608.6,444.8 611.1,444.8 613.6,444.8 616.1,444.8 618.6,444.8 621.1,444.8 623.6,444.8 626.0,444.8" fill="none" stroke="#ff0000" stroke-width="2.08" stroke-linejoin="round" stroke-linecap="square"/>
<polyline points="511.1,446.0 513.6,446.0 516.1,446.1 518.6,446.1 521.1,446.1 523.6,446.2 526.1,446.2 528.6,446.2 531.1,446.3 533.6,446.3 536.1,446.3 538.6,446.3 541.1,446.4 543.6,446.4 546.1,446.4 548.6,446.4 551.1,446.5 553.6,446.5 556.1,446.5 558.6,446.5 561.1,446.5 563.6,446.5 566.1,446.5 568.6,446.5 571.1,446.5 573.6,446.5 576.1,446.5 578.6,446.6 581.1,446.6 583.6,446.6 586.1,446.6 588.6,446.6 591.1,446.6 593.6,446.6 596.1,446.6 598.6,446.6 601.1,446.6 603.6,446.6 606.1,446.6 608.6,446.6 611.1,446.6 613.6,446.6 616.1,446.6 618.6,446.6 621.1,446.6 623.6,446.6 626.0,446.6" fill="none" stroke="#ff0000" stroke-width="2.08" stroke-linejoin="round" stroke-linecap="square"/>
<polyline points="511.1,450.5 513.6,450.5 516.1,450.4 518.6,450.4 521.1,450.3 523.6,450.3 526.1,450.3 528.6,450.2 531.1,450.2 533.6,450.2 536.1,450.2 538.6,450.1 541.1,450.1 543.6,450.1 546.1,450.1 548.6,450.0 551.1,450.0 553.6,450.0 556.1,450.0 558.6,450.0 561.1,450.0 563.6,450.0 566.1,450.0 568.6,450.0 571.1,450.0 573.6,450.0 576.1,450.0 578.6,450.0 581.1,450.0 583.6,450.0 586.1,450.0 588.6,450.0 591.1,450.0 593.6,450.0 596.1,450.0 598.6,450.0 601.1,450.0 603.6,450.0 606.1,450.0 608.6,450.0 611.1,450.0 613.6,450.0 616.1,449.8 618.6,449.5 621.1,449.1 623.6,448.7 626.0,448.3" fill="none" stroke="#ff0000" stroke-width="2.08" stroke-linejoin="round" stroke-linecap="square"/>
<polyline points="511.1,452.2 513.6,452.2 516.1,452.2 518.6,452.1 521.1,452.1 523.6,452.1 526.1,452.1 528.6,452.1 531.1,452.1 533.6,452.1 536.1,452.0 538.6,452.0 541.1,452.0 543.6,452.0 546.1,452.0 548.6,452.0 551.1,452.0 553.6,452.0 556.1,452.0 558.6,452.0 561.1,452.0 563.6,452.0 566.1,452.0 568.6,452.0 571.1,452.0 573.6,452.0 576.1,452.0 578.6,452.1 581.1,452.1 583.6,452.1 586.1,452.1 588.6,452.1 591.1,452.1 593.6,452.1 596.1,452.2 598.6,452.2 601.1,452.2 603.6,452.2 606.1,452.2 608.6,452.2 611.1,452.2 613.6,452.2 616.1,452.2 618.6,452.2 621.1,452.2 623.6,452.2 626.0,452.2" fill="none" stroke="#ff0000" stroke-width="2.08" stroke-linejoin="round" stroke-linecap="square"/>
<polyline points="511.1,453.6 513.6,453.6 516.1,453.6 518.6,453.6 521.1,453.6 523.6,453.6 526.1,453.6 528.6,453.6 531.1,453.6 533.6,453.6 536.1,453.6 538.6,453.6 541.1,453.6 543.6,453.6 546.1,453.6 548.6,453.6 551.1,453.6 553.6,453.6 556.1,453.6 558.6,453.6 561.1,453.6 563.6,453.6 566.1,453.6 568.6,453.6 571.1,453.6 573.6,453.6 576.1,453.6 578.6,453.6 581.1,453.6 583.6,453.6 586.1,453.6 588.6,453.6 591.1,453.6 593.6,453.6 596.1,453.6 598.6,453.6 601.1,453.6 603.6,453.6 606.1,453.6 608.6,453.6 611.1,453.6 613.6,453.6 616.1,453.6 618.6,453.6 621.1,453.6 623.6,453.6 626.0,453.6" fill="none" stroke="#ff0000" stroke-width="2.08" stroke-linejoin="round" stroke-linecap="square"/>
<polyline points="511.1,454.7 513.6,454.7 516.1,454.7 518.6,454.8 521.1,454.8 523.6,454.8 526.1,454.8 528.6,454.8 531.1,454.8 533.6,454.8 536.1,454.8 538.6,454.9 541.1,454.9 543.6,454.9 546.1,454.9 548.6,454.9 551.1,454.9 553.6,454.9 556.1,454.9 558.6,454.9 561.1,454.9 563.6,454.9 566.1,454.9 568.6,454.9 571.1,454.9 573.6,454.9 576.1,454.9 578.6,454.9 581.1,454.9 583.6,454.9 586.1,454.8 588.6,454.8 591.1,454.8 593.6,454.8 596.1,454.8 598.6,454.8 601.1,454.8 603.6,454.8 606.1,454.8 608.6,454.8 611.1,454.8 613.6,454.8 616.1,454.8 618.6,454.8 621.1,454.8 623.6,454.8 626.0,454.8" fill="none" stroke="#ff0000" stroke-width="2.08" stroke-linejoin="round" stroke-linecap="square"/>
<polyline points="511.1,460.4 513.6,460.4 516.1,460.3 518.6,460.3 521.1,460.3 523.6,460.2 526.1,460.2 528.6,460.2 531.1,460.2 533.6,460.1 536.1,460.1 538.6,460.1 541.1,460.0 543.6,460.0 546.1,460.0 548.6,459.9 551.1,459.9 553.6,459.9 556.1,459.8 558.6,459.8 561.1,459.8 563.6,459.8 566.1,459.7 568.6,459.7 571.1,459.6 573.6,459.6 576.1,459.6 578.6,459.5 581.1,459.5 583.6,459.5 586.1,459.4 588.6,459.4 591.1,459.4 593.6,459.3 596.1,459.3 598.6,459.3 601.1,459.2 603.6,459.2 606.1,459.2 608.6,459.2 611.1,459.2 613.6,459.2 616.1,459.3 618.6,459.3 621.1,459.4 623.6,459.5 626.0,459.6" fill="none" stroke="#ff0000" stroke-width="2.08" stroke-linejoin="round" stroke-linecap="square"/>
<polyline points="511.1,461.2 513.6,461.2 516.1,461.1 518.6,461.1 521.1,461.1 523.6,461.0 526.1,461.0 528.6,461.0 531.1,461.0 533.6,460.9 536.1,460.9 538.6,460.9 541.1,460.8 543.6,460.8 546.1,460.8 548.6,460.7 551.1,460.7 553.6,460.7 556.1,460.6 558.6,460.6 561.1,460.6 563.6,460.6 566.1,460.5 568.6,460.5 571.1,460.4 573.6,460.4 576.1,460.4 578.6,460.3 581.1,460.3 583.6,460.3 586.1,460.2 588.6,460.2 591.1,460.2 593.6,460.1 596.1,460.1 598.6,460.1 601.1,460.0 603.6,460.0 606.1,460.0 608.6,460.0 611.1,460.0 613.6,460.0 616.1,460.0 618.6,460.1 621.1,460.2 623.6,460.2 626.0,460.3" fill="none" stroke="#ff0000" stroke-width="2.08" stroke-linejoin="round" stroke-linecap="square"/>
<polyline points="626.0,428.3 628.5,428.3 631.0,428.3 633.5,428.3 636.0,428.3 638.5,428.4 641.0,428.4 643.5,428.4 646.0,428.4 648.5,428.4 651.0,428.5 653.5,428.5 656.0,428.5 658.5,428.5 661.0,428.6 663.5,428.6 666.0,428.6 668.5,428.6 671.0,428.7 673.5,428.7 676.0,428.7 678.5,428.8 681.0,428.8 683.5,428.9 686.0,428.9 688.5,429.0 691.0,429.0 693.5,429.1 696.0,429.1 698.5,429.2 701.0,429.3 703.5,429.3 706.0,429.4 707.0,429.4" fill="none" stroke="#ff0000" stroke-width="2.08" stroke-linejoin="round" stroke-linecap="square"/>
<polyline points="626.0,430.0 628.5,430.0 631.0,430.0 633.5,430.0 636.0,430.0 638.5,430.0 641.0,430.0 643.5,430.0 646.0,430.0 648.5,430.0 651.0,430.0 653.5,430.0 656.0,430.0 658.5,430.0 661.0,430.0 663.5,430.0 666.0,430.0 668.5,430.0 671.0,430.0 673.5,430.0 676.0,430.1 678.5,430.1 681.0,430.2 683.5,430.2 686.0,430.2 688.5,430.3 691.0,430.4 693.5,430.4 696.0,430.5 698.5,430.6 701.0,430.6 703.5,430.7 706.0,430.8 707.0,430.8" fill="none" stroke="#ff0000" stroke-width="2.08" stroke-linejoin="round" stroke-linecap="square"/>
<polyline points="626.0,431.5 628.5,431.5 631.0,431.5 633.5,431.5 636.0,431.5 638.5,431.5 641.0,431.5 643.5,431.5 646.0,431.5 648.5,431.5 651.0,431.5 653.5,431.5 656.0,431.5 658.5,431.5 661.0,431.5 663.5,431.5 666.0,431.5 668.5,431.5 671.0,431.5 673.5,431.5 676.0,431.6 678.5,431.6 681.0,431.6 683.5,431.7 686.0,431.7 688.5,431.8 691.0,431.8 693.5,431.9 696.0,431.9 698.5,432.0 701.0,432.0 703.5,432.1 706.0,432.2 707.0,432.2" fill="none" stroke="#ff0000" stroke-width="2.08" stroke-linejoin="round" stroke-linecap="square"/>
<polyline points="626.0,433.0 628.5,433.0 631.0,433.0 633.5,433.1 636.0,433.1 638.5,433.1 641.0,433.1 643.5,433.2 646.0,433.2 648.5,433.2 651.0,433.3 653.5,433.3 656.0,433.4 658.5,433.4 661.0,433.4 663.5,433.5 666.0,433.5 668.5,433.6 671.0,433.6 673.5,433.7 676.0,433.7 678.5,433.8 681.0,433.8 683.5,433.9 686.0,433.9 688.5,434.0 691.0,434.1 693.5,434.1 696.0,434.2 698.5,434.3 701.0,434.3 703.5,434.4 706.0,434.5 707.0,434.5" fill="none" stroke="#ff0000" stroke-width="2.08" stroke-linejoin="round" stroke-linecap="square"/>
<polyline points="626.0,434.2 628.5,434.3 631.0,434.3 633.5,434.3 636.0,434.4 638.5,434.4 641.0,434.5 643.5,434.5 646.0,434.6 648.5,434.6 651.0,434.6 653.5,434.7 656.0,434.7 658.5,434.7 661.0,434.8 663.5,434.8 666.0,434.8 668.5,434.8 671.0,434.8 673.5,434.9 676.0,434.9 678.5,434.9 681.0,434.9 683.5,434.9 686.0,434.9 688.5,435.0 691.0,435.0 693.5,435.0 696.0,435.0 698.5,435.0 701.0,435.0 703.5,435.0 706.0,435.0 707.0,435.0" fill="none" stroke="#ff0000" stroke-width="2.08" stroke-linejoin="round" stroke-linecap="square"/>
<polyline points="626.0,442.4 628.5,442.4 631.0,442.3 633.5,442.3 636.0,442.3 638.5,442.2 641.0,442.2 643.5,442.2 646.0,442.2 648.5,442.1 651.0,442.1 653.5,442.1 656.0,442.1 658.5,442.0 661.0,442.0 663.5,442.0 666.0,442.0 668.5,442.0 671.0,442.0 673.5,441.9 676.0,441.9 678.5,441.9 681.0,441.9 683.5,441.9 686.0,441.9 688.5,441.9 691.0,441.9 693.5,441.8 696.0,441.8 698.5,441.8 701.0,441.8 703.5,441.8 706.0,441.8 707.0,441.8" fill="none" stroke="#ff0000" stroke-width="2.08" stroke-linejoin="round" stroke-linecap="square"/>
<polyline points="626.0,444.5 628.5,444.5 631.0,444.4 633.5,444.4 636.0,444.3 638.5,444.3 641.0,444.3 643.5,444.2 646.0,444.2 648.5,444.2 651.0,444.1 653.5,444.1 656.0,444.1 658.5,444.1 661.0,444.0 663.5,444.0 666.0,444.0 668.5,444.0 671.0,444.0 673.5,443.9 676.0,443.9 678.5,443.9 681.0,443.9 683.5,443.9 686.0,443.9 688.5,443.9 691.0,443.8 693.5,443.8 696.0,443.8 698.5,443.8 701.0,443.8 703.5,443.8 706.0,443.8 707.0,443.8" fill="none" stroke="#ff0000" stroke-width="2.08" stroke-linejoin="round" stroke-linecap="square"/>
<polyline points="626.0,446.5 628.5,446.5 631.0,446.4 633.5,446.4 636.0,446.4 638.5,446.3 641.0,446.3 643.5,446.3 646.0,446.2 648.5,446.2 651.0,446.2 653.5,446.1 656.0,446.1 658.5,446.1 661.0,446.0 663.5,446.0 666.0,446.0 668.5,446.0 671.0,445.9 673.5,445.9 676.0,445.9 678.5,445.9 681.0,445.8 683.5,445.8 686.0,445.8 688.5,445.8 691.0,445.7 693.5,445.7 696.0,445.7 698.5,445.7 701.0,445.6 703.5,445.6 706.0,445.6 707.0,445.6" fill="none" stroke="#ff0000" stroke-width="2.08" stroke-linejoin="round" stroke-linecap="square"/>
<polyline points="626.0,448.3 628.5,448.2 631.0,448.2 633.5,448.1 636.0,448.0 638.5,448.0 641.0,447.9 643.5,447.9 646.0,447.8 648.5,447.8 651.0,447.7 653.5,447.7 656.0,447.6 658.5,447.6 661.0,447.5 663.5,447.5 666.0,447.5 668.5,447.5 671.0,447.4 673.5,447.4 676.0,447.4 678.5,447.4 681.0,447.3 683.5,447.3 686.0,447.3 688.5,447.3 691.0,447.3 693.5,447.2 696.0,447.2 698.5,447.2 701.0,447.2 703.5,447.2 706.0,447.2 707.0,447.2" fill="none" stroke="#ff0000" stroke-width="2.08" stroke-linejoin="round" stroke-linecap="square"/>
<polyline points="626.0,452.7 628.5,452.6 631.0,452.5 633.5,452.3 636.0,452.2 638.5,452.1 641.0,452.0 643.5,451.9 646.0,451.8 648.5,451.7 651.0,451.6 653.5,451.5 656.0,451.4 658.5,451.4 661.0,451.3 663.5,451.2 666.0,451.2 668.5,451.1 671.0,451.1 673.5,451.0 676.0,451.0 678.5,450.9 681.0,450.8 683.5,450.8 686.0,450.8 688.5,450.7 691.0,450.7 693.5,450.6 696.0,450.6 698.5,450.6 701.0,450.5 703.5,450.5 706.0,450.5 707.0,450.5" fill="none" stroke="#ff0000" stroke-width="2.08" stroke-linejoin="round" stroke-linecap="square"/>
<polyline points="626.0,454.1 628.5,454.0 631.0,453.9 633.5,453.8 636.0,453.8 638.5,453.7 641.0,453.6 643.5,453.5 646.0,453.5 648.5,453.4 651.0,453.3 653.5,453.3 656.0,453.2 658.5,453.1 661.0,453.1 663.5,453.0 666.0,453.0 668.5,452.9 671.0,452.9 673.5,452.8 676.0,452.8 678.5,452.8 681.0,452.7 683.5,452.7 686.0,452.6 688.5,452.6 691.0,452.6 693.5,452.5 696.0,452.5 698.5,452.5 701.0,452.5 703.5,452.4 706.0,452.4 707.0,452.4" fill="none" stroke="#ff0000" stroke-width="2.08" stroke-linejoin="round" stroke-linecap="square"/>
<polyline points="626.0,455.4 628.5,455.3 631.0,455.3 633.5,455.2 636.0,455.2 638.5,455.1 641.0,455.0 643.5,455.0 646.0,454.9 648.5,454.9 651.0,454.8 653.5,454.8 656.0,454.7 658.5,454.7 661.0,454.7 663.5,454.6 666.0,454.6 668.5,454.6 671.0,454.5 673.5,454.5 676.0,454.5 678.5,454.4 681.0,454.4 683.5,454.4 686.0,454.4 688.5,454.3 691.0,454.3 693.5,454.3 696.0,454.3 698.5,454.2 701.0,454.2 703.5,454.2 706.0,454.2 707.0,454.2" fill="none" stroke="#ff0000" stroke-width="2.08" stroke-linejoin="round" stroke-linecap="square"/>
<polyline points="626.0,460.0 628.5,460.0 631.0,460.1 633.5,460.1 636.0,460.1 638.5,460.1 641.0,460.2 643.5,460.2 646.0,460.2 648.5,460.2 651.0,460.3 653.5,460.3 656.0,460.3 658.5,460.3 661.0,460.3 663.5,460.3 666.0,460.3 668.5,460.3 671.0,460.3 673.5,460.3 676.0,460.3 678.5,460.3 681.0,460.3 683.5,460.3 686.0,460.3 688.5,460.3 691.0,460.3 693.5,460.3 696.0,460.3 698.5,460.2 701.0,460.2 703.5,460.2 706.0,460.2 707.0,460.2" fill="none" stroke="#ff0000" stroke-width="2.08" stroke-linejoin="round" stroke-linecap="square"/>
<polyline points="626.0,460.9 628.5,460.9 631.0,460.9 633.5,461.0 636.0,461.0 638.5,461.0 641.0,461.0 643.5,461.0 646.0,461.1 648.5,461.1 651.0,461.1 653.5,461.1 656.0,461.1 658.5,461.2 661.0,461.2 663.5,461.2 666.0,461.2 668.5,461.2 671.0,461.2 673.5,461.3 676.0,461.3 678.5,461.3 681.0,461.3 683.5,461.3 686.0,461.4 688.5,461.4 691.0,461.4 693.5,461.4 696.0,461.4 698.5,461.4 701.0,461.5 703.5,461.5 706.0,461.5 707.0,461.5" fill="none" stroke="#ff0000" stroke-width="2.08" stroke-linejoin="round" stroke-linecap="square"/>
<polyline points="511.1,492.6 513.6,492.7 516.1,492.7 518.6,492.8 521.1,492.8 523.6,492.9 526.1,493.0 528.6,493.0 531.1,493.1 533.6,493.2 536.1,493.3 538.6,493.3 541.1,493.4 543.6,493.5 546.1,493.6 548.6,493.7 551.1,493.8 553.6,493.9 556.1,494.0 558.6,494.2 561.1,494.3 563.6,494.4 566.1,494.6 568.6,494.7 571.1,494.8 573.6,494.9 576.1,495.0 578.6,495.0 581.1,495.1 583.6,495.1 586.1,495.1 588.6,495.1 591.1,495.2 593.6,495.2 596.1,495.2 598.6,495.2 601.1,495.2 603.6,495.2 606.1,495.2 608.6,495.2 611.1,495.2 613.6,495.2 616.1,495.2 618.6,495.2 621.1,495.1 623.6,495.1 626.0,495.0" fill="none" stroke="#ff0000" stroke-width="2.08" stroke-linejoin="round" stroke-linecap="square"/>
<polyline points="511.1,495.5 513.6,495.5 516.1,495.4 518.6,495.3 521.1,495.3 523.6,495.2 526.1,495.2 528.6,495.2 531.1,495.1 533.6,495.1 536.1,495.1 538.6,495.1 541.1,495.1 543.6,495.1 546.1,495.1 548.6,495.2 551.1,495.2 553.6,495.3 556.1,495.5 558.6,495.6 561.1,495.7 563.6,495.9 566.1,496.0 568.6,496.2 571.1,496.3 573.6,496.4 576.1,496.5 578.6,496.5 581.1,496.5 583.6,496.5 586.1,496.5 588.6,496.5 591.1,496.5 593.6,496.5 596.1,496.5 598.6,496.5 601.1,496.5 603.6,496.5 606.1,496.5 608.6,496.5 611.1,496.5 613.6,496.4 616.1,496.4 618.6,496.4 621.1,496.4 623.6,496.4 626.0,496.3" fill="none" stroke="#ff0000" stroke-width="2.08" stroke-linejoin="round" stroke-linecap="square"/>
<polyline points="511.1,497.4 513.6,497.2 516.1,497.1 518.6,497.1 521.1,497.0 523.6,496.9 526.1,496.9 528.6,496.8 531.1,496.8 533.6,496.8 536.1,496.7 538.6,496.7 541.1,496.7 543.6,496.7 546.1,496.7 548.6,496.7 551.1,496.8 553.6,496.9 556.1,497.0 558.6,497.1 561.1,497.3 563.6,497.4 566.1,497.5 568.6,497.7 571.1,497.8 573.6,497.9 576.1,497.9 578.6,498.0 581.1,498.0 583.6,498.0 586.1,497.9 588.6,497.9 591.1,497.9 593.6,497.9 596.1,497.8 598.6,497.8 601.1,497.8 603.6,497.7 606.1,497.7 608.6,497.7 611.1,497.7 613.6,497.7 616.1,497.7 618.6,497.7 621.1,497.7 623.6,497.7 626.0,497.6" fill="none" stroke="#ff0000" stroke-width="2.08" stroke-linejoin="round" stroke-linecap="square"/>
<polyline points="511.1,499.2 513.6,499.0 516.1,498.9 518.6,498.8 521.1,498.7 523.6,498.6 526.1,498.5 528.6,498.5 531.1,498.4 533.6,498.4 536.1,498.3 538.6,498.3 541.1,498.3 543.6,498.3 546.1,498.3 548.6,498.3 551.1,498.4 553.6,498.5 556.1,498.6 558.6,498.7 561.1,498.8 563.6,498.9 566.1,499.0 568.6,499.2 571.1,499.3 573.6,499.3 576.1,499.4 578.6,499.4 581.1,499.4 583.6,499.4 586.1,499.4 588.6,499.3 591.1,499.3 593.6,499.2 596.1,499.1 598.6,499.1 601.1,499.0 603.6,499.0 606.1,499.0 608.6,499.0 611.1,499.0 613.6,499.0 616.1,499.0 618.6,499.0 621.1,499.0 623.6,498.9 626.0,498.9" fill="none" stroke="#ff0000" stroke-width="2.08" stroke-linejoin="round" stroke-linecap="square"/>
<polyline points="511.1,501.8 513.6,501.6 516.1,501.4 518.6,501.1 521.1,500.9 523.6,500.7 526.1,500.5 528.6,500.4 531.1,500.2 533.6,500.1 536.1,500.0 538.6,499.9 541.1,499.9 543.6,499.9 546.1,499.9 548.6,499.9 551.1,499.9 553.6,500.0 556.1,500.1 558.6,500.2 561.1,500.3 563.6,500.4 566.1,500.5 568.6,500.7 571.1,500.7 573.6,500.8 576.1,500.9 578.6,500.9 581.1,500.9 583.6,500.9 586.1,500.8 588.6,500.7 591.1,500.6 593.6,500.5 596.1,500.4 598.6,500.3 601.1,500.3 603.6,500.2 606.1,500.2 608.6,500.2 611.1,500.2 613.6,500.2 616.1,500.2 618.6,500.2 621.1,500.2 623.6,500.2 626.0,500.3" fill="none" stroke="#ff0000" stroke-width="2.08" stroke-linejoin="round" stroke-linecap="square"/>
<polyline points="511.1,502.9 513.6,502.7 516.1,502.5 518.6,502.3 521.1,502.2 523.6,502.0 526.1,501.9 528.6,501.8 531.1,501.7 533.6,501.6 536.1,501.6 538.6,501.5 541.1,501.5 543.6,501.4 546.1,501.4 548.6,501.5 551.1,501.5 553.6,501.6 556.1,501.7 558.6,501.8 561.1,501.9 563.6,502.0 566.1,502.1 568.6,502.1 571.1,502.2 573.6,502.3 576.1,502.4 578.6,502.4 581.1,502.4 583.6,502.3 586.1,502.2 588.6,502.1 591.1,502.0 593.6,501.9 596.1,501.7 598.6,501.6 601.1,501.5 603.6,501.5 606.1,501.5 608.6,501.5 611.1,501.5 613.6,501.5 616.1,501.5 618.6,501.5 621.1,501.5 623.6,501.5 626.0,501.6" fill="none" stroke="#ff0000" stroke-width="2.08" stroke-linejoin="round" stroke-linecap="square"/>
<polyline points="511.1,505.9 513.6,505.6 516.1,505.3 518.6,504.9 521.1,504.6 523.6,504.3 526.1,504.1 528.6,503.8 531.1,503.6 533.6,503.4 536.1,503.3 538.6,503.2 541.1,503.1 543.6,503.0 546.1,503.0 548.6,503.0 551.1,503.1 553.6,503.1 556.1,503.2 558.6,503.3 561.1,503.4 563.6,503.5 566.1,503.6 568.6,503.6 571.1,503.7 573.6,503.8 576.1,503.8 578.6,503.8 581.1,503.8 583.6,503.8 586.1,503.7 588.6,503.5 591.1,503.4 593.6,503.2 596.1,503.0 598.6,502.9 601.1,502.8 603.6,502.7 606.1,502.7 608.6,502.7 611.1,502.7 613.6,502.7 616.1,502.7 618.6,502.8 621.1,502.8 623.6,502.8 626.0,502.9" fill="none" stroke="#ff0000" stroke-width="2.08" stroke-linejoin="round" stroke-linecap="square"/>
<polyline points="511.1,506.3 513.6,506.1 516.1,505.9 518.6,505.7 521.1,505.5 523.6,505.3 526.1,505.2 528.6,505.0 531.1,504.9 533.6,504.8 536.1,504.7 538.6,504.7 541.1,504.6 543.6,504.6 546.1,504.6 548.6,504.6 551.1,504.7 553.6,504.7 556.1,504.8 558.6,504.8 561.1,504.9 563.6,505.0 566.1,505.1 568.6,505.1 571.1,505.2 573.6,505.3 576.1,505.3 578.6,505.3 581.1,505.3 583.6,505.2 586.1,505.1 588.6,504.9 591.1,504.8 593.6,504.6 596.1,504.4 598.6,504.2 601.1,504.0 603.6,504.0 606.1,504.0 608.6,504.0 611.1,504.0 613.6,504.0 616.1,504.0 618.6,504.0 621.1,504.1 623.6,504.1 626.0,504.2" fill="none" stroke="#ff0000" stroke-width="2.08" stroke-linejoin="round" stroke-linecap="square"/>
<polyline points="511.1,508.8 513.6,508.5 516.1,508.2 518.6,507.9 521.1,507.7 523.6,507.4 526.1,507.2 528.6,506.9 531.1,506.7 533.6,506.6 536.1,506.4 538.6,506.3 541.1,506.2 543.6,506.2 546.1,506.2 548.6,506.2 551.1,506.2 553.6,506.3 556.1,506.3 558.6,506.4 561.1,506.4 563.6,506.5 566.1,506.6 568.6,506.6 571.1,506.7 573.6,506.7 576.1,506.8 578.6,506.8 581.1,506.8 583.6,506.8 586.1,506.8 588.6,506.7 591.1,506.7 593.6,506.6 596.1,506.6 598.6,506.6 601.1,506.6 603.6,506.5 606.1,506.5 608.6,506.6 611.1,506.6 613.6,506.6 616.1,506.6 618.6,506.7 621.1,506.7 623.6,506.8 626.0,506.8" fill="none" stroke="#ff0000" stroke-width="2.08" stroke-linejoin="round" stroke-linecap="square"/>
<polyline points="511.1,509.2 513.6,509.0 516.1,508.8 518.6,508.7 521.1,508.5 523.6,508.4 526.1,508.3 528.6,508.1 531.1,508.0 533.6,508.0 536.1,507.9 538.6,507.8 541.1,507.8 543.6,507.8 546.1,507.8 548.6,507.8 551.1,507.8 553.6,507.8 556.1,507.8 558.6,507.9 561.1,507.9 563.6,508.0 566.1,508.0 568.6,508.1 571.1,508.1 573.6,508.2 576.1,508.2 578.6,508.2 581.1,508.3 583.6,508.3 586.1,508.4 588.6,508.4 591.1,508.5 593.6,508.5 596.1,508.6 598.6,508.6 601.1,508.6 603.6,508.7 606.1,508.7 608.6,508.7 611.1,508.6 613.6,508.6 616.1,508.6 618.6,508.6 621.1,508.5 623.6,508.5 626.0,508.5" fill="none" stroke="#ff0000" stroke-width="2.08" stroke-linejoin="round" stroke-linecap="square"/>
<polyline points="511.1,511.8 513.6,511.7 516.1,511.5 518.6,511.3 521.1,511.2 523.6,511.0 526.1,510.9 528.6,510.8 531.1,510.7 533.6,510.6 536.1,510.6 538.6,510.5 541.1,510.5 543.6,510.4 546.1,510.4 548.6,510.5 551.1,510.5 553.6,510.5 556.1,510.6 558.6,510.7 561.1,510.8 563.6,510.8 566.1,510.9 568.6,511.0 571.1,511.1 573.6,511.2 576.1,511.2 578.6,511.3 581.1,511.4 583.6,511.4 586.1,511.5 588.6,511.5 591.1,511.5 593.6,511.6 596.1,511.6 598.6,511.6 601.1,511.7 603.6,511.7 606.1,511.8 608.6,511.8 611.1,511.8 613.6,511.9 616.1,511.9 618.6,511.9 621.1,512.0 623.6,512.0 626.0,512.0" fill="none" stroke="#ff0000" stroke-width="2.08" stroke-linejoin="round" stroke-linecap="square"/>
<polyline points="511.1,513.2 513.6,513.0 516.1,512.9 518.6,512.8 521.1,512.8 523.6,512.7 526.1,512.6 528.6,512.5 531.1,512.5 533.6,512.4 536.1,512.4 538.6,512.4 541.1,512.4 543.6,512.3 546.1,512.3 548.6,512.4 551.1,512.4 553.6,512.4 556.1,512.5 558.6,512.6 561.1,512.7 563.6,512.7 566.1,512.8 568.6,512.9 571.1,513.0 573.6,513.0 576.1,513.1 578.6,513.2 581.1,513.2 583.6,513.2 586.1,513.2 588.6,513.3 591.1,513.3 593.6,513.3 596.1,513.3 598.6,513.3 601.1,513.3 603.6,513.4 606.1,513.4 608.6,513.4 611.1,513.4 613.6,513.4 616.1,513.5 618.6,513.5 621.1,513.5 623.6,513.5 626.0,513.6" fill="none" stroke="#ff0000" stroke-width="2.08" stroke-linejoin="round" stroke-linecap="square"/>
<polyline points="511.1,515.8 513.6,515.6 516.1,515.5 518.6,515.3 521.1,515.1 523.6,514.9 526.1,514.8 528.6,514.7 531.1,514.6 533.6,514.5 536.1,514.4 538.6,514.3 541.1,514.3 543.6,514.2 546.1,514.2 548.6,514.3 551.1,514.3 553.6,514.4 556.1,514.4 558.6,514.5 561.1,514.6 563.6,514.7 566.1,514.7 568.6,514.8 571.1,514.9 573.6,514.9 576.1,515.0 578.6,515.0 581.1,515.0 583.6,515.0 586.1,515.0 588.6,515.0 591.1,515.0 593.6,515.0 596.1,515.0 598.6,515.0 601.1,515.0 603.6,515.0 606.1,515.0 608.6,515.0 611.1,515.0 613.6,515.0 616.1,515.0 618.6,515.0 621.1,515.1 623.6,515.1 626.0,515.1" fill="none" stroke="#ff0000" stroke-width="2.08" stroke-linejoin="round" stroke-linecap="square"/>
<polyline points="511.1,517.3 513.6,517.2 516.1,517.0 518.6,516.9 521.1,516.8 523.6,516.6 526.1,516.5 528.6,516.5 531.1,516.4 533.6,516.3 536.1,516.2 538.6,516.2 541.1,516.2 543.6,516.2 546.1,516.2 548.6,516.2 551.1,516.2 553.6,516.3 556.1,516.3 558.6,516.4 561.1,516.5 563.6,516.5 566.1,516.6 568.6,516.7 571.1,516.7 573.6,516.8 576.1,516.8 578.6,516.8 581.1,516.8 583.6,516.8 586.1,516.8 588.6,516.8 591.1,516.7 593.6,516.7 596.1,516.7 598.6,516.7 601.1,516.6 603.6,516.6 606.1,516.6 608.6,516.6 611.1,516.6 613.6,516.6 616.1,516.6 618.6,516.6 621.1,516.6 623.6,516.6 626.0,516.6" fill="none" stroke="#ff0000" stroke-width="2.08" stroke-linejoin="round" stroke-linecap="square"/>
<polyline points="511.1,518.8 513.6,518.7 516.1,518.6 518.6,518.5 521.1,518.4 523.6,518.3 526.1,518.3 528.6,518.2 531.1,518.2 533.6,518.1 536.1,518.1 538.6,518.1 541.1,518.1 543.6,518.1 546.1,518.1 548.6,518.1 551.1,518.1 553.6,518.1 556.1,518.2 558.6,518.3 561.1,518.3 563.6,518.4 566.1,518.5 568.6,518.5 571.1,518.6 573.6,518.6 576.1,518.6 578.6,518.7 581.1,518.7 583.6,518.6 586.1,518.6 588.6,518.6 591.1,518.5 593.6,518.5 596.1,518.4 598.6,518.4 601.1,518.3 603.6,518.3 606.1,518.3 608.6,518.2 611.1,518.2 613.6,518.2 616.1,518.2 618.6,518.2 621.1,518.2 623.6,518.2 626.0,518.2" fill="none" stroke="#ff0000" stroke-width="2.08" stroke-linejoin="round" stroke-linecap="square"/>
<polyline points="511.1,520.2 513.6,520.2 516.1,520.1 518.6,520.1 521.1,520.1 523.6,520.0 526.1,520.0 528.6,520.0 531.1,520.0 533.6,520.0 536.1,520.0 538.6,520.0 541.1,520.0 543.6,520.0 546.1,520.0 548.6,520.0 551.1,520.0 553.6,520.0 556.1,520.0 558.6,520.1 561.1,520.1 563.6,520.2 566.1,520.2 568.6,520.3 571.1,520.3 573.6,520.4 576.1,520.4 578.6,520.5 581.1,520.5 583.6,520.6 586.1,520.6 588.6,520.6 591.1,520.7 593.6,520.7 596.1,520.8 598.6,520.8 601.1,520.8 603.6,520.8 606.1,520.8 608.6,520.8 611.1,520.8 613.6,520.8 616.1,520.8 618.6,520.8 621.1,520.8 623.6,520.8 626.0,520.8" fill="none" stroke="#ff0000" stroke-width="2.08" stroke-linejoin="round" stroke-linecap="square"/>
<polyline points="511.1,521.7 513.6,521.7 516.1,521.7 518.6,521.7 521.1,521.7 523.6,521.7 526.1,521.7 528.6,521.8 531.1,521.8 533.6,521.8 536.1,521.8 538.6,521.8 541.1,521.8 543.6,521.8 546.1,521.9 548.6,521.9 551.1,521.9 553.6,522.0 556.1,522.0 558.6,522.1 561.1,522.1 563.6,522.1 566.1,522.2 568.6,522.2 571.1,522.3 573.6,522.3 576.1,522.3 578.6,522.3 581.1,522.3 583.6,522.3 586.1,522.2 588.6,522.1 591.1,521.9 593.6,521.8 596.1,521.7 598.6,521.6 601.1,521.5 603.6,521.4 606.1,521.4 608.6,521.4 611.1,521.4 613.6,521.4 616.1,521.4 618.6,521.4 621.1,521.4 623.6,521.4 626.0,521.4" fill="none" stroke="#ff0000" stroke-width="2.08" stroke-linejoin="round" stroke-linecap="square"/>
<polyline points="511.1,523.2 513.6,523.2 516.1,523.3 518.6,523.3 521.1,523.4 523.6,523.4 526.1,523.5 528.6,523.5 531.1,523.5 533.6,523.6 536.1,523.6 538.6,523.7 541.1,523.7 543.6,523.7 546.1,523.8 548.6,523.8 551.1,523.9 553.6,523.9 556.1,523.9 558.6,524.0 561.1,524.0 563.6,524.0 566.1,524.1 568.6,524.1 571.1,524.1 573.6,524.1 576.1,524.2 578.6,524.2 581.1,524.1 583.6,524.0 586.1,523.8 588.6,523.6 591.1,523.2 593.6,522.9 596.1,522.6 598.6,522.3 601.1,522.1 603.6,522.0 606.1,522.0 608.6,522.0 611.1,522.0 613.6,522.0 616.1,522.0 618.6,522.0 621.1,522.0 623.6,522.0 626.0,522.0" fill="none" stroke="#ff0000" stroke-width="2.08" stroke-linejoin="round" stroke-linecap="square"/>
<polyline points="511.1,525.8 513.6,525.9 516.1,525.9 518.6,526.0 521.1,526.0 523.6,526.0 526.1,526.1 528.6,526.1 531.1,526.1 533.6,526.2 536.1,526.2 538.6,526.2 541.1,526.3 543.6,526.3 546.1,526.4 548.6,526.4 551.1,526.4 553.6,526.5 556.1,526.5 558.6,526.6 561.1,526.6 563.6,526.7 566.1,526.7 568.6,526.8 571.1,526.8 573.6,526.8 576.1,526.8 578.6,526.8 581.1,526.8 583.6,526.7 586.1,526.5 588.6,526.2 591.1,525.9 593.6,525.5 596.1,525.2 598.6,524.9 601.1,524.7 603.6,524.6 606.1,524.5 608.6,524.5 611.1,524.5 613.6,524.5 616.1,524.5 618.6,524.5 621.1,524.5 623.6,524.5 626.0,524.5" fill="none" stroke="#ff0000" stroke-width="2.08" stroke-linejoin="round" stroke-linecap="square"/>
<polyline points="511.1,527.2 513.6,527.2 516.1,527.3 518.6,527.3 521.1,527.3 523.6,527.4 526.1,527.4 528.6,527.4 531.1,527.5 533.6,527.5 536.1,527.5 538.6,527.6 541.1,527.6 543.6,527.6 546.1,527.6 548.6,527.6 551.1,527.6 553.6,527.7 556.1,527.7 558.6,527.7 561.1,527.7 563.6,527.7 566.1,527.7 568.6,527.7 571.1,527.7 573.6,527.7 576.1,527.7 578.6,527.7 581.1,527.7 583.6,527.6 586.1,527.4 588.6,527.0 591.1,526.7 593.6,526.3 596.1,525.9 598.6,525.6 601.1,525.3 603.6,525.2 606.1,525.2 608.6,525.2 611.1,525.2 613.6,525.2 616.1,525.2 618.6,525.2 621.1,525.2 623.6,525.2 626.0,525.2" fill="none" stroke="#ff0000" stroke-width="2.08" stroke-linejoin="round" stroke-linecap="square"/>
<polyline points="511.1,528.5 513.6,528.5 516.1,528.6 518.6,528.6 521.1,528.7 523.6,528.7 526.1,528.7 528.6,528.8 531.1,528.8 533.6,528.8 536.1,528.8 538.6,528.8 541.1,528.9 543.6,528.9 546.1,528.9 548.6,528.9 551.1,528.9 553.6,528.8 556.1,528.8 558.6,528.8 561.1,528.8 563.6,528.8 566.1,528.8 568.6,528.8 571.1,528.7 573.6,528.7 576.1,528.7 578.6,528.7 581.1,528.6 583.6,528.6 586.1,528.5 588.6,528.4 591.1,528.3 593.6,528.2 596.1,528.1 598.6,528.0 601.1,527.9 603.6,527.8 606.1,527.8 608.6,527.8 611.1,527.8 613.6,527.8 616.1,527.8 618.6,527.8 621.1,527.8 623.6,527.8 626.0,527.8" fill="none" stroke="#ff0000" stroke-width="2.08" stroke-linejoin="round" stroke-linecap="square"/>
<polyline points="511.1,529.8 513.6,529.8 516.1,529.8 518.6,529.9 521.1,529.9 523.6,529.9 526.1,529.9 528.6,529.9 531.1,530.0 533.6,530.0 536.1,530.0 538.6,530.0 541.1,530.1 543.6,530.1 546.1,530.1 548.6,530.2 551.1,530.3 553.6,530.4 556.1,530.5 558.6,530.7 561.1,530.8 563.6,531.0 566.1,531.1 568.6,531.2 571.1,531.3 573.6,531.4 576.1,531.5 578.6,531.5 581.1,531.5 583.6,531.4 586.1,531.2 588.6,530.9 591.1,530.6 593.6,530.2 596.1,529.9 598.6,529.6 601.1,529.4 603.6,529.2 606.1,529.2 608.6,529.2 611.1,529.2 613.6,529.2 616.1,529.2 618.6,529.2 621.1,529.2 623.6,529.2 626.0,529.2" fill="none" stroke="#ff0000" stroke-width="2.08" stroke-linejoin="round" stroke-linecap="square"/>
<polyline points="511.1,531.2 513.6,531.2 516.1,531.2 518.6,531.2 521.1,531.2 523.6,531.2 526.1,531.2 528.6,531.2 531.1,531.3 533.6,531.3 536.1,531.3 538.6,531.3 541.1,531.3 543.6,531.4 546.1,531.4 548.6,531.5 551.1,531.5 553.6,531.6 556.1,531.7 558.6,531.8 561.1,532.0 563.6,532.1 566.1,532.2 568.6,532.3 571.1,532.4 573.6,532.5 576.1,532.5 578.6,532.6 581.1,532.6 583.6,532.5 586.1,532.3 588.6,532.0 591.1,531.7 593.6,531.4 596.1,531.2 598.6,530.9 601.1,530.7 603.6,530.6 606.1,530.6 608.6,530.6 611.1,530.6 613.6,530.6 616.1,530.6 618.6,530.6 621.1,530.6 623.6,530.6 626.0,530.6" fill="none" stroke="#ff0000" stroke-width="2.08" stroke-linejoin="round" stroke-linecap="square"/>
<polyline points="511.1,532.5 513.6,532.5 516.1,532.5 518.6,532.5 521.1,532.5 523.6,532.5 526.1,532.5 528.6,532.5 531.1,532.6 533.6,532.6 536.1,532.6 538.6,532.6 541.1,532.6 543.6,532.6 546.1,532.7 548.6,532.7 551.1,532.8 553.6,532.8 556.1,532.9 558.6,533.0 561.1,533.1 563.6,533.2 566.1,533.3 568.6,533.4 571.1,533.5 573.6,533.5 576.1,533.6 578.6,533.6 581.1,533.6 583.6,533.5 586.1,533.4 588.6,533.2 591.1,532.9 593.6,532.7 596.1,532.4 598.6,532.2 601.1,532.1 603.6,532.0 606.1,532.0 608.6,532.0 611.1,532.0 613.6,532.0 616.1,532.0 618.6,532.0 621.1,532.0 623.6,532.0 626.0,532.0" fill="none" stroke="#ff0000" stroke-width="2.08" stroke-linejoin="round" stroke-linecap="square"/>
<polyline points="511.1,533.8 513.6,533.8 516.1,533.8 518.6,533.8 521.1,533.8 523.6,533.8 526.1,533.8 528.6,533.9 531.1,533.9 533.6,533.9 536.1,533.9 538.6,533.9 541.1,533.9 543.6,533.9 546.1,533.9 548.6,533.9 551.1,534.0 553.6,534.0 556.1,534.1 558.6,534.2 561.1,534.2 563.6,534.3 566.1,534.4 568.6,534.5 571.1,534.5 573.6,534.6 576.1,534.6 578.6,534.6 581.1,534.6 583.6,534.6 586.1,534.6 588.6,534.6 591.1,534.6 593.6,534.6 596.1,534.6 598.6,534.6 601.1,534.6 603.6,534.6 606.1,534.6 608.6,534.6 611.1,534.6 613.6,534.6 616.1,534.6 618.6,534.6 621.1,534.6 623.6,534.6 626.0,534.6" fill="none" stroke="#ff0000" stroke-width="2.08" stroke-linejoin="round" stroke-linecap="square"/>
<polyline points="511.1,535.2 513.6,535.2 516.1,535.2 518.6,535.2 521.1,535.2 523.6,535.2 526.1,535.2 528.6,535.2 531.1,535.2 533.6,535.2 536.1,535.2 538.6,535.2 541.1,535.2 543.6,535.2 546.1,535.2 548.6,535.2 551.1,535.2 553.6,535.2 556.1,535.3 558.6,535.3 561.1,535.4 563.6,535.4 566.1,535.5 568.6,535.5 571.1,535.6 573.6,535.6 576.1,535.6 578.6,535.6 581.1,535.7 583.6,535.7 586.1,535.7 588.6,535.7 591.1,535.7 593.6,535.7 596.1,535.7 598.6,535.8 601.1,535.8 603.6,535.8 606.1,535.8 608.6,535.7 611.1,535.7 613.6,535.7 616.1,535.7 618.6,535.6 621.1,535.6 623.6,535.5 626.0,535.5" fill="none" stroke="#ff0000" stroke-width="2.08" stroke-linejoin="round" stroke-linecap="square"/>
<polyline points="511.1,536.5 513.6,536.5 516.1,536.5 518.6,536.5 521.1,536.5 523.6,536.5 526.1,536.4 528.6,536.4 531.1,536.4 533.6,536.4 536.1,536.4 538.6,536.4 541.1,536.4 543.6,536.4 546.1,536.4 548.6,536.5 551.1,536.6 553.6,536.7 556.1,536.9 558.6,537.0 561.1,537.2 563.6,537.5 566.1,537.7 568.6,537.9 571.1,538.1 573.6,538.3 576.1,538.5 578.6,538.7 581.1,538.8 583.6,538.9 586.1,539.1 588.6,539.2 591.1,539.3 593.6,539.5 596.1,539.6 598.6,539.7 601.1,539.8 603.6,539.8 606.1,539.9 608.6,539.9 611.1,539.9 613.6,540.0 616.1,540.0 618.6,540.0 621.1,540.0 623.6,540.0 626.0,540.0" fill="none" stroke="#ff0000" stroke-width="2.08" stroke-linejoin="round" stroke-linecap="square"/>
<polyline points="511.1,537.8 513.6,537.8 516.1,537.8 518.6,537.8 521.1,537.7 523.6,537.7 526.1,537.7 528.6,537.7 531.1,537.7 533.6,537.7 536.1,537.7 538.6,537.7 541.1,537.7 543.6,537.7 546.1,537.7 548.6,537.8 551.1,537.9 553.6,538.0 556.1,538.2 558.6,538.4 561.1,538.7 563.6,538.9 566.1,539.2 568.6,539.4 571.1,539.6 573.6,539.8 576.1,540.0 578.6,540.1 581.1,540.2 583.6,540.2 586.1,540.3 588.6,540.3 591.1,540.4 593.6,540.4 596.1,540.5 598.6,540.5 601.1,540.5 603.6,540.5 606.1,540.5 608.6,540.5 611.1,540.5 613.6,540.5 616.1,540.5 618.6,540.5 621.1,540.5 623.6,540.5 626.0,540.5" fill="none" stroke="#ff0000" stroke-width="2.08" stroke-linejoin="round" stroke-linecap="square"/>
<polyline points="511.1,539.2 513.6,539.1 516.1,539.1 518.6,539.1 521.1,539.0 523.6,539.0 526.1,539.0 528.6,539.0 531.1,539.0 533.6,539.0 536.1,539.0 538.6,539.0 541.1,539.0 543.6,539.0 546.1,539.0 548.6,539.0 551.1,539.2 553.6,539.4 556.1,539.6 558.6,539.8 561.1,540.1 563.6,540.4 566.1,540.7 568.6,540.9 571.1,541.1 573.6,541.3 576.1,541.5 578.6,541.5 581.1,541.6 583.6,541.5 586.1,541.5 588.6,541.5 591.1,541.5 593.6,541.4 596.1,541.4 598.6,541.3 601.1,541.3 603.6,541.3 606.1,541.2 608.6,541.2 611.1,541.2 613.6,541.1 616.1,541.1 618.6,541.1 621.1,541.1 623.6,541.0 626.0,541.0" fill="none" stroke="#ff0000" stroke-width="2.08" stroke-linejoin="round" stroke-linecap="square"/>
<polyline points="511.1,541.8 513.6,541.8 516.1,541.7 518.6,541.7 521.1,541.6 523.6,541.6 526.1,541.6 528.6,541.6 531.1,541.6 533.6,541.6 536.1,541.5 538.6,541.5 541.1,541.5 543.6,541.5 546.1,541.5 548.6,541.6 551.1,541.7 553.6,541.8 556.1,541.9 558.6,542.0 561.1,542.2 563.6,542.3 566.1,542.5 568.6,542.6 571.1,542.7 573.6,542.8 576.1,542.9 578.6,543.0 581.1,543.0 583.6,542.9 586.1,542.8 588.6,542.7 591.1,542.6 593.6,542.5 596.1,542.4 598.6,542.2 601.1,542.1 603.6,542.0 606.1,541.9 608.6,541.9 611.1,541.8 613.6,541.7 616.1,541.7 618.6,541.6 621.1,541.6 623.6,541.5 626.0,541.5" fill="none" stroke="#ff0000" stroke-width="2.08" stroke-linejoin="round" stroke-linecap="square"/>
<polyline points="511.1,542.3 513.6,542.2 516.1,542.2 518.6,542.2 521.1,542.2 523.6,542.2 526.1,542.1 528.6,542.1 531.1,542.1 533.6,542.1 536.1,542.1 538.6,542.1 541.1,542.1 543.6,542.1 546.1,542.1 548.6,542.2 551.1,542.4 553.6,542.6 556.1,542.8 558.6,543.2 561.1,543.5 563.6,543.9 566.1,544.2 568.6,544.6 571.1,544.9 573.6,545.2 576.1,545.5 578.6,545.7 581.1,545.9 583.6,546.1 586.1,546.2 588.6,546.3 591.1,546.5 593.6,546.6 596.1,546.7 598.6,546.8 601.1,546.9 603.6,547.0 606.1,547.1 608.6,547.2 611.1,547.2 613.6,547.3 616.1,547.4 618.6,547.4 621.1,547.5 623.6,547.5 626.0,547.5" fill="none" stroke="#ff0000" stroke-width="2.08" stroke-linejoin="round" stroke-linecap="square"/>
<polyline points="511.1,542.7 513.6,542.7 516.1,542.7 518.6,542.7 521.1,542.7 523.6,542.7 526.1,542.7 528.6,542.7 531.1,542.7 533.6,542.7 536.1,542.7 538.6,542.7 541.1,542.7 543.6,542.7 546.1,542.7 548.6,542.8 551.1,542.9 553.6,543.1 556.1,543.3 558.6,543.6 561.1,543.9 563.6,544.3 566.1,544.6 568.6,544.9 571.1,545.2 573.6,545.5 576.1,545.8 578.6,546.0 581.1,546.1 583.6,546.3 586.1,546.4 588.6,546.5 591.1,546.6 593.6,546.8 596.1,546.9 598.6,547.0 601.1,547.0 603.6,547.1 606.1,547.2 608.6,547.3 611.1,547.3 613.6,547.4 616.1,547.5 618.6,547.5 621.1,547.6 623.6,547.6 626.0,547.6" fill="none" stroke="#ff0000" stroke-width="2.08" stroke-linejoin="round" stroke-linecap="square"/>
<polyline points="511.1,543.1 513.6,543.2 516.1,543.2 518.6,543.2 521.1,543.2 523.6,543.2 526.1,543.2 528.6,543.2 531.1,543.2 533.6,543.2 536.1,543.2 538.6,543.2 541.1,543.2 543.6,543.2 546.1,543.3 548.6,543.3 551.1,543.5 553.6,543.7 556.1,543.9 558.6,544.1 561.1,544.4 563.6,544.7 566.1,545.0 568.6,545.3 571.1,545.5 573.6,545.8 576.1,546.0 578.6,546.2 581.1,546.3 583.6,546.5 586.1,546.6 588.6,546.7 591.1,546.8 593.6,546.9 596.1,547.0 598.6,547.1 601.1,547.2 603.6,547.2 606.1,547.3 608.6,547.4 611.1,547.4 613.6,547.5 616.1,547.6 618.6,547.6 621.1,547.6 623.6,547.7 626.0,547.7" fill="none" stroke="#ff0000" stroke-width="2.08" stroke-linejoin="round" stroke-linecap="square"/>
<polyline points="511.1,543.6 513.6,543.6 516.1,543.6 518.6,543.6 521.1,543.6 523.6,543.6 526.1,543.6 528.6,543.7 531.1,543.7 533.6,543.7 536.1,543.7 538.6,543.7 541.1,543.8 543.6,543.8 546.1,543.8 548.6,543.9 551.1,544.0 553.6,544.2 556.1,544.4 558.6,544.6 561.1,544.9 563.6,545.1 566.1,545.4 568.6,545.6 571.1,545.9 573.6,546.1 576.1,546.3 578.6,546.4 581.1,546.6 583.6,546.7 586.1,546.8 588.6,546.9 591.1,547.0 593.6,547.1 596.1,547.2 598.6,547.2 601.1,547.3 603.6,547.4 606.1,547.4 608.6,547.5 611.1,547.6 613.6,547.6 616.1,547.6 618.6,547.7 621.1,547.7 623.6,547.8 626.0,547.8" fill="none" stroke="#ff0000" stroke-width="2.08" stroke-linejoin="round" stroke-linecap="square"/>
<polyline points="511.1,544.0 513.6,544.0 516.1,544.0 518.6,544.0 521.1,544.1 523.6,544.1 526.1,544.1 528.6,544.1 531.1,544.2 533.6,544.2 536.1,544.2 538.6,544.3 541.1,544.3 543.6,544.4 546.1,544.4 548.6,544.5 551.1,544.6 553.6,544.8 556.1,544.9 558.6,545.1 561.1,545.3 563.6,545.6 566.1,545.8 568.6,546.0 571.1,546.2 573.6,546.4 576.1,546.5 578.6,546.7 581.1,546.8 583.6,546.9 586.1,547.0 588.6,547.1 591.1,547.2 593.6,547.2 596.1,547.3 598.6,547.4 601.1,547.4 603.6,547.5 606.1,547.6 608.6,547.6 611.1,547.7 613.6,547.7 616.1,547.7 618.6,547.8 621.1,547.8 623.6,547.9 626.0,547.9" fill="none" stroke="#ff0000" stroke-width="2.08" stroke-linejoin="round" stroke-linecap="square"/>
<polyline points="511.1,544.5 513.6,544.5 516.1,544.5 518.6,544.5 521.1,544.5 523.6,544.5 526.1,544.6 528.6,544.6 531.1,544.7 533.6,544.7 536.1,544.8 538.6,544.8 541.1,544.9 543.6,544.9 546.1,545.0 548.6,545.1 551.1,545.2 553.6,545.3 556.1,545.5 558.6,545.6 561.1,545.8 563.6,546.0 566.1,546.2 568.6,546.3 571.1,546.5 573.6,546.6 576.1,546.8 578.6,546.9 581.1,547.0 583.6,547.1 586.1,547.2 588.6,547.3 591.1,547.3 593.6,547.4 596.1,547.5 598.6,547.5 601.1,547.6 603.6,547.6 606.1,547.7 608.6,547.7 611.1,547.8 613.6,547.8 616.1,547.8 618.6,547.9 621.1,547.9 623.6,547.9 626.0,548.0" fill="none" stroke="#ff0000" stroke-width="2.08" stroke-linejoin="round" stroke-linecap="square"/>
<polyline points="511.1,547.6 513.6,547.6 516.1,547.6 518.6,547.6 521.1,547.6 523.6,547.6 526.1,547.7 528.6,547.7 531.1,547.7 533.6,547.7 536.1,547.8 538.6,547.8 541.1,547.8 543.6,547.9 546.1,547.9 548.6,548.0 551.1,548.0 553.6,548.1 556.1,548.2 558.6,548.2 561.1,548.3 563.6,548.5 566.1,548.7 568.6,549.0 571.1,549.2 573.6,549.5 576.1,549.7 578.6,549.9 581.1,550.0 583.6,550.2 586.1,550.4 588.6,550.6 591.1,550.8 593.6,551.0 596.1,551.2 598.6,551.4 601.1,551.7 603.6,552.0 606.1,552.3 608.6,552.6 611.1,553.1 613.6,553.5 616.1,554.0 618.6,554.4 621.1,554.9 623.6,555.3 626.0,555.8" fill="none" stroke="#ff0000" stroke-width="2.08" stroke-linejoin="round" stroke-linecap="square"/>
<polyline points="511.1,546.8 513.6,546.8 516.1,546.8 518.6,546.8 521.1,546.8 523.6,546.8 526.1,546.8 528.6,546.8 531.1,546.8 533.6,546.8 536.1,546.9 538.6,546.9 541.1,546.9 543.6,546.9 546.1,546.9 548.6,546.9 551.1,546.9 553.6,547.0 556.1,547.0 558.6,547.0 561.1,547.1 563.6,547.1 566.1,547.2 568.6,547.3 571.1,547.5 573.6,547.6 576.1,547.7 578.6,547.9 581.1,548.1 583.6,548.3 586.1,548.5 588.6,548.7 591.1,549.0 593.6,549.3 596.1,549.6 598.6,549.9 601.1,550.2 603.6,550.5 606.1,550.9 608.6,551.4 611.1,551.9 613.6,552.4 616.1,553.1 618.6,553.7 621.1,554.4 623.6,555.1 626.0,555.8" fill="none" stroke="#ff0000" stroke-width="2.08" stroke-linejoin="round" stroke-linecap="square"/>
<polyline points="511.1,545.8 513.6,545.7 516.1,545.6 518.6,545.4 521.1,545.3 523.6,545.2 526.1,545.0 528.6,544.9 531.1,544.7 533.6,544.6 536.1,544.4 538.6,544.3 541.1,544.1 543.6,544.0 546.1,543.8 548.6,543.6 551.1,543.5 553.6,543.3 556.1,543.1 558.6,543.0 561.1,542.7 563.6,542.5 566.1,542.3 568.6,542.0 571.1,541.9 573.6,541.8 576.1,541.9 578.6,542.1 581.1,542.5 583.6,542.9 586.1,543.5 588.6,544.2 591.1,544.8 593.6,545.5 596.1,546.2 598.6,546.9 601.1,547.5 603.6,548.2 606.1,548.9 608.6,549.7 611.1,550.5 613.6,551.3 616.1,552.2 618.6,553.0 621.1,553.9 623.6,554.9 626.0,555.8" fill="none" stroke="#ff0000" stroke-width="2.08" stroke-linejoin="round" stroke-linecap="square"/>
<polyline points="626.0,492.4 628.5,492.4 631.0,492.4 633.5,492.4 636.0,492.4 638.5,492.4 641.0,492.5 643.5,492.5 646.0,492.5 648.5,492.5 651.0,492.5 653.5,492.6 656.0,492.6 658.5,492.6 661.0,492.6 663.5,492.6 666.0,492.6 668.5,492.7 671.0,492.7 673.5,492.7 676.0,492.7 678.5,492.8 681.0,492.8 683.5,492.8 686.0,492.8 688.5,492.8 691.0,492.8 693.5,492.8 696.0,492.8 698.5,492.8 701.0,492.8 703.5,492.8 706.0,492.8 707.0,492.8" fill="none" stroke="#ff0000" stroke-width="2.08" stroke-linejoin="round" stroke-linecap="square"/>
<polyline points="626.0,497.5 628.5,497.5 631.0,497.5 633.5,497.5 636.0,497.5 638.5,497.5 641.0,497.4 643.5,497.4 646.0,497.3 648.5,497.3 651.0,497.2 653.5,497.0 656.0,496.9 658.5,496.7 661.0,496.5 663.5,496.3 666.0,496.2 668.5,496.0 671.0,495.8 673.5,495.6 676.0,495.4 678.5,495.3 681.0,495.1 683.5,494.9 686.0,494.8 688.5,494.8 691.0,494.7 693.5,494.7 696.0,494.7 698.5,494.7 701.0,494.7 703.5,494.7 706.0,494.7 707.0,494.7" fill="none" stroke="#ff0000" stroke-width="2.08" stroke-linejoin="round" stroke-linecap="square"/>
<polyline points="626.0,498.6 628.5,498.6 631.0,498.6 633.5,498.6 636.0,498.6 638.5,498.6 641.0,498.5 643.5,498.5 646.0,498.5 648.5,498.4 651.0,498.4 653.5,498.3 656.0,498.2 658.5,498.1 661.0,498.0 663.5,497.9 666.0,497.8 668.5,497.7 671.0,497.6 673.5,497.5 676.0,497.3 678.5,497.1 681.0,497.0 683.5,496.8 686.0,496.7 688.5,496.7 691.0,496.6 693.5,496.6 696.0,496.6 698.5,496.6 701.0,496.6 703.5,496.6 706.0,496.6 707.0,496.6" fill="none" stroke="#ff0000" stroke-width="2.08" stroke-linejoin="round" stroke-linecap="square"/>
<polyline points="626.0,499.7 628.5,499.7 631.0,499.7 633.5,499.7 636.0,499.7 638.5,499.7 641.0,499.6 643.5,499.6 646.0,499.6 648.5,499.6 651.0,499.6 653.5,499.6 656.0,499.5 658.5,499.5 661.0,499.5 663.5,499.5 666.0,499.5 668.5,499.5 671.0,499.4 673.5,499.4 676.0,499.4 678.5,499.4 681.0,499.4 683.5,499.4 686.0,499.3 688.5,499.3 691.0,499.3 693.5,499.3 696.0,499.4 698.5,499.4 701.0,499.4 703.5,499.4 706.0,499.4 707.0,499.4" fill="none" stroke="#ff0000" stroke-width="2.08" stroke-linejoin="round" stroke-linecap="square"/>
<polyline points="626.0,500.9 628.5,500.8 631.0,500.8 633.5,500.8 636.0,500.8 638.5,500.8 641.0,500.8 643.5,500.8 646.0,500.8 648.5,500.8 651.0,500.8 653.5,500.9 656.0,500.9 658.5,501.0 661.0,501.1 663.5,501.1 666.0,501.2 668.5,501.2 671.0,501.2 673.5,501.1 676.0,501.1 678.5,501.0 681.0,501.0 683.5,500.9 686.0,500.9 688.5,500.9 691.0,500.9 693.5,500.9 696.0,500.9 698.5,500.9 701.0,500.9 703.5,500.9 706.0,500.9 707.0,500.9" fill="none" stroke="#ff0000" stroke-width="2.08" stroke-linejoin="round" stroke-linecap="square"/>
<polyline points="626.0,502.0 628.5,501.9 631.0,501.9 633.5,501.9 636.0,501.9 638.5,501.9 641.0,501.9 643.5,501.9 646.0,501.9 648.5,501.9 651.0,502.0 653.5,502.2 656.0,502.3 658.5,502.5 661.0,502.7 663.5,502.8 666.0,502.9 668.5,502.9 671.0,502.9 673.5,502.8 676.0,502.8 678.5,502.7 681.0,502.6 683.5,502.6 686.0,502.5 688.5,502.5 691.0,502.4 693.5,502.4 696.0,502.4 698.5,502.4 701.0,502.4 703.5,502.4 706.0,502.4 707.0,502.4" fill="none" stroke="#ff0000" stroke-width="2.08" stroke-linejoin="round" stroke-linecap="square"/>
<polyline points="626.0,503.1 628.5,503.0 631.0,503.0 633.5,503.0 636.0,503.0 638.5,503.0 641.0,503.0 643.5,503.0 646.0,503.0 648.5,503.1 651.0,503.2 653.5,503.4 656.0,503.6 658.5,503.8 661.0,504.1 663.5,504.3 666.0,504.5 668.5,504.6 671.0,504.8 673.5,504.9 676.0,505.1 678.5,505.2 681.0,505.3 683.5,505.4 686.0,505.5 688.5,505.5 691.0,505.6 693.5,505.6 696.0,505.6 698.5,505.6 701.0,505.6 703.5,505.6 706.0,505.6 707.0,505.6" fill="none" stroke="#ff0000" stroke-width="2.08" stroke-linejoin="round" stroke-linecap="square"/>
<polyline points="626.0,504.2 628.5,504.2 631.0,504.2 633.5,504.2 636.0,504.2 638.5,504.2 641.0,504.2 643.5,504.2 646.0,504.2 648.5,504.2 651.0,504.4 653.5,504.7 656.0,505.1 658.5,505.4 661.0,505.8 663.5,506.1 666.0,506.3 668.5,506.3 671.0,506.4 673.5,506.4 676.0,506.4 678.5,506.4 681.0,506.4 683.5,506.4 686.0,506.4 688.5,506.4 691.0,506.4 693.5,506.4 696.0,506.4 698.5,506.4 701.0,506.4 703.5,506.4 706.0,506.4 707.0,506.4" fill="none" stroke="#ff0000" stroke-width="2.08" stroke-linejoin="round" stroke-linecap="square"/>
<polyline points="626.0,506.8 628.5,506.8 631.0,506.8 633.5,506.8 636.0,506.8 638.5,506.8 641.0,506.8 643.5,506.8 646.0,506.8 648.5,506.9 651.0,507.0 653.5,507.2 656.0,507.4 658.5,507.6 661.0,507.8 663.5,507.9 666.0,508.0 668.5,508.0 671.0,508.0 673.5,507.9 676.0,507.8 678.5,507.7 681.0,507.5 683.5,507.4 686.0,507.3 688.5,507.3 691.0,507.3 693.5,507.3 696.0,507.3 698.5,507.3 701.0,507.3 703.5,507.3 706.0,507.3 707.0,507.3" fill="none" stroke="#ff0000" stroke-width="2.08" stroke-linejoin="round" stroke-linecap="square"/>
<polyline points="626.0,508.5 628.5,508.6 631.0,508.8 633.5,508.9 636.0,509.1 638.5,509.2 641.0,509.3 643.5,509.4 646.0,509.5 648.5,509.5 651.0,509.6 653.5,509.6 656.0,509.7 658.5,509.7 661.0,509.7 663.5,509.7 666.0,509.8 668.5,509.8 671.0,509.7 673.5,509.5 676.0,509.3 678.5,509.0 681.0,508.7 683.5,508.5 686.0,508.3 688.5,508.2 691.0,508.1 693.5,508.1 696.0,508.1 698.5,508.1 701.0,508.1 703.5,508.1 706.0,508.1 707.0,508.1" fill="none" stroke="#ff0000" stroke-width="2.08" stroke-linejoin="round" stroke-linecap="square"/>
<polyline points="626.0,513.0 628.5,513.0 631.0,513.0 633.5,513.0 636.0,513.0 638.5,513.0 641.0,513.0 643.5,513.0 646.0,513.0 648.5,513.0 651.0,513.0 653.5,512.9 656.0,512.9 658.5,512.8 661.0,512.7 663.5,512.6 666.0,512.5 668.5,512.4 671.0,512.3 673.5,512.0 676.0,511.8 678.5,511.5 681.0,511.3 683.5,511.1 686.0,510.9 688.5,510.8 691.0,510.8 693.5,510.8 696.0,510.8 698.5,510.9 701.0,510.9 703.5,510.9 706.0,510.9 707.0,510.9" fill="none" stroke="#ff0000" stroke-width="2.08" stroke-linejoin="round" stroke-linecap="square"/>
<polyline points="626.0,514.3 628.5,514.3 631.0,514.3 633.5,514.3 636.0,514.3 638.5,514.3 641.0,514.3 643.5,514.3 646.0,514.3 648.5,514.3 651.0,514.3 653.5,514.3 656.0,514.2 658.5,514.2 661.0,514.1 663.5,514.1 666.0,514.0 668.5,513.9 671.0,513.8 673.5,513.5 676.0,513.2 678.5,512.9 681.0,512.6 683.5,512.3 686.0,512.1 688.5,512.0 691.0,512.0 693.5,512.0 696.0,512.0 698.5,512.0 701.0,512.0 703.5,512.0 706.0,512.0 707.0,512.0" fill="none" stroke="#ff0000" stroke-width="2.08" stroke-linejoin="round" stroke-linecap="square"/>
<polyline points="626.0,515.6 628.5,515.6 631.0,515.6 633.5,515.6 636.0,515.6 638.5,515.6 641.0,515.6 643.5,515.6 646.0,515.6 648.5,515.6 651.0,515.6 653.5,515.6 656.0,515.6 658.5,515.6 661.0,515.5 663.5,515.5 666.0,515.5 668.5,515.5 671.0,515.3 673.5,515.1 676.0,514.7 678.5,514.3 681.0,513.9 683.5,513.6 686.0,513.3 688.5,513.2 691.0,513.1 693.5,513.1 696.0,513.1 698.5,513.1 701.0,513.1 703.5,513.1 706.0,513.1 707.0,513.1" fill="none" stroke="#ff0000" stroke-width="2.08" stroke-linejoin="round" stroke-linecap="square"/>
<polyline points="626.0,516.9 628.5,516.9 631.0,516.9 633.5,516.9 636.0,516.9 638.5,516.9 641.0,516.9 643.5,516.9 646.0,516.9 648.5,516.9 651.0,516.9 653.5,516.9 656.0,516.9 658.5,517.0 661.0,517.0 663.5,517.0 666.0,517.0 668.5,517.0 671.0,516.9 673.5,516.8 676.0,516.6 678.5,516.4 681.0,516.2 683.5,516.0 686.0,515.9 688.5,515.8 691.0,515.8 693.5,515.8 696.0,515.8 698.5,515.9 701.0,515.9 703.5,515.9 706.0,515.9 707.0,515.9" fill="none" stroke="#ff0000" stroke-width="2.08" stroke-linejoin="round" stroke-linecap="square"/>
<polyline points="626.0,518.2 628.5,518.2 631.0,518.2 633.5,518.2 636.0,518.2 638.5,518.2 641.0,518.2 643.5,518.2 646.0,518.2 648.5,518.2 651.0,518.2 653.5,518.3 656.0,518.3 658.5,518.4 661.0,518.4 663.5,518.5 666.0,518.5 668.5,518.5 671.0,518.4 673.5,518.3 676.0,518.0 678.5,517.8 681.0,517.5 683.5,517.3 686.0,517.1 688.5,517.0 691.0,517.0 693.5,517.0 696.0,517.0 698.5,517.1 701.0,517.1 703.5,517.1 706.0,517.1 707.0,517.1" fill="none" stroke="#ff0000" stroke-width="2.08" stroke-linejoin="round" stroke-linecap="square"/>
<polyline points="626.0,520.8 628.5,520.8 631.0,520.8 633.5,520.8 636.0,520.8 638.5,520.8 641.0,520.8 643.5,520.8 646.0,520.8 648.5,520.8 651.0,520.8 653.5,520.7 656.0,520.6 658.5,520.5 661.0,520.4 663.5,520.3 666.0,520.1 668.5,520.0 671.0,519.8 673.5,519.6 676.0,519.3 678.5,519.0 681.0,518.7 683.5,518.5 686.0,518.3 688.5,518.3 691.0,518.2 693.5,518.2 696.0,518.2 698.5,518.2 701.0,518.2 703.5,518.2 706.0,518.2 707.0,518.2" fill="none" stroke="#ff0000" stroke-width="2.08" stroke-linejoin="round" stroke-linecap="square"/>
<polyline points="626.0,521.4 628.5,521.4 631.0,521.3 633.5,521.3 636.0,521.3 638.5,521.3 641.0,521.3 643.5,521.3 646.0,521.3 648.5,521.3 651.0,521.3 653.5,521.4 656.0,521.4 658.5,521.5 661.0,521.5 663.5,521.5 666.0,521.6 668.5,521.6 671.0,521.5 673.5,521.2 676.0,520.9 678.5,520.5 681.0,520.2 683.5,519.8 686.0,519.6 688.5,519.5 691.0,519.4 693.5,519.4 696.0,519.4 698.5,519.4 701.0,519.4 703.5,519.4 706.0,519.4 707.0,519.4" fill="none" stroke="#ff0000" stroke-width="2.08" stroke-linejoin="round" stroke-linecap="square"/>
<polyline points="626.0,522.0 628.5,521.9 631.0,521.8 633.5,521.8 636.0,521.8 638.5,521.8 641.0,521.8 643.5,521.8 646.0,521.8 648.5,521.8 651.0,521.9 653.5,522.1 656.0,522.3 658.5,522.6 661.0,522.8 663.5,522.9 666.0,523.1 668.5,523.1 671.0,523.0 673.5,522.7 676.0,522.3 678.5,521.9 681.0,521.5 683.5,521.1 686.0,520.8 688.5,520.7 691.0,520.6 693.5,520.6 696.0,520.6 698.5,520.6 701.0,520.6 703.5,520.6 706.0,520.6 707.0,520.6" fill="none" stroke="#ff0000" stroke-width="2.08" stroke-linejoin="round" stroke-linecap="square"/>
<polyline points="626.0,524.5 628.5,524.5 631.0,524.5 633.5,524.4 636.0,524.4 638.5,524.4 641.0,524.4 643.5,524.3 646.0,524.3 648.5,524.3 651.0,524.4 653.5,524.4 656.0,524.5 658.5,524.5 661.0,524.5 663.5,524.6 666.0,524.6 668.5,524.6 671.0,524.5 673.5,524.4 676.0,524.2 678.5,524.0 681.0,523.8 683.5,523.6 686.0,523.4 688.5,523.3 691.0,523.3 693.5,523.3 696.0,523.3 698.5,523.4 701.0,523.4 703.5,523.4 706.0,523.4 707.0,523.4" fill="none" stroke="#ff0000" stroke-width="2.08" stroke-linejoin="round" stroke-linecap="square"/>
<polyline points="626.0,525.2 628.5,525.2 631.0,525.2 633.5,525.2 636.0,525.2 638.5,525.2 641.0,525.2 643.5,525.2 646.0,525.2 648.5,525.2 651.0,525.3 653.5,525.4 656.0,525.6 658.5,525.7 661.0,525.9 663.5,526.0 666.0,526.1 668.5,526.1 671.0,526.0 673.5,525.9 676.0,525.6 678.5,525.4 681.0,525.1 683.5,524.9 686.0,524.7 688.5,524.6 691.0,524.6 693.5,524.6 696.0,524.6 698.5,524.6 701.0,524.6 703.5,524.6 706.0,524.7 707.0,524.7" fill="none" stroke="#ff0000" stroke-width="2.08" stroke-linejoin="round" stroke-linecap="square"/>
<polyline points="626.0,527.8 628.5,527.8 631.0,527.8 633.5,527.8 636.0,527.8 638.5,527.8 641.0,527.8 643.5,527.8 646.0,527.8 648.5,527.8 651.0,527.8 653.5,527.8 656.0,527.8 658.5,527.8 661.0,527.7 663.5,527.7 666.0,527.7 668.5,527.6 671.0,527.5 673.5,527.3 676.0,527.0 678.5,526.7 681.0,526.4 683.5,526.2 686.0,526.0 688.5,525.9 691.0,525.9 693.5,525.9 696.0,525.9 698.5,525.9 701.0,525.9 703.5,525.9 706.0,525.9 707.0,525.9" fill="none" stroke="#ff0000" stroke-width="2.08" stroke-linejoin="round" stroke-linecap="square"/>
<polyline points="626.0,529.2 628.5,529.0 631.0,528.8 633.5,528.6 636.0,528.5 638.5,528.4 641.0,528.3 643.5,528.3 646.0,528.3 648.5,528.3 651.0,528.4 653.5,528.5 656.0,528.7 658.5,528.8 661.0,529.0 663.5,529.1 666.0,529.2 668.5,529.2 671.0,529.1 673.5,528.8 676.0,528.5 678.5,528.2 681.0,527.8 683.5,527.5 686.0,527.3 688.5,527.2 691.0,527.2 693.5,527.2 696.0,527.1 698.5,527.1 701.0,527.1 703.5,527.1 706.0,527.1 707.0,527.1" fill="none" stroke="#ff0000" stroke-width="2.08" stroke-linejoin="round" stroke-linecap="square"/>
<polyline points="626.0,530.6 628.5,530.7 631.0,530.8 633.5,530.8 636.0,530.9 638.5,531.0 641.0,531.0 643.5,531.0 646.0,531.0 648.5,531.0 651.0,531.0 653.5,531.0 656.0,531.0 658.5,530.9 661.0,530.9 663.5,530.8 666.0,530.7 668.5,530.7 671.0,530.5 673.5,530.2 676.0,529.9 678.5,529.5 681.0,529.2 683.5,528.8 686.0,528.6 688.5,528.5 691.0,528.4 693.5,528.4 696.0,528.4 698.5,528.4 701.0,528.4 703.5,528.4 706.0,528.4 707.0,528.4" fill="none" stroke="#ff0000" stroke-width="2.08" stroke-linejoin="round" stroke-linecap="square"/>
<polyline points="626.0,532.0 628.5,532.0 631.0,532.1 633.5,532.1 636.0,532.2 638.5,532.2 641.0,532.3 643.5,532.3 646.0,532.3 648.5,532.3 651.0,532.3 653.5,532.3 656.0,532.3 658.5,532.3 661.0,532.2 663.5,532.2 666.0,532.2 668.5,532.2 671.0,532.2 673.5,532.1 676.0,532.0 678.5,531.9 681.0,531.8 683.5,531.6 686.0,531.6 688.5,531.5 691.0,531.5 693.5,531.5 696.0,531.5 698.5,531.6 701.0,531.6 703.5,531.6 706.0,531.6 707.0,531.6" fill="none" stroke="#ff0000" stroke-width="2.08" stroke-linejoin="round" stroke-linecap="square"/>
<polyline points="626.0,534.6 628.5,534.4 631.0,534.2 633.5,534.0 636.0,533.9 638.5,533.7 641.0,533.6 643.5,533.5 646.0,533.5 648.5,533.5 651.0,533.5 653.5,533.6 656.0,533.6 658.5,533.7 661.0,533.7 663.5,533.7 666.0,533.7 668.5,533.7 671.0,533.7 673.5,533.6 676.0,533.5 678.5,533.3 681.0,533.2 683.5,533.0 686.0,532.9 688.5,532.9 691.0,532.9 693.5,532.9 696.0,532.9 698.5,532.9 701.0,532.9 703.5,532.9 706.0,532.9 707.0,532.9" fill="none" stroke="#ff0000" stroke-width="2.08" stroke-linejoin="round" stroke-linecap="square"/>
<polyline points="626.0,535.5 628.5,535.3 631.0,535.2 633.5,535.1 636.0,535.0 638.5,534.9 641.0,534.8 643.5,534.8 646.0,534.8 648.5,534.8 651.0,534.8 653.5,534.9 656.0,535.0 658.5,535.1 661.0,535.1 663.5,535.2 666.0,535.2 668.5,535.3 671.0,535.2 673.5,535.1 676.0,534.9 678.5,534.7 681.0,534.5 683.5,534.4 686.0,534.3 688.5,534.2 691.0,534.2 693.5,534.2 696.0,534.2 698.5,534.2 701.0,534.2 703.5,534.2 706.0,534.2 707.0,534.2" fill="none" stroke="#ff0000" stroke-width="2.08" stroke-linejoin="round" stroke-linecap="square"/>
<polyline points="626.0,540.0 628.5,539.9 631.0,539.8 633.5,539.7 636.0,539.6 638.5,539.4 641.0,539.3 643.5,539.2 646.0,539.0 648.5,538.9 651.0,538.8 653.5,538.7 656.0,538.5 658.5,538.4 661.0,538.3 663.5,538.1 666.0,538.0 668.5,537.8 671.0,537.6 673.5,537.2 676.0,536.9 678.5,536.5 681.0,536.1 683.5,535.8 686.0,535.6 688.5,535.5 691.0,535.5 693.5,535.5 696.0,535.5 698.5,535.5 701.0,535.5 703.5,535.5 706.0,535.5 707.0,535.5" fill="none" stroke="#ff0000" stroke-width="2.08" stroke-linejoin="round" stroke-linecap="square"/>
<polyline points="626.0,540.5 628.5,540.4 631.0,540.3 633.5,540.2 636.0,540.1 638.5,540.1 641.0,540.0 643.5,539.9 646.0,539.8 648.5,539.8 651.0,539.8 653.5,539.7 656.0,539.7 658.5,539.7 661.0,539.6 663.5,539.6 666.0,539.5 668.5,539.5 671.0,539.3 673.5,538.9 676.0,538.5 678.5,538.1 681.0,537.6 683.5,537.3 686.0,537.0 688.5,536.9 691.0,536.9 693.5,536.9 696.0,536.9 698.5,536.9 701.0,536.9 703.5,536.9 706.0,536.9 707.0,536.9" fill="none" stroke="#ff0000" stroke-width="2.08" stroke-linejoin="round" stroke-linecap="square"/>
<polyline points="626.0,541.0 628.5,540.9 631.0,540.8 633.5,540.8 636.0,540.7 638.5,540.7 641.0,540.7 643.5,540.7 646.0,540.7 648.5,540.7 651.0,540.7 653.5,540.8 656.0,540.9 658.5,540.9 661.0,541.0 663.5,541.1 666.0,541.1 668.5,541.1 671.0,541.0 673.5,540.6 676.0,540.2 678.5,539.7 681.0,539.1 683.5,538.7 686.0,538.3 688.5,538.2 691.0,538.2 693.5,538.2 696.0,538.2 698.5,538.2 701.0,538.2 703.5,538.2 706.0,538.2 707.0,538.2" fill="none" stroke="#ff0000" stroke-width="2.08" stroke-linejoin="round" stroke-linecap="square"/>
<polyline points="626.0,541.5 628.5,541.5 631.0,541.5 633.5,541.5 636.0,541.5 638.5,541.5 641.0,541.5 643.5,541.5 646.0,541.5 648.5,541.5 651.0,541.6 653.5,541.8 656.0,542.0 658.5,542.2 661.0,542.4 663.5,542.6 666.0,542.7 668.5,542.8 671.0,542.6 673.5,542.2 676.0,541.7 678.5,541.1 681.0,540.6 683.5,540.1 686.0,539.7 688.5,539.5 691.0,539.5 693.5,539.5 696.0,539.5 698.5,539.5 701.0,539.5 703.5,539.5 706.0,539.5 707.0,539.5" fill="none" stroke="#ff0000" stroke-width="2.08" stroke-linejoin="round" stroke-linecap="square"/>
<polyline points="626.0,547.5 628.5,547.4 631.0,547.3 633.5,547.2 636.0,547.1 638.5,546.9 641.0,546.8 643.5,546.7 646.0,546.5 648.5,546.4 651.0,546.3 653.5,546.2 656.0,546.0 658.5,545.9 661.0,545.8 663.5,545.6 666.0,545.4 668.5,545.2 671.0,544.8 673.5,544.2 676.0,543.5 678.5,542.8 681.0,542.1 683.5,541.5 686.0,541.1 688.5,540.8 691.0,540.8 693.5,540.8 696.0,540.8 698.5,540.8 701.0,540.8 703.5,540.8 706.0,540.8 707.0,540.8" fill="none" stroke="#ff0000" stroke-width="2.08" stroke-linejoin="round" stroke-linecap="square"/>
<polyline points="626.0,547.6 628.5,547.5 631.0,547.4 633.5,547.3 636.0,547.1 638.5,547.0 641.0,546.9 643.5,546.8 646.0,546.6 648.5,546.5 651.0,546.4 653.5,546.3 656.0,546.1 658.5,546.0 661.0,545.9 663.5,545.7 666.0,545.5 668.5,545.3 671.0,545.0 673.5,544.6 676.0,544.1 678.5,543.6 681.0,543.1 683.5,542.7 686.0,542.3 688.5,542.2 691.0,542.1 693.5,542.1 696.0,542.1 698.5,542.1 701.0,542.1 703.5,542.1 706.0,542.1 707.0,542.1" fill="none" stroke="#ff0000" stroke-width="2.08" stroke-linejoin="round" stroke-linecap="square"/>
<polyline points="626.0,547.7 628.5,547.6 631.0,547.5 633.5,547.3 636.0,547.2 638.5,547.1 641.0,547.0 643.5,546.8 646.0,546.7 648.5,546.6 651.0,546.4 653.5,546.3 656.0,546.1 658.5,546.0 661.0,545.9 663.5,545.7 666.0,545.6 668.5,545.5 671.0,545.4 673.5,545.3 676.0,545.2 678.5,545.1 681.0,545.0 683.5,544.9 686.0,544.9 688.5,544.8 691.0,544.8 693.5,544.8 696.0,544.8 698.5,544.9 701.0,544.9 703.5,544.9 706.0,544.9 707.0,544.9" fill="none" stroke="#ff0000" stroke-width="2.08" stroke-linejoin="round" stroke-linecap="square"/>
<polyline points="626.0,547.8 628.5,547.7 631.0,547.5 633.5,547.4 636.0,547.3 638.5,547.2 641.0,547.0 643.5,546.9 646.0,546.8 648.5,546.7 651.0,546.5 653.5,546.4 656.0,546.3 658.5,546.1 661.0,546.0 663.5,545.9 666.0,545.8 668.5,545.7 671.0,545.6 673.5,545.5 676.0,545.4 678.5,545.3 681.0,545.2 683.5,545.1 686.0,545.1 688.5,545.0 691.0,545.0 693.5,545.0 696.0,545.0 698.5,545.0 701.0,545.0 703.5,545.0 706.0,545.0 707.0,545.0" fill="none" stroke="#ff0000" stroke-width="2.08" stroke-linejoin="round" stroke-linecap="square"/>
<polyline points="626.0,547.9 628.5,547.7 631.0,547.6 633.5,547.5 636.0,547.4 638.5,547.2 641.0,547.1 643.5,547.0 646.0,546.9 648.5,546.8 651.0,546.6 653.5,546.5 656.0,546.4 658.5,546.2 661.0,546.1 663.5,546.0 666.0,545.9 668.5,545.8 671.0,545.7 673.5,545.6 676.0,545.5 678.5,545.5 681.0,545.4 683.5,545.3 686.0,545.3 688.5,545.3 691.0,545.2 693.5,545.2 696.0,545.2 698.5,545.2 701.0,545.2 703.5,545.2 706.0,545.2 707.0,545.2" fill="none" stroke="#ff0000" stroke-width="2.08" stroke-linejoin="round" stroke-linecap="square"/>
<polyline points="626.0,548.0 628.5,547.8 631.0,547.7 633.5,547.6 636.0,547.4 638.5,547.3 641.0,547.2 643.5,547.1 646.0,547.0 648.5,546.8 651.0,546.7 653.5,546.6 656.0,546.5 658.5,546.3 661.0,546.2 663.5,546.1 666.0,546.0 668.5,545.9 671.0,545.9 673.5,545.8 676.0,545.7 678.5,545.7 681.0,545.6 683.5,545.6 686.0,545.5 688.5,545.5 691.0,545.4 693.5,545.4 696.0,545.4 698.5,545.3 701.0,545.3 703.5,545.3 706.0,545.3 707.0,545.3" fill="none" stroke="#ff0000" stroke-width="2.08" stroke-linejoin="round" stroke-linecap="square"/>
<polyline points="626.0,555.8 628.5,555.3 631.0,554.9 633.5,554.4 636.0,554.0 638.5,553.5 641.0,553.1 643.5,552.7 646.0,552.3 648.5,551.9 651.0,551.6 653.5,551.2 656.0,550.9 658.5,550.5 661.0,550.2 663.5,549.8 666.0,549.5 668.5,549.1 671.0,548.8 673.5,548.5 676.0,548.2 678.5,548.0 681.0,547.8 683.5,547.6 686.0,547.5 688.5,547.4 691.0,547.2 693.5,547.1 696.0,547.0 698.5,546.9 701.0,546.9 703.5,546.8 706.0,546.8 707.0,546.8" fill="none" stroke="#ff0000" stroke-width="2.08" stroke-linejoin="round" stroke-linecap="square"/>
<polyline points="626.0,555.8 628.5,555.2 631.0,554.6 633.5,554.0 636.0,553.4 638.5,552.9 641.0,552.3 643.5,551.8 646.0,551.3 648.5,550.8 651.0,550.3 653.5,549.8 656.0,549.3 658.5,548.8 661.0,548.3 663.5,547.8 666.0,547.4 668.5,547.1 671.0,546.9 673.5,546.7 676.0,546.6 678.5,546.4 681.0,546.3 683.5,546.2 686.0,546.1 688.5,546.0 691.0,545.9 693.5,545.9 696.0,545.8 698.5,545.7 701.0,545.7 703.5,545.6 706.0,545.6 707.0,545.6" fill="none" stroke="#ff0000" stroke-width="2.08" stroke-linejoin="round" stroke-linecap="square"/>
<polyline points="626.0,555.8 628.5,555.0 631.0,554.1 633.5,553.3 636.0,552.4 638.5,551.6 641.0,550.8 643.5,550.0 646.0,549.1 648.5,548.3 651.0,547.5 653.5,546.7 656.0,546.0 658.5,545.4 661.0,544.8 663.5,544.2 666.0,543.7 668.5,543.2 671.0,542.9 673.5,542.5 676.0,542.2 678.5,541.9 681.0,541.7 683.5,541.4 686.0,541.2 688.5,541.0 691.0,540.9 693.5,540.7 696.0,540.5 698.5,540.4 701.0,540.2 703.5,540.1 706.0,540.0 707.0,540.0" fill="none" stroke="#ff0000" stroke-width="2.08" stroke-linejoin="round" stroke-linecap="square"/>
</g>
<g clip-path="url(#c3)">
<polyline points="723.2,169.0 723.2,174.1 727.7,175.4 768.2,176.4 727.7,177.4 723.2,178.4 723.2,178.7 727.4,179.6 765.2,180.6 727.4,181.6 723.2,182.8 723.2,182.8 726.6,184.0 757.2,185.0 726.6,186.0 723.2,187.2 723.2,356.9 729.2,358.5 783.2,359.5 729.2,360.5 723.2,362.1 723.2,426.5 736.1,429.8 851.7,430.8 736.1,431.8 723.2,433.0 723.2,433.1 728.1,434.0 772.2,435.0 728.1,436.0 723.2,437.0 723.2,458.2 733.4,459.6 825.2,460.6 733.4,461.6 723.2,463.0 723.2,556.7" fill="#1f77b4" stroke="#1f77b4" stroke-width="2.08" stroke-linejoin="round"/>
<polyline points="723.2,169.0 723.2,438.6 735.2,441.0 773.2,444.6 743.2,445.7 763.2,446.7 723.2,448.4 723.2,504.2 745.2,506.0 723.2,507.8 723.2,517.8 758.2,519.8 723.2,521.4 723.2,536.6 742.2,538.3 723.2,540.0 723.2,543.6 735.2,545.0 723.2,546.8 723.2,556.7" fill="#ff7f0e" stroke="#ff7f0e" stroke-width="2.08" stroke-linejoin="round"/>
<polyline points="723.2,169.0 723.2,448.6 743.2,451.2 735.2,452.6 850.8,453.8 733.2,454.9 723.2,455.8 723.2,459.0 736.2,460.6 723.2,462.2 723.2,490.8 735.2,494.5 750.2,497.0 739.2,498.6 770.2,501.2 726.2,503.2 735.2,506.0 723.2,507.8 723.2,526.6 745.2,528.7 731.2,530.3 744.2,532.0 723.2,533.8 723.2,541.8 733.2,543.8 723.2,545.6 723.2,556.7" fill="#2ca02c" stroke="#2ca02c" stroke-width="2.08" stroke-linejoin="round"/>
<polyline points="723.2,169.0 723.2,173.5 726.2,176.4 724.2,178.5 726.2,180.6 724.2,182.8 726.7,185.0 723.2,187.5 723.2,357.5 726.2,359.5 723.2,361.5 723.2,428.6 731.7,430.4 723.2,432.2 723.2,458.8 731.7,460.6 723.2,462.4 723.2,509.0 728.2,511.5 730.2,514.5 733.2,516.2 759.2,518.0 735.2,520.2 754.2,522.7 723.2,524.4 723.2,540.0 725.2,545.0 723.2,550.0 723.2,556.7" fill="#d62728" stroke="#d62728" stroke-width="2.08" stroke-linejoin="round"/>
<polyline points="723.2,169.0 723.2,492.5 730.2,495.5 738.7,498.5 731.2,501.0 728.2,503.5 726.2,507.0 727.2,509.5 733.2,511.5 750.2,513.5 739.2,515.2 744.2,517.0 737.2,519.0 743.2,521.0 731.2,523.2 729.2,526.2 732.2,529.0 729.2,532.0 726.2,535.0 727.2,538.5 728.7,543.0 727.2,547.0 723.2,550.5 723.2,556.7" fill="#9467bd" stroke="#9467bd" stroke-width="2.08" stroke-linejoin="round"/>
<polyline points="723.2,169.0 723.2,436.8 728.2,440.0 733.7,443.5 725.2,447.0 726.2,449.5 746.2,453.5 723.2,455.5 723.2,490.5 726.7,493.5 729.2,498.0 728.7,503.0 729.7,507.0 727.2,510.0 727.2,514.0 726.2,520.0 727.2,526.0 728.2,531.0 730.2,533.8 741.2,535.8 732.2,537.5 735.2,540.0 740.2,541.4 750.7,542.7 740.2,544.0 731.2,547.0 725.2,550.5 723.2,553.0 723.2,556.7" fill="#8c564b" stroke="#8c564b" stroke-width="2.08" stroke-linejoin="round"/>
<line x1="724.6" y1="169" x2="724.6" y2="556.7" stroke="#a03a34" stroke-width="0.9"/>
<polyline points="723.2,169.0 723.2,173.8 734.1,175.5 772.6,176.4 738.7,177.3 729.2,178.5 738.1,179.7 769.7,180.6 737.3,181.5 728.2,182.8 735.5,184.1 761.3,185.0 731.6,185.9 723.2,187.6 723.2,356.8 731.2,358.5 789.2,359.5 731.2,360.5 723.2,362.2 723.2,426.0 741.2,429.7 889.2,430.8 741.2,431.9 733.2,433.2 742.4,434.0 775.2,434.9 737.8,435.8 727.2,436.8 731.2,438.6 747.2,441.0 755.6,443.7 785.2,444.6 751.2,445.7 768.2,446.7 737.8,447.6 729.2,448.4 747.2,451.2 741.2,452.6 889.2,453.8 737.2,454.9 725.2,455.8 723.2,457.8 737.2,459.4 847.2,460.4 737.2,461.5 723.2,463.0 723.2,489.5 727.2,491.5 739.2,494.0 748.9,495.9 783.2,496.8 756.7,497.7 749.2,498.4 754.2,499.6 763.2,500.5 795.2,501.4 748.4,502.3 735.2,503.6 742.2,505.1 767.2,506.0 739.9,506.9 732.2,508.2 736.9,509.9 753.7,510.8 743.2,512.0 781.2,513.3 756.2,514.2 749.2,515.5 763.2,517.0 776.1,518.1 821.7,519.0 772.2,519.9 758.2,520.8 761.9,521.4 775.2,522.3 745.6,523.2 737.2,524.2 745.2,526.2 752.2,527.4 777.2,528.3 754.6,529.2 748.2,529.8 752.9,530.4 769.7,531.3 745.1,532.2 738.2,533.2 748.1,534.5 783.2,535.4 752.0,536.3 743.2,537.6 753.2,539.6 759.2,541.0 763.5,541.6 778.8,542.5 767.2,543.4 745.2,547.0 727.2,550.4 723.8,552.5 723.2,556.7" fill="none" stroke="#000000" stroke-width="1.40" stroke-linejoin="round" stroke-dasharray="1.3 1.45"/>
</g>
<rect x="120.00" y="152.30" width="374.70" height="422.40" fill="none" stroke="#000" stroke-width="2.00"/>
<rect x="511.10" y="152.30" width="195.90" height="422.40" fill="none" stroke="#000" stroke-width="2.00"/>
<rect x="723.20" y="152.30" width="140.60" height="422.40" fill="none" stroke="#000" stroke-width="2.00"/>
<g font-family="'DejaVu Sans', 'Liberation Sans', sans-serif" font-size="20.83px" fill="#000">
<text x="112.3" y="562.9" text-anchor="end">0</text>
<text x="112.3" y="480.1" text-anchor="end">20</text>
<text x="112.3" y="397.4" text-anchor="end">40</text>
<text x="112.3" y="314.6" text-anchor="end">60</text>
<text x="112.3" y="231.9" text-anchor="end">80</text>
<text x="120.0" y="596.2" text-anchor="middle" font-size="20.1px">Γ</text>
<text x="248.6" y="595.9" text-anchor="middle">Y</text>
<text x="307.1" y="595.9" text-anchor="middle">M</text>
<text x="436.1" y="595.9" text-anchor="middle">A</text>
<text x="494.0" y="596.2" text-anchor="middle" font-size="20.1px">Γ</text>
<text x="510.3" y="596.7" text-anchor="middle">L<tspan font-size="14.58px" dx="-0.9" dy="3.6">2</tspan></text>
<text x="626.0" y="596.2" text-anchor="middle" font-size="20.1px">Γ</text>
<text x="706.3" y="596.7" text-anchor="middle">V<tspan font-size="14.58px" dx="-0.9" dy="3.6">2</tspan></text>
<text x="723.2" y="597.6" text-anchor="middle">0</text>
<text x="861.3" y="597.6" text-anchor="middle">10</text>
<text transform="translate(73.9 363.5) rotate(-90)" text-anchor="middle">Frequency (THz)</text>
</g>
</svg>
</body></html>
